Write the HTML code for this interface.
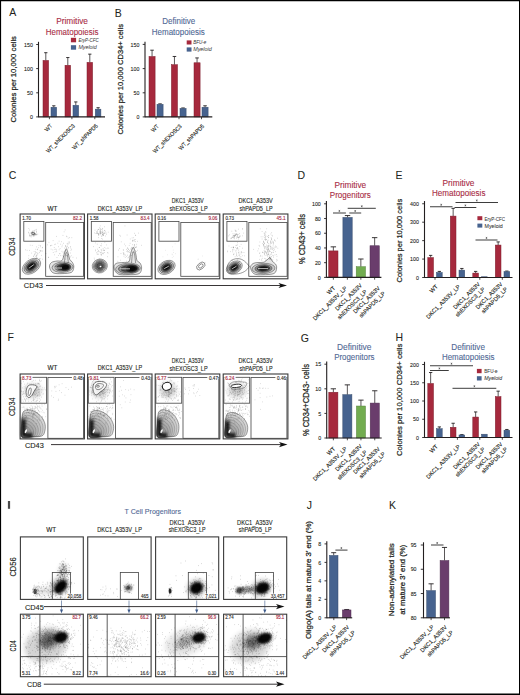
<!DOCTYPE html>
<html><head><meta charset="utf-8"><style>html,body{margin:0;padding:0;background:#fff;}svg{display:block;font-family:"Liberation Sans",sans-serif;}</style></head>
<body><svg width="520" height="695" viewBox="0 0 520 695" font-family="Liberation Sans, sans-serif"><rect x="0" y="0" width="520" height="695" fill="#fff"/>
<text x="9.2" y="16" font-size="10.5" fill="#231f20" stroke="#231f20" stroke-width="0.05">A</text>
<text x="56.2" y="24" font-size="8.4" fill="#a82c44" stroke="#a82c44" stroke-width="0.1" textLength="31.8" lengthAdjust="spacingAndGlyphs">Primitive</text>
<text x="45.8" y="34.6" font-size="8.4" fill="#a82c44" stroke="#a82c44" stroke-width="0.1" textLength="52.7" lengthAdjust="spacingAndGlyphs">Hematopoiesis</text>
<line x1="38.5" y1="41.8" x2="38.5" y2="117.30000000000001" stroke="#231f20" stroke-width="1.1"/>
<line x1="36.2" y1="44.5" x2="38.5" y2="44.5" stroke="#231f20" stroke-width="0.9"/>
<text x="32.9" y="46.65" font-size="6.0" fill="#231f20" stroke="#231f20" stroke-width="0.1" text-anchor="end" textLength="8.81" lengthAdjust="spacingAndGlyphs">150</text>
<line x1="36.2" y1="68.6" x2="38.5" y2="68.6" stroke="#231f20" stroke-width="0.9"/>
<text x="32.9" y="70.75" font-size="6.0" fill="#231f20" stroke="#231f20" stroke-width="0.1" text-anchor="end" textLength="8.81" lengthAdjust="spacingAndGlyphs">100</text>
<line x1="36.2" y1="92.8" x2="38.5" y2="92.8" stroke="#231f20" stroke-width="0.9"/>
<text x="32.9" y="94.95" font-size="6.0" fill="#231f20" stroke="#231f20" stroke-width="0.1" text-anchor="end" textLength="5.87" lengthAdjust="spacingAndGlyphs">50</text>
<line x1="36.2" y1="116.9" x2="38.5" y2="116.9" stroke="#231f20" stroke-width="0.9"/>
<text x="32.9" y="119.05" font-size="6.0" fill="#231f20" stroke="#231f20" stroke-width="0.1" text-anchor="end" textLength="2.94" lengthAdjust="spacingAndGlyphs">0</text>
<line x1="45.8" y1="60.428" x2="45.8" y2="52.70533333333333" stroke="#231f20" stroke-width="0.75"/>
<line x1="44.175999999999995" y1="52.70533333333333" x2="47.424" y2="52.70533333333333" stroke="#231f20" stroke-width="0.9"/>
<rect x="43.00" y="60.43" width="5.60" height="56.47" fill="#a6293d" stroke="#7c1e2d" stroke-width="0.5"/>
<line x1="53.8" y1="107.24666666666667" x2="53.8" y2="105.79866666666668" stroke="#231f20" stroke-width="0.75"/>
<line x1="52.175999999999995" y1="105.79866666666668" x2="55.424" y2="105.79866666666668" stroke="#231f20" stroke-width="0.9"/>
<rect x="51.00" y="107.25" width="5.60" height="9.65" fill="#47638f" stroke="#354a6b" stroke-width="0.5"/>
<line x1="67.8" y1="65.25466666666668" x2="67.8" y2="57.532000000000004" stroke="#231f20" stroke-width="0.75"/>
<line x1="66.176" y1="57.532000000000004" x2="69.42399999999999" y2="57.532000000000004" stroke="#231f20" stroke-width="0.9"/>
<rect x="65.00" y="65.25" width="5.60" height="51.65" fill="#a6293d" stroke="#7c1e2d" stroke-width="0.5"/>
<line x1="75.8" y1="105.316" x2="75.8" y2="101.93733333333334" stroke="#231f20" stroke-width="0.75"/>
<line x1="74.176" y1="101.93733333333334" x2="77.42399999999999" y2="101.93733333333334" stroke="#231f20" stroke-width="0.9"/>
<rect x="73.00" y="105.32" width="5.60" height="11.58" fill="#47638f" stroke="#354a6b" stroke-width="0.5"/>
<line x1="89.8" y1="62.358666666666664" x2="89.8" y2="54.153333333333336" stroke="#231f20" stroke-width="0.75"/>
<line x1="88.176" y1="54.153333333333336" x2="91.42399999999999" y2="54.153333333333336" stroke="#231f20" stroke-width="0.9"/>
<rect x="87.00" y="62.36" width="5.60" height="54.54" fill="#a6293d" stroke="#7c1e2d" stroke-width="0.5"/>
<line x1="98.1" y1="109.17733333333334" x2="98.1" y2="107.72933333333334" stroke="#231f20" stroke-width="0.75"/>
<line x1="96.476" y1="107.72933333333334" x2="99.72399999999999" y2="107.72933333333334" stroke="#231f20" stroke-width="0.9"/>
<rect x="95.30" y="109.18" width="5.60" height="7.72" fill="#47638f" stroke="#354a6b" stroke-width="0.5"/>
<line x1="38.5" y1="116.9" x2="105" y2="116.9" stroke="#231f20" stroke-width="1.1"/>
<line x1="49.4" y1="116.9" x2="49.4" y2="119.2" stroke="#231f20" stroke-width="0.8"/>
<line x1="71.9" y1="116.9" x2="71.9" y2="119.2" stroke="#231f20" stroke-width="0.8"/>
<line x1="94.8" y1="116.9" x2="94.8" y2="119.2" stroke="#231f20" stroke-width="0.8"/>
<rect x="70.90" y="37.80" width="5.20" height="4.50" fill="#a6293d"/>
<rect x="70.90" y="45.20" width="5.20" height="4.50" fill="#47638f"/>
<text x="78.4" y="41.8" font-size="5.4" fill="#333" textLength="20.4" lengthAdjust="spacingAndGlyphs" font-style="italic">EryP-CFC</text>
<text x="78.4" y="48.9" font-size="5.4" fill="#333" textLength="18.3" lengthAdjust="spacingAndGlyphs" font-style="italic">Myeloid</text>
<text x="16.5" y="79.3" font-size="7.8" fill="#231f20" stroke="#231f20" stroke-width="0.24" text-anchor="middle" textLength="86.5" lengthAdjust="spacingAndGlyphs" transform="rotate(-90 16.5 79.3)">Colonies per 10,000 cells</text>
<text x="52.9" y="126.3" font-size="5.8" fill="#231f20" stroke="#231f20" stroke-width="0.12" text-anchor="end" textLength="8.21" lengthAdjust="spacingAndGlyphs" transform="rotate(-45 52.9 126.3)">WT</text>
<text x="75.4" y="126.3" font-size="5.8" fill="#231f20" stroke="#231f20" stroke-width="0.12" text-anchor="end" textLength="38.13" lengthAdjust="spacingAndGlyphs" transform="rotate(-45 75.4 126.3)">WT_shEXOSC3</text>
<text x="98.3" y="126.3" font-size="5.8" fill="#231f20" stroke="#231f20" stroke-width="0.12" text-anchor="end" textLength="33.63" lengthAdjust="spacingAndGlyphs" transform="rotate(-45 98.3 126.3)">WT_shPAPD5</text>
<text x="114.8" y="16.7" font-size="10.5" fill="#231f20" stroke="#231f20" stroke-width="0.05">B</text>
<text x="178.7" y="24.2" font-size="8.4" fill="#4f6894" stroke="#4f6894" stroke-width="0.1" text-anchor="middle" textLength="33" lengthAdjust="spacingAndGlyphs">Definitive</text>
<text x="151.7" y="34.5" font-size="8.4" fill="#4f6894" stroke="#4f6894" stroke-width="0.1" textLength="53.1" lengthAdjust="spacingAndGlyphs">Hematopoiesis</text>
<line x1="145" y1="41.699999999999996" x2="145" y2="117.30000000000001" stroke="#231f20" stroke-width="1.1"/>
<line x1="142.7" y1="44.4" x2="145" y2="44.4" stroke="#231f20" stroke-width="0.9"/>
<text x="139.4" y="46.55" font-size="6.0" fill="#231f20" stroke="#231f20" stroke-width="0.1" text-anchor="end" textLength="8.81" lengthAdjust="spacingAndGlyphs">150</text>
<line x1="142.7" y1="68.6" x2="145" y2="68.6" stroke="#231f20" stroke-width="0.9"/>
<text x="139.4" y="70.75" font-size="6.0" fill="#231f20" stroke="#231f20" stroke-width="0.1" text-anchor="end" textLength="8.81" lengthAdjust="spacingAndGlyphs">100</text>
<line x1="142.7" y1="92.8" x2="145" y2="92.8" stroke="#231f20" stroke-width="0.9"/>
<text x="139.4" y="94.95" font-size="6.0" fill="#231f20" stroke="#231f20" stroke-width="0.1" text-anchor="end" textLength="5.87" lengthAdjust="spacingAndGlyphs">50</text>
<line x1="142.7" y1="116.9" x2="145" y2="116.9" stroke="#231f20" stroke-width="0.9"/>
<text x="139.4" y="119.05" font-size="6.0" fill="#231f20" stroke="#231f20" stroke-width="0.1" text-anchor="end" textLength="2.94" lengthAdjust="spacingAndGlyphs">0</text>
<line x1="152.05" y1="56.48333333333334" x2="152.05" y2="50.2" stroke="#231f20" stroke-width="0.75"/>
<line x1="150.281" y1="50.2" x2="153.81900000000002" y2="50.2" stroke="#231f20" stroke-width="0.9"/>
<rect x="149.00" y="56.48" width="6.10" height="60.42" fill="#a6293d" stroke="#7c1e2d" stroke-width="0.5"/>
<line x1="160.05" y1="104.33333333333334" x2="160.05" y2="103.85000000000001" stroke="#231f20" stroke-width="0.75"/>
<line x1="158.281" y1="103.85000000000001" x2="161.81900000000002" y2="103.85000000000001" stroke="#231f20" stroke-width="0.9"/>
<rect x="157.00" y="104.33" width="6.10" height="12.57" fill="#47638f" stroke="#354a6b" stroke-width="0.5"/>
<line x1="174.45" y1="64.7" x2="174.45" y2="56.48333333333334" stroke="#231f20" stroke-width="0.75"/>
<line x1="172.68099999999998" y1="56.48333333333334" x2="176.219" y2="56.48333333333334" stroke="#231f20" stroke-width="0.9"/>
<rect x="171.40" y="64.70" width="6.10" height="52.20" fill="#a6293d" stroke="#7c1e2d" stroke-width="0.5"/>
<line x1="183.05" y1="108.44166666666668" x2="183.05" y2="107.95833333333334" stroke="#231f20" stroke-width="0.75"/>
<line x1="181.281" y1="107.95833333333334" x2="184.81900000000002" y2="107.95833333333334" stroke="#231f20" stroke-width="0.9"/>
<rect x="180.00" y="108.44" width="6.10" height="8.46" fill="#47638f" stroke="#354a6b" stroke-width="0.5"/>
<line x1="197.05" y1="62.76666666666667" x2="197.05" y2="57.93333333333334" stroke="#231f20" stroke-width="0.75"/>
<line x1="195.281" y1="57.93333333333334" x2="198.81900000000002" y2="57.93333333333334" stroke="#231f20" stroke-width="0.9"/>
<rect x="194.00" y="62.77" width="6.10" height="54.13" fill="#a6293d" stroke="#7c1e2d" stroke-width="0.5"/>
<line x1="205.05" y1="107.23333333333333" x2="205.05" y2="105.78333333333333" stroke="#231f20" stroke-width="0.75"/>
<line x1="203.281" y1="105.78333333333333" x2="206.81900000000002" y2="105.78333333333333" stroke="#231f20" stroke-width="0.9"/>
<rect x="202.00" y="107.23" width="6.10" height="9.67" fill="#47638f" stroke="#354a6b" stroke-width="0.5"/>
<line x1="145" y1="116.9" x2="212.3" y2="116.9" stroke="#231f20" stroke-width="1.1"/>
<line x1="156" y1="116.9" x2="156" y2="119.2" stroke="#231f20" stroke-width="0.8"/>
<line x1="179" y1="116.9" x2="179" y2="119.2" stroke="#231f20" stroke-width="0.8"/>
<line x1="201.5" y1="116.9" x2="201.5" y2="119.2" stroke="#231f20" stroke-width="0.8"/>
<rect x="186.70" y="40.40" width="4.80" height="4.10" fill="#a6293d"/>
<rect x="186.70" y="47.40" width="4.80" height="4.20" fill="#47638f"/>
<text x="193.2" y="44.3" font-size="5.4" fill="#333" textLength="13" lengthAdjust="spacingAndGlyphs" font-style="italic">BFU-e</text>
<text x="193.2" y="51.4" font-size="5.4" fill="#333" textLength="18.5" lengthAdjust="spacingAndGlyphs" font-style="italic">Myeloid</text>
<text x="123.5" y="79.3" font-size="7.8" fill="#231f20" stroke="#231f20" stroke-width="0.24" text-anchor="middle" textLength="110.6" lengthAdjust="spacingAndGlyphs" transform="rotate(-90 123.5 79.3)">Colonies per 10,000 CD34+ cells</text>
<text x="159.2" y="126.6" font-size="5.8" fill="#231f20" stroke="#231f20" stroke-width="0.12" text-anchor="end" textLength="8.21" lengthAdjust="spacingAndGlyphs" transform="rotate(-45 159.2 126.6)">WT</text>
<text x="182.2" y="126.6" font-size="5.8" fill="#231f20" stroke="#231f20" stroke-width="0.12" text-anchor="end" textLength="38.13" lengthAdjust="spacingAndGlyphs" transform="rotate(-45 182.2 126.6)">WT_shEXOSC3</text>
<text x="204.7" y="126.6" font-size="5.8" fill="#231f20" stroke="#231f20" stroke-width="0.12" text-anchor="end" textLength="33.63" lengthAdjust="spacingAndGlyphs" transform="rotate(-45 204.7 126.6)">WT_shPAPD5</text>
<text x="297.4" y="178.6" font-size="10.5" fill="#231f20" stroke="#231f20" stroke-width="0.05">D</text>
<text x="350.3" y="188" font-size="8.4" fill="#a82c44" stroke="#a82c44" stroke-width="0.1" text-anchor="middle" textLength="31.8" lengthAdjust="spacingAndGlyphs">Primitive</text>
<text x="350.3" y="198" font-size="8.4" fill="#a82c44" stroke="#a82c44" stroke-width="0.1" text-anchor="middle" textLength="41" lengthAdjust="spacingAndGlyphs">Progenitors</text>
<line x1="326.4" y1="201.10000000000002" x2="326.4" y2="277.79999999999995" stroke="#231f20" stroke-width="1.1"/>
<line x1="324.09999999999997" y1="203.8" x2="326.4" y2="203.8" stroke="#231f20" stroke-width="0.9"/>
<text x="320.8" y="205.95" font-size="6.0" fill="#231f20" stroke="#231f20" stroke-width="0.1" text-anchor="end" textLength="8.81" lengthAdjust="spacingAndGlyphs">100</text>
<line x1="324.09999999999997" y1="218.52" x2="326.4" y2="218.52" stroke="#231f20" stroke-width="0.9"/>
<text x="320.8" y="220.67" font-size="6.0" fill="#231f20" stroke="#231f20" stroke-width="0.1" text-anchor="end" textLength="5.87" lengthAdjust="spacingAndGlyphs">80</text>
<line x1="324.09999999999997" y1="233.24" x2="326.4" y2="233.24" stroke="#231f20" stroke-width="0.9"/>
<text x="320.8" y="235.39" font-size="6.0" fill="#231f20" stroke="#231f20" stroke-width="0.1" text-anchor="end" textLength="5.87" lengthAdjust="spacingAndGlyphs">60</text>
<line x1="324.09999999999997" y1="247.95999999999998" x2="326.4" y2="247.95999999999998" stroke="#231f20" stroke-width="0.9"/>
<text x="320.8" y="250.11" font-size="6.0" fill="#231f20" stroke="#231f20" stroke-width="0.1" text-anchor="end" textLength="5.87" lengthAdjust="spacingAndGlyphs">40</text>
<line x1="324.09999999999997" y1="262.68" x2="326.4" y2="262.68" stroke="#231f20" stroke-width="0.9"/>
<text x="320.8" y="264.83" font-size="6.0" fill="#231f20" stroke="#231f20" stroke-width="0.1" text-anchor="end" textLength="5.87" lengthAdjust="spacingAndGlyphs">20</text>
<line x1="324.09999999999997" y1="277.4" x2="326.4" y2="277.4" stroke="#231f20" stroke-width="0.9"/>
<text x="320.8" y="279.55" font-size="6.0" fill="#231f20" stroke="#231f20" stroke-width="0.1" text-anchor="end" textLength="2.94" lengthAdjust="spacingAndGlyphs">0</text>
<line x1="333.35" y1="250.904" x2="333.35" y2="246.856" stroke="#231f20" stroke-width="0.75"/>
<line x1="330.653" y1="246.856" x2="336.047" y2="246.856" stroke="#231f20" stroke-width="0.9"/>
<rect x="328.70" y="250.90" width="9.30" height="26.50" fill="#a6293d" stroke="#7c1e2d" stroke-width="0.5"/>
<line x1="347.54999999999995" y1="217.416" x2="347.54999999999995" y2="215.57600000000002" stroke="#231f20" stroke-width="0.75"/>
<line x1="344.85299999999995" y1="215.57600000000002" x2="350.24699999999996" y2="215.57600000000002" stroke="#231f20" stroke-width="0.9"/>
<rect x="342.90" y="217.42" width="9.30" height="59.98" fill="#47638f" stroke="#354a6b" stroke-width="0.5"/>
<line x1="360.85" y1="266.728" x2="360.85" y2="259.0" stroke="#231f20" stroke-width="0.75"/>
<line x1="358.153" y1="259.0" x2="363.547" y2="259.0" stroke="#231f20" stroke-width="0.9"/>
<rect x="356.20" y="266.73" width="9.30" height="10.67" fill="#72ac50" stroke="#55813c" stroke-width="0.5"/>
<line x1="374.65" y1="245.752" x2="374.65" y2="237.656" stroke="#231f20" stroke-width="0.75"/>
<line x1="371.953" y1="237.656" x2="377.347" y2="237.656" stroke="#231f20" stroke-width="0.9"/>
<rect x="370.00" y="245.75" width="9.30" height="31.65" fill="#6a3d6c" stroke="#4f2d51" stroke-width="0.5"/>
<line x1="326.4" y1="277.4" x2="381.4" y2="277.4" stroke="#231f20" stroke-width="1.1"/>
<line x1="333.35" y1="277.4" x2="333.35" y2="279.7" stroke="#231f20" stroke-width="0.8"/>
<line x1="347.35" y1="277.4" x2="347.35" y2="279.7" stroke="#231f20" stroke-width="0.8"/>
<line x1="360.85" y1="277.4" x2="360.85" y2="279.7" stroke="#231f20" stroke-width="0.8"/>
<line x1="374.65" y1="277.4" x2="374.65" y2="279.7" stroke="#231f20" stroke-width="0.8"/>
<text x="305.2" y="239" font-size="8.8" fill="#231f20" stroke="#231f20" stroke-width="0.24" text-anchor="middle" textLength="50.2" lengthAdjust="spacingAndGlyphs" transform="rotate(-90 305.2 239)">% CD43+ cells</text>
<text x="335.6" y="288.6" font-size="5.8" fill="#231f20" stroke="#231f20" stroke-width="0.12" text-anchor="end" textLength="8.84" lengthAdjust="spacingAndGlyphs" transform="rotate(-45 335.6 288.6)">WT</text>
<text x="347.4" y="288.5" font-size="5.8" fill="#231f20" stroke="#231f20" stroke-width="0.12" text-anchor="end" textLength="45.5" lengthAdjust="spacingAndGlyphs" transform="rotate(-45 347.4 288.5)">DKC1_A353V_LP</text>
<text x="362.43" y="285.9" font-size="5.8" fill="#231f20" stroke="#231f20" stroke-width="0.12" text-anchor="end" textLength="35.39" lengthAdjust="spacingAndGlyphs" transform="rotate(-45 362.43 285.9)">DKC1_A353V</text>
<text x="367.47" y="291.97" font-size="5.8" fill="#231f20" stroke="#231f20" stroke-width="0.12" text-anchor="end" textLength="39.18" lengthAdjust="spacingAndGlyphs" transform="rotate(-45 367.47 291.97)">shEXOSC3_LP</text>
<text x="380.43" y="288.6" font-size="5.8" fill="#231f20" stroke="#231f20" stroke-width="0.12" text-anchor="end" textLength="35.39" lengthAdjust="spacingAndGlyphs" transform="rotate(-45 380.43 288.6)">DKC1_A353V</text>
<text x="385.67" y="293.77" font-size="5.8" fill="#231f20" stroke="#231f20" stroke-width="0.12" text-anchor="end" textLength="34.33" lengthAdjust="spacingAndGlyphs" transform="rotate(-45 385.67 293.77)">shPAPD5_LP</text>
<text x="395.5" y="178.75" font-size="10.5" fill="#231f20" stroke="#231f20" stroke-width="0.05">E</text>
<text x="458.5" y="186.3" font-size="8.4" fill="#a82c44" stroke="#a82c44" stroke-width="0.1" text-anchor="middle" textLength="32" lengthAdjust="spacingAndGlyphs">Primitive</text>
<text x="458.7" y="196.2" font-size="8.4" fill="#a82c44" stroke="#a82c44" stroke-width="0.1" text-anchor="middle" textLength="53.5" lengthAdjust="spacingAndGlyphs">Hematopoiesis</text>
<line x1="424.5" y1="201.05" x2="424.5" y2="277.9" stroke="#231f20" stroke-width="1.1"/>
<line x1="422.2" y1="203.75" x2="424.5" y2="203.75" stroke="#231f20" stroke-width="0.9"/>
<text x="418.9" y="205.9" font-size="6.0" fill="#231f20" stroke="#231f20" stroke-width="0.1" text-anchor="end" textLength="8.81" lengthAdjust="spacingAndGlyphs">400</text>
<line x1="422.2" y1="222.1875" x2="424.5" y2="222.1875" stroke="#231f20" stroke-width="0.9"/>
<text x="418.9" y="224.34" font-size="6.0" fill="#231f20" stroke="#231f20" stroke-width="0.1" text-anchor="end" textLength="8.81" lengthAdjust="spacingAndGlyphs">300</text>
<line x1="422.2" y1="240.625" x2="424.5" y2="240.625" stroke="#231f20" stroke-width="0.9"/>
<text x="418.9" y="242.78" font-size="6.0" fill="#231f20" stroke="#231f20" stroke-width="0.1" text-anchor="end" textLength="8.81" lengthAdjust="spacingAndGlyphs">200</text>
<line x1="422.2" y1="259.0625" x2="424.5" y2="259.0625" stroke="#231f20" stroke-width="0.9"/>
<text x="418.9" y="261.21" font-size="6.0" fill="#231f20" stroke="#231f20" stroke-width="0.1" text-anchor="end" textLength="8.81" lengthAdjust="spacingAndGlyphs">100</text>
<line x1="422.2" y1="277.5" x2="424.5" y2="277.5" stroke="#231f20" stroke-width="0.9"/>
<text x="418.9" y="279.65" font-size="6.0" fill="#231f20" stroke="#231f20" stroke-width="0.1" text-anchor="end" textLength="2.94" lengthAdjust="spacingAndGlyphs">0</text>
<line x1="430.65" y1="257.5875" x2="430.65" y2="255.375" stroke="#231f20" stroke-width="0.75"/>
<line x1="428.99699999999996" y1="255.375" x2="432.303" y2="255.375" stroke="#231f20" stroke-width="0.9"/>
<rect x="427.80" y="257.59" width="5.70" height="19.91" fill="#a6293d" stroke="#7c1e2d" stroke-width="0.5"/>
<line x1="439.35" y1="272.521875" x2="439.35" y2="271.415625" stroke="#231f20" stroke-width="0.75"/>
<line x1="437.697" y1="271.415625" x2="441.00300000000004" y2="271.415625" stroke="#231f20" stroke-width="0.9"/>
<rect x="436.50" y="272.52" width="5.70" height="4.98" fill="#47638f" stroke="#354a6b" stroke-width="0.5"/>
<line x1="453.15" y1="216.103125" x2="453.15" y2="208.359375" stroke="#231f20" stroke-width="0.75"/>
<line x1="451.49699999999996" y1="208.359375" x2="454.803" y2="208.359375" stroke="#231f20" stroke-width="0.9"/>
<rect x="450.30" y="216.10" width="5.70" height="61.40" fill="#a6293d" stroke="#7c1e2d" stroke-width="0.5"/>
<line x1="461.85" y1="270.125" x2="461.85" y2="268.465625" stroke="#231f20" stroke-width="0.75"/>
<line x1="460.197" y1="268.465625" x2="463.50300000000004" y2="268.465625" stroke="#231f20" stroke-width="0.9"/>
<rect x="459.00" y="270.12" width="5.70" height="7.38" fill="#47638f" stroke="#354a6b" stroke-width="0.5"/>
<line x1="475.65" y1="273.075" x2="475.65" y2="271.415625" stroke="#231f20" stroke-width="0.75"/>
<line x1="473.99699999999996" y1="271.415625" x2="477.303" y2="271.415625" stroke="#231f20" stroke-width="0.9"/>
<rect x="472.80" y="273.07" width="5.70" height="4.43" fill="#a6293d" stroke="#7c1e2d" stroke-width="0.5"/>
<rect x="481.50" y="276.76" width="5.70" height="0.74" fill="#47638f" stroke="#354a6b" stroke-width="0.5"/>
<line x1="498.15" y1="245.05" x2="498.15" y2="241.915625" stroke="#231f20" stroke-width="0.75"/>
<line x1="496.49699999999996" y1="241.915625" x2="499.803" y2="241.915625" stroke="#231f20" stroke-width="0.9"/>
<rect x="495.30" y="245.05" width="5.70" height="32.45" fill="#a6293d" stroke="#7c1e2d" stroke-width="0.5"/>
<line x1="506.85" y1="271.6" x2="506.85" y2="271.046875" stroke="#231f20" stroke-width="0.75"/>
<line x1="505.197" y1="271.046875" x2="508.50300000000004" y2="271.046875" stroke="#231f20" stroke-width="0.9"/>
<rect x="504.00" y="271.60" width="5.70" height="5.90" fill="#47638f" stroke="#354a6b" stroke-width="0.5"/>
<line x1="424.5" y1="277.5" x2="512.5" y2="277.5" stroke="#231f20" stroke-width="1.1"/>
<line x1="435" y1="277.5" x2="435" y2="279.8" stroke="#231f20" stroke-width="0.8"/>
<line x1="457.4" y1="277.5" x2="457.4" y2="279.8" stroke="#231f20" stroke-width="0.8"/>
<line x1="479.8" y1="277.5" x2="479.8" y2="279.8" stroke="#231f20" stroke-width="0.8"/>
<line x1="502.3" y1="277.5" x2="502.3" y2="279.8" stroke="#231f20" stroke-width="0.8"/>
<rect x="477.40" y="216.20" width="4.90" height="4.00" fill="#a6293d"/>
<rect x="477.40" y="223.60" width="4.90" height="4.00" fill="#47638f"/>
<text x="484.5" y="220.6" font-size="5.2" fill="#333" stroke="#333" stroke-width="0.05" textLength="20.6" lengthAdjust="spacingAndGlyphs">EryP-CFC</text>
<text x="484.5" y="227.6" font-size="5.2" fill="#333" stroke="#333" stroke-width="0.05" textLength="18.3" lengthAdjust="spacingAndGlyphs">Myeloid</text>
<text x="402.5" y="240.6" font-size="7.8" fill="#231f20" stroke="#231f20" stroke-width="0.24" text-anchor="middle" textLength="83.7" lengthAdjust="spacingAndGlyphs" transform="rotate(-90 402.5 240.6)">Colonies per 10,000 cells</text>
<text x="438.2" y="287.0" font-size="5.8" fill="#231f20" stroke="#231f20" stroke-width="0.12" text-anchor="end" textLength="8.84" lengthAdjust="spacingAndGlyphs" transform="rotate(-45 438.2 287.0)">WT</text>
<text x="460.6" y="287.0" font-size="5.8" fill="#231f20" stroke="#231f20" stroke-width="0.12" text-anchor="end" textLength="45.5" lengthAdjust="spacingAndGlyphs" transform="rotate(-45 460.6 287.0)">DKC1_A353V_LP</text>
<text x="480.53" y="284.53" font-size="5.8" fill="#231f20" stroke="#231f20" stroke-width="0.12" text-anchor="end" textLength="35.39" lengthAdjust="spacingAndGlyphs" transform="rotate(-45 480.53 284.53)">DKC1_A353V</text>
<text x="485.47" y="289.47" font-size="5.8" fill="#231f20" stroke="#231f20" stroke-width="0.12" text-anchor="end" textLength="39.18" lengthAdjust="spacingAndGlyphs" transform="rotate(-45 485.47 289.47)">shEXOSC3_LP</text>
<text x="503.03" y="284.53" font-size="5.8" fill="#231f20" stroke="#231f20" stroke-width="0.12" text-anchor="end" textLength="35.39" lengthAdjust="spacingAndGlyphs" transform="rotate(-45 503.03 284.53)">DKC1_A353V</text>
<text x="507.97" y="289.47" font-size="5.8" fill="#231f20" stroke="#231f20" stroke-width="0.12" text-anchor="end" textLength="34.33" lengthAdjust="spacingAndGlyphs" transform="rotate(-45 507.97 289.47)">shPAPD5_LP</text>
<text x="300.8" y="341.6" font-size="10.5" fill="#231f20" stroke="#231f20" stroke-width="0.05">G</text>
<text x="354.2" y="349.8" font-size="8.4" fill="#4f6894" stroke="#4f6894" stroke-width="0.1" text-anchor="middle" textLength="34.5" lengthAdjust="spacingAndGlyphs">Definitive</text>
<text x="354.3" y="360" font-size="8.4" fill="#4f6894" stroke="#4f6894" stroke-width="0.1" text-anchor="middle" textLength="40.3" lengthAdjust="spacingAndGlyphs">Progenitors</text>
<line x1="326.7" y1="361.5" x2="326.7" y2="438.4" stroke="#231f20" stroke-width="1.1"/>
<line x1="324.4" y1="364.2" x2="326.7" y2="364.2" stroke="#231f20" stroke-width="0.9"/>
<text x="321.1" y="366.35" font-size="6.0" fill="#231f20" stroke="#231f20" stroke-width="0.1" text-anchor="end" textLength="5.87" lengthAdjust="spacingAndGlyphs">15</text>
<line x1="324.4" y1="388.8" x2="326.7" y2="388.8" stroke="#231f20" stroke-width="0.9"/>
<text x="321.1" y="390.95" font-size="6.0" fill="#231f20" stroke="#231f20" stroke-width="0.1" text-anchor="end" textLength="5.87" lengthAdjust="spacingAndGlyphs">10</text>
<line x1="324.4" y1="413.4" x2="326.7" y2="413.4" stroke="#231f20" stroke-width="0.9"/>
<text x="321.1" y="415.55" font-size="6.0" fill="#231f20" stroke="#231f20" stroke-width="0.1" text-anchor="end" textLength="2.94" lengthAdjust="spacingAndGlyphs">5</text>
<line x1="324.4" y1="438.0" x2="326.7" y2="438.0" stroke="#231f20" stroke-width="0.9"/>
<text x="321.1" y="440.15" font-size="6.0" fill="#231f20" stroke="#231f20" stroke-width="0.1" text-anchor="end" textLength="2.94" lengthAdjust="spacingAndGlyphs">0</text>
<line x1="333.35" y1="392.24399999999997" x2="333.35" y2="388.8" stroke="#231f20" stroke-width="0.75"/>
<line x1="330.711" y1="388.8" x2="335.98900000000003" y2="388.8" stroke="#231f20" stroke-width="0.9"/>
<rect x="328.80" y="392.24" width="9.10" height="45.76" fill="#a6293d" stroke="#7c1e2d" stroke-width="0.5"/>
<line x1="347.35" y1="394.704" x2="347.35" y2="384.864" stroke="#231f20" stroke-width="0.75"/>
<line x1="344.711" y1="384.864" x2="349.98900000000003" y2="384.864" stroke="#231f20" stroke-width="0.9"/>
<rect x="342.80" y="394.70" width="9.10" height="43.30" fill="#47638f" stroke="#354a6b" stroke-width="0.5"/>
<line x1="360.95" y1="406.02" x2="360.95" y2="400.116" stroke="#231f20" stroke-width="0.75"/>
<line x1="358.311" y1="400.116" x2="363.589" y2="400.116" stroke="#231f20" stroke-width="0.9"/>
<rect x="356.40" y="406.02" width="9.10" height="31.98" fill="#72ac50" stroke="#55813c" stroke-width="0.5"/>
<line x1="374.75" y1="403.068" x2="374.75" y2="390.768" stroke="#231f20" stroke-width="0.75"/>
<line x1="372.111" y1="390.768" x2="377.389" y2="390.768" stroke="#231f20" stroke-width="0.9"/>
<rect x="370.20" y="403.07" width="9.10" height="34.93" fill="#6a3d6c" stroke="#4f2d51" stroke-width="0.5"/>
<line x1="326.7" y1="438" x2="381.7" y2="438" stroke="#231f20" stroke-width="1.1"/>
<line x1="333.35" y1="438" x2="333.35" y2="440.3" stroke="#231f20" stroke-width="0.8"/>
<line x1="347.35" y1="438" x2="347.35" y2="440.3" stroke="#231f20" stroke-width="0.8"/>
<line x1="360.95" y1="438" x2="360.95" y2="440.3" stroke="#231f20" stroke-width="0.8"/>
<line x1="374.75" y1="438" x2="374.75" y2="440.3" stroke="#231f20" stroke-width="0.8"/>
<text x="308.5" y="400" font-size="8.8" fill="#231f20" stroke="#231f20" stroke-width="0.24" text-anchor="middle" textLength="72" lengthAdjust="spacingAndGlyphs" transform="rotate(-90 308.5 400)">% CD34+CD43- cells</text>
<text x="335.6" y="449.2" font-size="5.8" fill="#231f20" stroke="#231f20" stroke-width="0.12" text-anchor="end" textLength="8.84" lengthAdjust="spacingAndGlyphs" transform="rotate(-45 335.6 449.2)">WT</text>
<text x="347.4" y="449.1" font-size="5.8" fill="#231f20" stroke="#231f20" stroke-width="0.12" text-anchor="end" textLength="45.5" lengthAdjust="spacingAndGlyphs" transform="rotate(-45 347.4 449.1)">DKC1_A353V_LP</text>
<text x="362.53" y="446.5" font-size="5.8" fill="#231f20" stroke="#231f20" stroke-width="0.12" text-anchor="end" textLength="35.39" lengthAdjust="spacingAndGlyphs" transform="rotate(-45 362.53 446.5)">DKC1_A353V</text>
<text x="367.57" y="452.57" font-size="5.8" fill="#231f20" stroke="#231f20" stroke-width="0.12" text-anchor="end" textLength="39.18" lengthAdjust="spacingAndGlyphs" transform="rotate(-45 367.57 452.57)">shEXOSC3_LP</text>
<text x="380.53" y="449.2" font-size="5.8" fill="#231f20" stroke="#231f20" stroke-width="0.12" text-anchor="end" textLength="35.39" lengthAdjust="spacingAndGlyphs" transform="rotate(-45 380.53 449.2)">DKC1_A353V</text>
<text x="385.77" y="454.37" font-size="5.8" fill="#231f20" stroke="#231f20" stroke-width="0.12" text-anchor="end" textLength="34.33" lengthAdjust="spacingAndGlyphs" transform="rotate(-45 385.77 454.37)">shPAPD5_LP</text>
<text x="395.5" y="341.25" font-size="10.5" fill="#231f20" stroke="#231f20" stroke-width="0.05">H</text>
<text x="468.1" y="350" font-size="8.4" fill="#4f6894" stroke="#4f6894" stroke-width="0.1" text-anchor="middle" textLength="33.7" lengthAdjust="spacingAndGlyphs">Definitive</text>
<text x="468.2" y="360" font-size="8.4" fill="#4f6894" stroke="#4f6894" stroke-width="0.1" text-anchor="middle" textLength="52.5" lengthAdjust="spacingAndGlyphs">Hematopoiesis</text>
<line x1="424.5" y1="361.8" x2="424.5" y2="437.9" stroke="#231f20" stroke-width="1.1"/>
<line x1="422.2" y1="364.5" x2="424.5" y2="364.5" stroke="#231f20" stroke-width="0.9"/>
<text x="418.9" y="366.65" font-size="6.0" fill="#231f20" stroke="#231f20" stroke-width="0.1" text-anchor="end" textLength="8.81" lengthAdjust="spacingAndGlyphs">200</text>
<line x1="422.2" y1="382.75" x2="424.5" y2="382.75" stroke="#231f20" stroke-width="0.9"/>
<text x="418.9" y="384.9" font-size="6.0" fill="#231f20" stroke="#231f20" stroke-width="0.1" text-anchor="end" textLength="8.81" lengthAdjust="spacingAndGlyphs">150</text>
<line x1="422.2" y1="401.0" x2="424.5" y2="401.0" stroke="#231f20" stroke-width="0.9"/>
<text x="418.9" y="403.15" font-size="6.0" fill="#231f20" stroke="#231f20" stroke-width="0.1" text-anchor="end" textLength="8.81" lengthAdjust="spacingAndGlyphs">100</text>
<line x1="422.2" y1="419.25" x2="424.5" y2="419.25" stroke="#231f20" stroke-width="0.9"/>
<text x="418.9" y="421.4" font-size="6.0" fill="#231f20" stroke="#231f20" stroke-width="0.1" text-anchor="end" textLength="5.87" lengthAdjust="spacingAndGlyphs">50</text>
<line x1="422.2" y1="437.5" x2="424.5" y2="437.5" stroke="#231f20" stroke-width="0.9"/>
<text x="418.9" y="439.65" font-size="6.0" fill="#231f20" stroke="#231f20" stroke-width="0.1" text-anchor="end" textLength="2.94" lengthAdjust="spacingAndGlyphs">0</text>
<line x1="430.65" y1="383.48" x2="430.65" y2="372.53" stroke="#231f20" stroke-width="0.75"/>
<line x1="428.99699999999996" y1="372.53" x2="432.303" y2="372.53" stroke="#231f20" stroke-width="0.9"/>
<rect x="427.80" y="383.48" width="5.70" height="54.02" fill="#a6293d" stroke="#7c1e2d" stroke-width="0.5"/>
<line x1="439.35" y1="428.74" x2="439.35" y2="426.915" stroke="#231f20" stroke-width="0.75"/>
<line x1="437.697" y1="426.915" x2="441.00300000000004" y2="426.915" stroke="#231f20" stroke-width="0.9"/>
<rect x="436.50" y="428.74" width="5.70" height="8.76" fill="#47638f" stroke="#354a6b" stroke-width="0.5"/>
<line x1="453.15" y1="427.28" x2="453.15" y2="423.265" stroke="#231f20" stroke-width="0.75"/>
<line x1="451.49699999999996" y1="423.265" x2="454.803" y2="423.265" stroke="#231f20" stroke-width="0.9"/>
<rect x="450.30" y="427.28" width="5.70" height="10.22" fill="#a6293d" stroke="#7c1e2d" stroke-width="0.5"/>
<line x1="461.85" y1="434.945" x2="461.85" y2="434.58" stroke="#231f20" stroke-width="0.75"/>
<line x1="460.197" y1="434.58" x2="463.50300000000004" y2="434.58" stroke="#231f20" stroke-width="0.9"/>
<rect x="459.00" y="434.94" width="5.70" height="2.56" fill="#47638f" stroke="#354a6b" stroke-width="0.5"/>
<line x1="475.65" y1="417.06" x2="475.65" y2="411.95" stroke="#231f20" stroke-width="0.75"/>
<line x1="473.99699999999996" y1="411.95" x2="477.303" y2="411.95" stroke="#231f20" stroke-width="0.9"/>
<rect x="472.80" y="417.06" width="5.70" height="20.44" fill="#a6293d" stroke="#7c1e2d" stroke-width="0.5"/>
<rect x="481.50" y="434.21" width="5.70" height="3.29" fill="#47638f" stroke="#354a6b" stroke-width="0.5"/>
<line x1="498.15" y1="396.62" x2="498.15" y2="391.145" stroke="#231f20" stroke-width="0.75"/>
<line x1="496.49699999999996" y1="391.145" x2="499.803" y2="391.145" stroke="#231f20" stroke-width="0.9"/>
<rect x="495.30" y="396.62" width="5.70" height="40.88" fill="#a6293d" stroke="#7c1e2d" stroke-width="0.5"/>
<line x1="506.85" y1="430.2" x2="506.85" y2="429.47" stroke="#231f20" stroke-width="0.75"/>
<line x1="505.197" y1="429.47" x2="508.50300000000004" y2="429.47" stroke="#231f20" stroke-width="0.9"/>
<rect x="504.00" y="430.20" width="5.70" height="7.30" fill="#47638f" stroke="#354a6b" stroke-width="0.5"/>
<line x1="424.5" y1="437.5" x2="512.5" y2="437.5" stroke="#231f20" stroke-width="1.1"/>
<line x1="435" y1="437.5" x2="435" y2="439.8" stroke="#231f20" stroke-width="0.8"/>
<line x1="457.4" y1="437.5" x2="457.4" y2="439.8" stroke="#231f20" stroke-width="0.8"/>
<line x1="479.8" y1="437.5" x2="479.8" y2="439.8" stroke="#231f20" stroke-width="0.8"/>
<line x1="502.3" y1="437.5" x2="502.3" y2="439.8" stroke="#231f20" stroke-width="0.8"/>
<rect x="476.90" y="368.90" width="4.70" height="4.30" fill="#a6293d"/>
<rect x="476.90" y="376.20" width="4.70" height="4.30" fill="#47638f"/>
<text x="484.3" y="372.9" font-size="5.2" fill="#333" stroke="#333" stroke-width="0.05" textLength="13.3" lengthAdjust="spacingAndGlyphs">BFU-e</text>
<text x="484.3" y="380.2" font-size="5.2" fill="#333" stroke="#333" stroke-width="0.05" textLength="17.8" lengthAdjust="spacingAndGlyphs" font-style="italic">Myeloid</text>
<text x="402.5" y="399.9" font-size="7.8" fill="#231f20" stroke="#231f20" stroke-width="0.24" text-anchor="middle" textLength="112.3" lengthAdjust="spacingAndGlyphs" transform="rotate(-90 402.5 399.9)">Colonies per 10,000 CD34+ cells</text>
<text x="438.2" y="447.0" font-size="5.8" fill="#231f20" stroke="#231f20" stroke-width="0.12" text-anchor="end" textLength="8.84" lengthAdjust="spacingAndGlyphs" transform="rotate(-45 438.2 447.0)">WT</text>
<text x="460.6" y="447.0" font-size="5.8" fill="#231f20" stroke="#231f20" stroke-width="0.12" text-anchor="end" textLength="45.5" lengthAdjust="spacingAndGlyphs" transform="rotate(-45 460.6 447.0)">DKC1_A353V_LP</text>
<text x="480.53" y="444.53" font-size="5.8" fill="#231f20" stroke="#231f20" stroke-width="0.12" text-anchor="end" textLength="35.39" lengthAdjust="spacingAndGlyphs" transform="rotate(-45 480.53 444.53)">DKC1_A353V</text>
<text x="485.47" y="449.47" font-size="5.8" fill="#231f20" stroke="#231f20" stroke-width="0.12" text-anchor="end" textLength="39.18" lengthAdjust="spacingAndGlyphs" transform="rotate(-45 485.47 449.47)">shEXOSC3_LP</text>
<text x="503.03" y="444.53" font-size="5.8" fill="#231f20" stroke="#231f20" stroke-width="0.12" text-anchor="end" textLength="35.39" lengthAdjust="spacingAndGlyphs" transform="rotate(-45 503.03 444.53)">DKC1_A353V</text>
<text x="507.97" y="449.47" font-size="5.8" fill="#231f20" stroke="#231f20" stroke-width="0.12" text-anchor="end" textLength="34.33" lengthAdjust="spacingAndGlyphs" transform="rotate(-45 507.97 449.47)">shPAPD5_LP</text>
<text x="306.8" y="509.4" font-size="10.5" fill="#231f20" stroke="#231f20" stroke-width="0.05">J</text>
<line x1="326.8" y1="541.1999999999999" x2="326.8" y2="618.1999999999999" stroke="#231f20" stroke-width="1.1"/>
<line x1="324.5" y1="543.9" x2="326.8" y2="543.9" stroke="#231f20" stroke-width="0.9"/>
<text x="321.2" y="546.05" font-size="6.0" fill="#231f20" stroke="#231f20" stroke-width="0.1" text-anchor="end" textLength="2.94" lengthAdjust="spacingAndGlyphs">8</text>
<line x1="324.5" y1="562.375" x2="326.8" y2="562.375" stroke="#231f20" stroke-width="0.9"/>
<text x="321.2" y="564.52" font-size="6.0" fill="#231f20" stroke="#231f20" stroke-width="0.1" text-anchor="end" textLength="2.94" lengthAdjust="spacingAndGlyphs">6</text>
<line x1="324.5" y1="580.8499999999999" x2="326.8" y2="580.8499999999999" stroke="#231f20" stroke-width="0.9"/>
<text x="321.2" y="583.0" font-size="6.0" fill="#231f20" stroke="#231f20" stroke-width="0.1" text-anchor="end" textLength="2.94" lengthAdjust="spacingAndGlyphs">4</text>
<line x1="324.5" y1="599.3249999999999" x2="326.8" y2="599.3249999999999" stroke="#231f20" stroke-width="0.9"/>
<text x="321.2" y="601.47" font-size="6.0" fill="#231f20" stroke="#231f20" stroke-width="0.1" text-anchor="end" textLength="2.94" lengthAdjust="spacingAndGlyphs">2</text>
<line x1="324.5" y1="617.8" x2="326.8" y2="617.8" stroke="#231f20" stroke-width="0.9"/>
<text x="321.2" y="619.95" font-size="6.0" fill="#231f20" stroke="#231f20" stroke-width="0.1" text-anchor="end" textLength="2.94" lengthAdjust="spacingAndGlyphs">0</text>
<line x1="333.7" y1="555.446875" x2="333.7" y2="552.675625" stroke="#231f20" stroke-width="0.75"/>
<line x1="331.20599999999996" y1="552.675625" x2="336.194" y2="552.675625" stroke="#231f20" stroke-width="0.9"/>
<rect x="329.40" y="555.45" width="8.60" height="62.35" fill="#47638f" stroke="#354a6b" stroke-width="0.5"/>
<line x1="346.7" y1="609.948125" x2="346.7" y2="609.4862499999999" stroke="#231f20" stroke-width="0.75"/>
<line x1="344.20599999999996" y1="609.4862499999999" x2="349.194" y2="609.4862499999999" stroke="#231f20" stroke-width="0.9"/>
<rect x="342.40" y="609.95" width="8.60" height="7.85" fill="#6a3d6c" stroke="#4f2d51" stroke-width="0.5"/>
<line x1="326.8" y1="617.8" x2="352.2" y2="617.8" stroke="#231f20" stroke-width="1.1"/>
<line x1="333.8" y1="617.8" x2="333.8" y2="620.0999999999999" stroke="#231f20" stroke-width="0.8"/>
<line x1="346.6" y1="617.8" x2="346.6" y2="620.0999999999999" stroke="#231f20" stroke-width="0.8"/>
<text x="311.2" y="580" font-size="7.2" fill="#231f20" stroke="#231f20" stroke-width="0.24" text-anchor="middle" textLength="118" lengthAdjust="spacingAndGlyphs" transform="rotate(-90 311.2 580)">Oligo(A) tails at mature 3’ end (%)</text>
<text x="337.15" y="627.35" font-size="5.8" fill="#231f20" stroke="#231f20" stroke-width="0.12" text-anchor="end" textLength="45.5" lengthAdjust="spacingAndGlyphs" transform="rotate(-45 337.15 627.35)">DKC1_A353V_LP</text>
<text x="349.63" y="627.68" font-size="5.8" fill="#231f20" stroke="#231f20" stroke-width="0.12" text-anchor="end" textLength="35.39" lengthAdjust="spacingAndGlyphs" transform="rotate(-45 349.63 627.68)">DKC1_A353V</text>
<text x="355.82" y="632.77" font-size="5.8" fill="#231f20" stroke="#231f20" stroke-width="0.12" text-anchor="end" textLength="34.33" lengthAdjust="spacingAndGlyphs" transform="rotate(-45 355.82 632.77)">shPAPD5_LP</text>
<text x="389" y="509.4" font-size="10.5" fill="#231f20" stroke="#231f20" stroke-width="0.05">K</text>
<line x1="423.5" y1="542.3" x2="423.5" y2="618.1999999999999" stroke="#231f20" stroke-width="1.1"/>
<line x1="420.8" y1="545.0" x2="423.5" y2="545.0" stroke="#231f20" stroke-width="0.9"/>
<text x="416.5" y="547.15" font-size="6.0" fill="#231f20" stroke="#231f20" stroke-width="0.1" text-anchor="end" textLength="5.87" lengthAdjust="spacingAndGlyphs">95</text>
<line x1="420.8" y1="569.2666666666667" x2="423.5" y2="569.2666666666667" stroke="#231f20" stroke-width="0.9"/>
<text x="416.5" y="571.42" font-size="6.0" fill="#231f20" stroke="#231f20" stroke-width="0.1" text-anchor="end" textLength="5.87" lengthAdjust="spacingAndGlyphs">90</text>
<line x1="420.8" y1="593.5333333333333" x2="423.5" y2="593.5333333333333" stroke="#231f20" stroke-width="0.9"/>
<text x="416.5" y="595.68" font-size="6.0" fill="#231f20" stroke="#231f20" stroke-width="0.1" text-anchor="end" textLength="5.87" lengthAdjust="spacingAndGlyphs">85</text>
<line x1="420.8" y1="617.8" x2="423.5" y2="617.8" stroke="#231f20" stroke-width="0.9"/>
<text x="416.5" y="619.95" font-size="6.0" fill="#231f20" stroke="#231f20" stroke-width="0.1" text-anchor="end" textLength="5.87" lengthAdjust="spacingAndGlyphs">80</text>
<line x1="431.1" y1="590.6213333333334" x2="431.1" y2="583.8266666666666" stroke="#231f20" stroke-width="0.75"/>
<line x1="428.548" y1="583.8266666666666" x2="433.65200000000004" y2="583.8266666666666" stroke="#231f20" stroke-width="0.9"/>
<rect x="426.70" y="590.62" width="8.80" height="27.18" fill="#47638f" stroke="#354a6b" stroke-width="0.5"/>
<line x1="444.5" y1="560.5306666666667" x2="444.5" y2="547.4266666666666" stroke="#231f20" stroke-width="0.75"/>
<line x1="441.948" y1="547.4266666666666" x2="447.052" y2="547.4266666666666" stroke="#231f20" stroke-width="0.9"/>
<rect x="440.10" y="560.53" width="8.80" height="57.27" fill="#6a3d6c" stroke="#4f2d51" stroke-width="0.5"/>
<line x1="423.5" y1="617.8" x2="450" y2="617.8" stroke="#231f20" stroke-width="1.1"/>
<line x1="431.1" y1="617.8" x2="431.1" y2="620.0999999999999" stroke="#231f20" stroke-width="0.8"/>
<line x1="444.5" y1="617.8" x2="444.5" y2="620.0999999999999" stroke="#231f20" stroke-width="0.8"/>
<text x="394.2" y="579.7" font-size="7.4" fill="#231f20" stroke="#231f20" stroke-width="0.24" text-anchor="middle" textLength="73" lengthAdjust="spacingAndGlyphs" transform="rotate(-90 394.2 579.7)">Non-adenylated tails</text>
<text x="405.2" y="579.7" font-size="7.4" fill="#231f20" stroke="#231f20" stroke-width="0.24" text-anchor="middle" textLength="70" lengthAdjust="spacingAndGlyphs" transform="rotate(-90 405.2 579.7)">at mature 3’ end (%)</text>
<text x="434.45" y="627.35" font-size="5.8" fill="#231f20" stroke="#231f20" stroke-width="0.12" text-anchor="end" textLength="45.5" lengthAdjust="spacingAndGlyphs" transform="rotate(-45 434.45 627.35)">DKC1_A353V_LP</text>
<text x="447.53" y="627.68" font-size="5.8" fill="#231f20" stroke="#231f20" stroke-width="0.12" text-anchor="end" textLength="35.39" lengthAdjust="spacingAndGlyphs" transform="rotate(-45 447.53 627.68)">DKC1_A353V</text>
<text x="453.72" y="632.77" font-size="5.8" fill="#231f20" stroke="#231f20" stroke-width="0.12" text-anchor="end" textLength="34.33" lengthAdjust="spacingAndGlyphs" transform="rotate(-45 453.72 632.77)">shPAPD5_LP</text>
<line x1="333" y1="213" x2="345.9" y2="213" stroke="#333" stroke-width="0.95"/>
<path d="M339.4 210.0v1.9M338.6 210.4l1.6 1.1M340.2 210.4l-1.6 1.1" stroke="#333" stroke-width="0.45" fill="none"/>
<line x1="349.3" y1="213" x2="361.2" y2="213" stroke="#333" stroke-width="0.95"/>
<path d="M355.2 210.0v1.9M354.4 210.4l1.6 1.1M356.1 210.4l-1.6 1.1" stroke="#333" stroke-width="0.45" fill="none"/>
<line x1="347.7" y1="208.3" x2="375.8" y2="208.3" stroke="#333" stroke-width="0.95"/>
<path d="M361.8 205.3v1.9M360.9 205.7l1.6 1.1M362.6 205.7l-1.6 1.1" stroke="#333" stroke-width="0.45" fill="none"/>
<line x1="430" y1="206.75" x2="452.5" y2="206.75" stroke="#333" stroke-width="0.95"/>
<path d="M441.2 203.8v1.9M440.4 204.2l1.6 1.1M442.1 204.2l-1.6 1.1" stroke="#333" stroke-width="0.45" fill="none"/>
<line x1="454.5" y1="207.5" x2="476.3" y2="207.5" stroke="#333" stroke-width="0.95"/>
<path d="M465.4 204.5v1.9M464.6 204.9l1.6 1.1M466.2 204.9l-1.6 1.1" stroke="#333" stroke-width="0.45" fill="none"/>
<line x1="455.5" y1="202.5" x2="498" y2="202.5" stroke="#333" stroke-width="0.95"/>
<path d="M476.8 199.5v1.9M475.9 199.9l1.6 1.1M477.6 199.9l-1.6 1.1" stroke="#333" stroke-width="0.45" fill="none"/>
<line x1="475.5" y1="240" x2="497.5" y2="240" stroke="#333" stroke-width="0.95"/>
<path d="M486.5 237.0v1.9M485.7 237.4l1.6 1.1M487.3 237.4l-1.6 1.1" stroke="#333" stroke-width="0.45" fill="none"/>
<line x1="430" y1="365.75" x2="473" y2="365.75" stroke="#333" stroke-width="0.95"/>
<path d="M451.5 362.8v1.9M450.7 363.1l1.6 1.1M452.3 363.1l-1.6 1.1" stroke="#333" stroke-width="0.45" fill="none"/>
<line x1="430" y1="370.5" x2="448.75" y2="370.5" stroke="#333" stroke-width="0.95"/>
<path d="M439.4 367.5v1.9M438.6 367.9l1.6 1.1M440.2 367.9l-1.6 1.1" stroke="#333" stroke-width="0.45" fill="none"/>
<line x1="452.5" y1="388.3" x2="496.3" y2="388.3" stroke="#333" stroke-width="0.95"/>
<path d="M474.4 385.3v1.9M473.6 385.7l1.6 1.1M475.2 385.7l-1.6 1.1" stroke="#333" stroke-width="0.45" fill="none"/>
<line x1="335.4" y1="550.1" x2="347.5" y2="550.1" stroke="#333" stroke-width="0.95"/>
<path d="M341.4 547.1v1.9M340.6 547.5l1.6 1.1M342.2 547.5l-1.6 1.1" stroke="#333" stroke-width="0.45" fill="none"/>
<line x1="431" y1="545" x2="443.5" y2="545" stroke="#333" stroke-width="0.95"/>
<path d="M437.2 542.0v1.9M436.4 542.4l1.6 1.1M438.1 542.4l-1.6 1.1" stroke="#333" stroke-width="0.45" fill="none"/>
<defs><filter id="bl1" x="-50%" y="-50%" width="200%" height="200%"><feGaussianBlur stdDeviation="0.9"/></filter><filter id="bl2" x="-50%" y="-50%" width="200%" height="200%"><feGaussianBlur stdDeviation="1.6"/></filter><filter id="bl05" x="-50%" y="-50%" width="200%" height="200%"><feGaussianBlur stdDeviation="0.5"/></filter></defs>
<rect x="20.10" y="214.00" width="64.30" height="64.80" fill="none" stroke="#3b3b3b" stroke-width="1.1"/>
<rect x="23.80" y="221.40" width="20.10" height="19.80" fill="none" stroke="#444" stroke-width="0.8"/>
<rect x="45.70" y="222.40" width="37.90" height="53.90" fill="none" stroke="#444" stroke-width="0.8"/>
<text x="22.3" y="219.8" font-size="4.6" fill="#2a2a2a" stroke="#2a2a2a" stroke-width="0.12" textLength="8.6" lengthAdjust="spacingAndGlyphs">1.70</text>
<text x="82.0" y="219.8" font-size="4.6" fill="#a82c44" stroke="#a82c44" stroke-width="0.12" text-anchor="end" textLength="9" lengthAdjust="spacingAndGlyphs">82.2</text>
<rect x="87.60" y="214.00" width="64.40" height="64.80" fill="none" stroke="#3b3b3b" stroke-width="1.1"/>
<rect x="91.30" y="221.40" width="20.10" height="19.80" fill="none" stroke="#444" stroke-width="0.8"/>
<rect x="113.20" y="222.40" width="38.00" height="53.90" fill="none" stroke="#444" stroke-width="0.8"/>
<text x="89.8" y="219.8" font-size="4.6" fill="#2a2a2a" stroke="#2a2a2a" stroke-width="0.12" textLength="8.6" lengthAdjust="spacingAndGlyphs">1.58</text>
<text x="149.6" y="219.8" font-size="4.6" fill="#a82c44" stroke="#a82c44" stroke-width="0.12" text-anchor="end" textLength="9" lengthAdjust="spacingAndGlyphs">83.4</text>
<rect x="155.20" y="214.00" width="64.60" height="64.80" fill="none" stroke="#3b3b3b" stroke-width="1.1"/>
<rect x="158.90" y="221.40" width="20.10" height="19.80" fill="none" stroke="#444" stroke-width="0.8"/>
<rect x="180.80" y="222.40" width="38.20" height="53.90" fill="none" stroke="#444" stroke-width="0.8"/>
<text x="157.39999999999998" y="219.8" font-size="4.6" fill="#2a2a2a" stroke="#2a2a2a" stroke-width="0.12" textLength="8.6" lengthAdjust="spacingAndGlyphs">0.16</text>
<text x="217.4" y="219.8" font-size="4.6" fill="#a82c44" stroke="#a82c44" stroke-width="0.12" text-anchor="end" textLength="9" lengthAdjust="spacingAndGlyphs">9.06</text>
<rect x="223.20" y="214.00" width="64.70" height="64.80" fill="none" stroke="#3b3b3b" stroke-width="1.1"/>
<rect x="226.90" y="221.40" width="20.10" height="19.80" fill="none" stroke="#444" stroke-width="0.8"/>
<rect x="248.80" y="222.40" width="38.30" height="53.90" fill="none" stroke="#444" stroke-width="0.8"/>
<text x="225.39999999999998" y="219.8" font-size="4.6" fill="#2a2a2a" stroke="#2a2a2a" stroke-width="0.12" textLength="8.6" lengthAdjust="spacingAndGlyphs">0.73</text>
<text x="285.5" y="219.8" font-size="4.6" fill="#a82c44" stroke="#a82c44" stroke-width="0.12" text-anchor="end" textLength="9" lengthAdjust="spacingAndGlyphs">45.1</text>
<path d="M32.4 234.5h0.55M32.5 232.9h0.55M30.9 233.1h0.55M35.6 234.3h0.55M35.4 234.0h0.55M33.9 233.9h0.55M29.2 235.2h0.55M34.2 234.5h0.55M29.1 230.0h0.55M31.0 232.6h0.55M33.7 233.4h0.55M34.2 232.2h0.55M33.7 234.3h0.55M31.5 236.9h0.55M34.3 235.9h0.55M31.6 232.0h0.55M32.2 233.3h0.55M34.5 234.0h0.55M32.0 231.6h0.55M31.8 235.9h0.55M31.1 234.0h0.55M34.0 230.5h0.55M33.1 236.1h0.55M28.4 232.9h0.55M32.8 231.9h0.55M34.1 233.4h0.55M29.6 235.2h0.55M34.5 235.4h0.55M36.3 234.2h0.55M33.3 230.9h0.55M34.4 232.3h0.55M32.0 231.0h0.55M30.8 232.4h0.55M36.0 229.4h0.55M29.6 234.0h0.55M36.3 234.7h0.55M28.6 228.5h0.55M33.8 232.0h0.55M30.4 235.5h0.55M35.5 233.8h0.55M33.6 234.4h0.55M36.7 234.7h0.55M34.2 234.6h0.55M29.4 236.1h0.55M35.2 234.6h0.55M28.5 232.2h0.55M34.9 229.9h0.55M32.6 235.5h0.55M30.0 236.7h0.55M34.3 233.2h0.55M33.7 234.8h0.55M33.3 235.8h0.55M31.5 232.7h0.55M35.4 233.6h0.55M31.0 235.4h0.55M36.4 232.6h0.55M29.8 233.2h0.55M32.7 232.9h0.55M36.2 231.4h0.55M35.9 231.0h0.55M31.2 234.8h0.55M35.6 235.2h0.55M33.8 233.8h0.55M33.4 234.7h0.55M32.6 234.1h0.55M34.3 233.5h0.55M34.8 234.6h0.55M37.6 234.1h0.55M32.0 232.8h0.55M33.0 235.3h0.55M34.7 253.7h0.55M31.5 253.1h0.55M37.6 253.1h0.55M34.3 254.9h0.55M37.1 249.7h0.55M45.7 253.6h0.55M33.8 251.6h0.55M35.1 251.7h0.55M25.1 249.8h0.55M40.0 246.7h0.55M35.7 256.3h0.55M39.4 258.7h0.55M29.2 250.4h0.55M34.6 254.8h0.55M40.4 245.5h0.55M38.7 245.3h0.55M36.7 257.4h0.55M35.4 252.9h0.55M39.2 252.6h0.55M35.6 258.9h0.55M40.2 250.7h0.55M39.7 250.8h0.55M36.5 255.2h0.55M36.9 254.9h0.55M29.9 245.2h0.55M38.5 247.7h0.55M31.9 245.4h0.55M41.1 255.4h0.55M41.9 247.8h0.55M36.0 246.9h0.55M39.1 259.2h0.55M32.4 259.0h0.55M40.0 251.2h0.55M28.1 258.3h0.55M35.6 249.3h0.55M37.6 253.8h0.55M42.0 247.4h0.55M40.5 258.7h0.55M41.8 251.2h0.55M33.0 256.6h0.55M36.5 252.6h0.55M41.7 250.8h0.55M26.8 250.3h0.55M28.6 255.7h0.55M37.3 249.2h0.55M36.0 255.7h0.55M36.3 258.0h0.55M35.8 256.7h0.55M42.0 259.2h0.55M33.3 256.0h0.55M48.7 242.4h0.55M48.2 257.5h0.55M52.6 249.9h0.55M58.8 249.8h0.55M56.5 251.6h0.55M70.7 250.3h0.55M63.2 257.0h0.55M58.8 241.2h0.55M56.7 257.5h0.55M50.1 245.8h0.55M66.0 255.5h0.55M60.0 255.6h0.55M61.0 241.7h0.55M50.6 245.5h0.55M65.5 246.0h0.55M54.6 244.6h0.55M50.8 249.2h0.55M52.9 252.5h0.55M56.2 236.4h0.55M64.3 248.1h0.55M61.7 246.8h0.55M64.7 255.2h0.55M64.0 252.3h0.55M68.0 254.6h0.55M62.7 235.4h0.55M65.4 259.2h0.55M58.2 246.7h0.55M71.6 237.7h0.55M54.4 254.8h0.55M71.3 249.2h0.55M63.4 256.3h0.55M54.6 249.4h0.55M61.8 255.8h0.55M59.8 248.6h0.55M53.9 247.5h0.55M65.4 250.7h0.55M54.9 244.1h0.55M76.0 258.0h0.55M63.8 231.8h0.55M63.7 253.4h0.55M70.1 253.0h0.55M59.6 253.7h0.55M48.3 257.2h0.55M61.9 245.1h0.55M51.6 245.3h0.55M61.7 251.3h0.55M57.6 243.2h0.55M72.7 257.3h0.55M52.8 240.6h0.55M70.2 256.9h0.55M70.9 255.7h0.55M54.8 251.8h0.55M47.0 244.8h0.55M59.6 253.7h0.55M55.6 249.1h0.55M62.8 252.6h0.55M63.8 251.5h0.55M58.1 255.5h0.55M60.3 244.2h0.55M56.2 250.0h0.55M66.8 243.8h0.55M67.0 243.9h0.55M66.7 236.7h0.55M67.8 248.3h0.55M67.9 242.1h0.55M67.9 238.2h0.55M63.2 243.3h0.55M65.1 246.7h0.55M64.8 229.9h0.55M64.9 250.9h0.55M66.2 236.2h0.55M65.5 245.6h0.55M68.0 243.9h0.55M70.0 246.5h0.55M67.0 246.0h0.55M70.3 247.9h0.55M69.0 237.6h0.55M66.7 246.6h0.55M66.4 248.3h0.55M68.2 247.5h0.55M66.6 255.7h0.55M69.5 241.9h0.55M67.2 256.0h0.55M66.3 247.4h0.55M69.0 243.0h0.55" stroke="#000" stroke-width="0.55" stroke-opacity="0.45" fill="none"/>
<ellipse cx="33.00" cy="233.50" rx="1.30" ry="1.10" transform="rotate(0 33.00 233.50)" fill="none" stroke="#333" stroke-width="0.5"/>
<ellipse cx="31.50" cy="266.30" rx="10.20" ry="6.60" transform="rotate(-35 31.50 266.30)" fill="rgba(0,0,0,0.1)" stroke="#222" stroke-width="0.4"/>
<ellipse cx="31.50" cy="266.30" rx="8.36" ry="5.41" transform="rotate(-35 31.50 266.30)" fill="rgba(0,0,0,0.2)" stroke="#222" stroke-width="0.4"/>
<ellipse cx="31.50" cy="266.30" rx="6.53" ry="4.22" transform="rotate(-35 31.50 266.30)" fill="rgba(0,0,0,0.35)" stroke="#222" stroke-width="0.4"/>
<ellipse cx="31.50" cy="266.30" rx="4.69" ry="3.04" transform="rotate(-35 31.50 266.30)" fill="rgba(0,0,0,0.6)" stroke="#222" stroke-width="0.4"/>
<ellipse cx="31.50" cy="266.30" rx="3.06" ry="1.98" transform="rotate(-35 31.50 266.30)" fill="rgba(0,0,0,0.85)" stroke="#222" stroke-width="0.4"/>
<line x1="29.160501761510638" y1="267.9381343022186" x2="33.83949823848936" y2="264.6618656977814" stroke="#e8e8e8" stroke-width="0.8"/>
<path d="M49.5 267.0C49.2 265.3,50.2 263.5,51.5 262.5C52.8 261.5,55.2 261.3,57.0 261.0C58.8 260.7,60.8 261.7,62.0 260.5C63.2 259.3,63.5 255.9,64.2 254.0C64.9 252.1,65.6 248.8,66.3 248.8C67.0 248.8,67.8 252.2,68.4 254.0C69.0 255.8,69.1 258.1,69.8 259.5C70.5 260.9,71.8 261.2,72.5 262.5C73.2 263.8,74.0 265.4,73.8 267.0C73.6 268.6,73.5 271.2,71.5 272.3C69.5 273.4,65.1 273.5,62.0 273.6C58.9 273.7,55.1 273.9,53.0 272.8C50.9 271.7,49.8 268.7,49.5 267.0Z" fill="rgba(0,0,0,0.1)" stroke="#222" stroke-width="0.45"/>
<path d="M64.3 263 C64.8 258,65.6 252.5,66.4 252.3 C67.3 252.5,67.8 258,68.4 263" fill="none" stroke="#222" stroke-width="0.4"/>
<ellipse cx="62.50" cy="267.20" rx="10.50" ry="5.20" transform="rotate(-3 62.50 267.20)" fill="rgba(0,0,0,0.12)" stroke="#222" stroke-width="0.4"/>
<ellipse cx="62.50" cy="267.20" rx="7.88" ry="3.90" transform="rotate(-3 62.50 267.20)" fill="rgba(0,0,0,0.3)" stroke="#222" stroke-width="0.4"/>
<ellipse cx="62.50" cy="267.20" rx="5.78" ry="2.86" transform="rotate(-3 62.50 267.20)" fill="rgba(0,0,0,0.55)" stroke="#222" stroke-width="0.4"/>
<ellipse cx="65.50" cy="267.20" rx="5.50" ry="3.60" transform="rotate(-3 65.50 267.20)" fill="rgba(0,0,0,0.4)" stroke="#222" stroke-width="0.4"/>
<ellipse cx="65.50" cy="267.20" rx="3.85" ry="2.52" transform="rotate(-3 65.50 267.20)" fill="rgba(0,0,0,0.75)" stroke="#222" stroke-width="0.4"/>
<line x1="53" y1="268" x2="62" y2="268" stroke="#e6e6e6" stroke-width="0.8"/>
<path d="M96.8 233.5h0.55M101.7 235.9h0.55M103.0 233.1h0.55M103.2 234.4h0.55M101.2 233.1h0.55M99.7 234.8h0.55M97.1 231.4h0.55M100.5 229.2h0.55M99.1 227.8h0.55M98.3 234.5h0.55M102.3 232.9h0.55M99.8 229.3h0.55M106.3 234.3h0.55M104.0 230.7h0.55M99.9 228.3h0.55M103.0 235.4h0.55M94.4 232.9h0.55M102.5 228.4h0.55M94.7 230.2h0.55M98.5 229.4h0.55M100.6 233.6h0.55M102.5 234.8h0.55M105.3 236.0h0.55M96.3 231.7h0.55M97.1 230.2h0.55M100.2 233.0h0.55M102.1 228.9h0.55M96.5 232.9h0.55M99.9 232.2h0.55M100.3 231.0h0.55M102.7 233.9h0.55M100.2 231.3h0.55M99.9 225.9h0.55M97.4 233.1h0.55M95.7 233.5h0.55M101.0 229.4h0.55M99.7 232.2h0.55M102.0 234.6h0.55M100.4 230.8h0.55M100.0 232.8h0.55M102.9 233.8h0.55M98.2 229.5h0.55M99.3 231.1h0.55M96.9 232.7h0.55M98.9 233.3h0.55M102.2 231.9h0.55M107.9 232.2h0.55M104.0 233.3h0.55M104.1 226.8h0.55M98.1 233.6h0.55M102.4 239.1h0.55M101.5 236.3h0.55M103.0 235.5h0.55M102.1 232.6h0.55M102.1 230.2h0.55M104.3 230.4h0.55M101.3 238.5h0.55M99.8 233.1h0.55M104.2 233.1h0.55M97.9 233.7h0.55M102.4 234.8h0.55M98.0 237.6h0.55M105.8 233.0h0.55M101.4 231.9h0.55M105.0 231.2h0.55M102.7 231.8h0.55M98.3 234.9h0.55M104.8 233.0h0.55M98.3 235.1h0.55M100.3 233.8h0.55M107.1 256.7h0.55M101.0 254.9h0.55M98.4 250.8h0.55M94.0 259.9h0.55M106.5 244.9h0.55M95.0 242.9h0.55M105.7 248.7h0.55M100.8 249.4h0.55M100.5 245.6h0.55M101.1 243.8h0.55M100.7 252.5h0.55M102.9 249.8h0.55M97.4 251.8h0.55M99.1 258.8h0.55M104.1 250.4h0.55M99.1 247.5h0.55M97.3 249.2h0.55M102.2 253.6h0.55M103.3 261.5h0.55M98.2 251.1h0.55M98.9 251.8h0.55M101.6 253.0h0.55M100.0 252.8h0.55M101.2 254.9h0.55M93.4 246.6h0.55M101.0 245.8h0.55M96.8 254.1h0.55M98.4 254.2h0.55M104.0 252.5h0.55M103.0 250.5h0.55M95.4 250.8h0.55M102.8 248.4h0.55M100.6 254.7h0.55M97.5 254.2h0.55M108.5 248.2h0.55M101.6 250.2h0.55M107.2 252.6h0.55M104.6 247.5h0.55M100.9 251.0h0.55M93.9 258.2h0.55M104.6 242.3h0.55M104.0 250.3h0.55M102.8 252.8h0.55M95.0 249.9h0.55M107.0 248.1h0.55M96.9 244.2h0.55M96.1 252.7h0.55M107.8 253.1h0.55M98.9 247.6h0.55M103.1 253.7h0.55M120.9 241.8h0.55M128.7 251.7h0.55M119.2 248.6h0.55M123.7 253.2h0.55M126.3 249.4h0.55M124.9 257.4h0.55M135.3 247.4h0.55M132.1 244.7h0.55M127.4 255.2h0.55M136.1 247.3h0.55M126.6 251.4h0.55M118.0 250.1h0.55M122.9 252.6h0.55M120.2 236.2h0.55M127.2 251.8h0.55M123.7 256.2h0.55M125.4 245.8h0.55M129.9 239.0h0.55M122.9 249.9h0.55M132.1 248.9h0.55M128.9 245.4h0.55M128.8 261.6h0.55M123.1 250.1h0.55M128.0 257.2h0.55M119.6 235.3h0.55M130.6 255.6h0.55M128.2 251.8h0.55M132.6 252.6h0.55M137.0 241.3h0.55M124.7 225.9h0.55M131.9 247.4h0.55M127.0 248.2h0.55M124.0 244.1h0.55M123.2 254.5h0.55M127.2 250.5h0.55M126.0 256.4h0.55M130.0 249.0h0.55M131.0 248.9h0.55M120.1 260.2h0.55M129.8 243.3h0.55M133.5 252.4h0.55M117.6 261.3h0.55M129.0 256.2h0.55M128.2 249.0h0.55M117.7 256.8h0.55M127.2 248.0h0.55M129.1 250.5h0.55M131.1 247.4h0.55M126.8 235.0h0.55M124.5 254.7h0.55M135.0 247.5h0.55M126.3 261.1h0.55M125.0 255.1h0.55M137.1 250.3h0.55M134.4 245.0h0.55M128.2 249.5h0.55M127.7 257.9h0.55M141.3 245.3h0.55M123.5 253.5h0.55M120.7 253.5h0.55M135.1 241.6h0.55M135.1 235.3h0.55M135.5 235.3h0.55M132.6 240.2h0.55M133.2 247.3h0.55M134.2 241.0h0.55M135.1 250.9h0.55M134.0 244.8h0.55M136.5 244.3h0.55M131.4 255.5h0.55M138.4 233.1h0.55M133.9 245.1h0.55M135.9 246.3h0.55M133.5 237.7h0.55M134.2 248.2h0.55M131.8 237.9h0.55M134.0 233.3h0.55M133.5 240.8h0.55M134.9 239.5h0.55M132.2 241.0h0.55M133.9 239.7h0.55M134.0 246.8h0.55M136.4 251.5h0.55M132.4 240.9h0.55M129.0 252.5h0.55" stroke="#000" stroke-width="0.55" stroke-opacity="0.45" fill="none"/>
<ellipse cx="99.80" cy="266.00" rx="7.60" ry="6.90" transform="rotate(-15 99.80 266.00)" fill="rgba(0,0,0,0.08)" stroke="#222" stroke-width="0.4"/>
<ellipse cx="99.80" cy="266.00" rx="6.46" ry="5.87" transform="rotate(-15 99.80 266.00)" fill="rgba(0,0,0,0.14)" stroke="#222" stroke-width="0.4"/>
<ellipse cx="99.80" cy="266.00" rx="5.32" ry="4.83" transform="rotate(-15 99.80 266.00)" fill="rgba(0,0,0,0.2)" stroke="#222" stroke-width="0.4"/>
<ellipse cx="99.80" cy="266.00" rx="4.18" ry="3.80" transform="rotate(-15 99.80 266.00)" fill="rgba(0,0,0,0.25)" stroke="#222" stroke-width="0.4"/>
<ellipse cx="99.80" cy="266.00" rx="3.04" ry="2.76" transform="rotate(-15 99.80 266.00)" fill="rgba(0,0,0,0.3)" stroke="#222" stroke-width="0.4"/>
<ellipse cx="100.50" cy="266.50" rx="0.90" ry="0.70" transform="rotate(0 100.50 266.50)" fill="#fff"/>
<path d="M114.0 268.0C113.7 266.2,114.5 264.4,116.0 263.5C117.5 262.6,120.8 262.8,123.0 262.5C125.2 262.2,127.8 262.9,129.0 261.5C130.2 260.1,129.8 256.3,130.5 254.0C131.2 251.7,132.3 247.5,133.2 247.5C134.1 247.5,135.2 251.8,135.8 254.0C136.4 256.2,136.3 259.0,137.0 260.5C137.7 262.0,139.2 261.8,140.0 263.0C140.8 264.2,141.8 266.2,141.6 268.0C141.4 269.8,141.3 272.6,139.0 273.7C136.7 274.8,131.5 274.6,128.0 274.7C124.5 274.8,120.3 275.1,118.0 274.0C115.7 272.9,114.3 269.8,114.0 268.0Z" fill="rgba(0,0,0,0.1)" stroke="#222" stroke-width="0.45"/>
<path d="M131.5 263 C132 257,132.5 252,133.4 251.5 C134.5 252,135 257,135.6 263" fill="none" stroke="#222" stroke-width="0.4"/>
<ellipse cx="128.00" cy="268.60" rx="12.50" ry="5.40" transform="rotate(-3 128.00 268.60)" fill="rgba(0,0,0,0.12)" stroke="#222" stroke-width="0.4"/>
<ellipse cx="128.00" cy="268.60" rx="9.75" ry="4.21" transform="rotate(-3 128.00 268.60)" fill="rgba(0,0,0,0.3)" stroke="#222" stroke-width="0.4"/>
<ellipse cx="128.00" cy="268.60" rx="7.25" ry="3.13" transform="rotate(-3 128.00 268.60)" fill="rgba(0,0,0,0.5)" stroke="#222" stroke-width="0.4"/>
<ellipse cx="132.50" cy="268.60" rx="6.50" ry="3.80" transform="rotate(-3 132.50 268.60)" fill="rgba(0,0,0,0.45)" stroke="#222" stroke-width="0.4"/>
<ellipse cx="132.50" cy="268.60" rx="4.55" ry="2.66" transform="rotate(-3 132.50 268.60)" fill="rgba(0,0,0,0.78)" stroke="#222" stroke-width="0.4"/>
<line x1="120" y1="268.8" x2="130" y2="268.8" stroke="#e6e6e6" stroke-width="0.8"/>
<path d="M167.1 254.8h0.5M172.1 246.8h0.5M171.9 254.8h0.5M162.7 256.8h0.5M174.8 243.8h0.5M173.2 256.3h0.5M171.9 257.6h0.5M175.2 253.7h0.5M173.5 252.5h0.5M172.9 250.1h0.5M171.8 254.1h0.5M165.4 250.3h0.5M201.2 266.7h0.5M202.6 264.6h0.5M199.7 268.8h0.5M197.7 259.3h0.5M205.3 262.3h0.5M198.3 259.1h0.5M198.5 265.1h0.5M202.1 256.0h0.5" stroke="#000" stroke-width="0.5" stroke-opacity="0.3" fill="none"/>
<ellipse cx="166.50" cy="267.40" rx="9.20" ry="6.40" transform="rotate(-28 166.50 267.40)" fill="rgba(0,0,0,0.1)" stroke="#222" stroke-width="0.4"/>
<ellipse cx="166.50" cy="267.40" rx="7.54" ry="5.25" transform="rotate(-28 166.50 267.40)" fill="rgba(0,0,0,0.2)" stroke="#222" stroke-width="0.4"/>
<ellipse cx="166.50" cy="267.40" rx="5.89" ry="4.10" transform="rotate(-28 166.50 267.40)" fill="rgba(0,0,0,0.35)" stroke="#222" stroke-width="0.4"/>
<ellipse cx="166.50" cy="267.40" rx="4.23" ry="2.94" transform="rotate(-28 166.50 267.40)" fill="rgba(0,0,0,0.6)" stroke="#222" stroke-width="0.4"/>
<ellipse cx="166.50" cy="267.40" rx="2.76" ry="1.92" transform="rotate(-28 166.50 267.40)" fill="rgba(0,0,0,0.85)" stroke="#222" stroke-width="0.4"/>
<line x1="164.2255270007954" y1="268.6093587457364" x2="168.7744729992046" y2="266.19064125426354" stroke="#e8e8e8" stroke-width="0.8"/>
<ellipse cx="200.80" cy="266.00" rx="4.80" ry="3.00" transform="rotate(-40 200.80 266.00)" fill="none" stroke="#333" stroke-width="0.5"/>
<ellipse cx="200.80" cy="266.00" rx="2.60" ry="1.60" transform="rotate(-40 200.80 266.00)" fill="none" stroke="#333" stroke-width="0.5"/>
<path d="M237.1 236.1h0.55M232.8 237.6h0.55M235.0 234.7h0.55M238.2 239.0h0.55M233.7 236.7h0.55M234.3 238.7h0.55M233.9 237.7h0.55M242.5 229.0h0.55M234.5 236.9h0.55M235.5 233.9h0.55M242.3 235.8h0.55M230.9 237.8h0.55M230.6 238.6h0.55M234.1 236.0h0.55M239.6 235.9h0.55M231.6 231.2h0.55M239.3 237.5h0.55M233.4 237.8h0.55M237.3 237.3h0.55M229.0 234.8h0.55M238.5 237.5h0.55M238.4 229.2h0.55M236.3 236.9h0.55M243.5 233.1h0.55M234.8 235.7h0.55M238.5 234.4h0.55M239.2 233.6h0.55M236.6 234.2h0.55M236.3 233.8h0.55M231.0 238.4h0.55M236.7 234.1h0.55M236.4 238.2h0.55M232.9 235.3h0.55M237.4 237.0h0.55M234.8 230.1h0.55M239.5 236.5h0.55M235.8 234.9h0.55M236.6 234.5h0.55M232.7 233.7h0.55M234.0 234.0h0.55M232.3 237.3h0.55M231.9 237.3h0.55M232.8 236.5h0.55M239.9 236.1h0.55M233.6 235.7h0.55M236.2 231.1h0.55M234.0 236.0h0.55M234.4 235.8h0.55M238.0 237.6h0.55M238.5 237.1h0.55M234.9 235.6h0.55M235.0 234.8h0.55M235.3 231.1h0.55M234.8 235.5h0.55M232.9 235.5h0.55M237.3 235.2h0.55M242.0 228.8h0.55M235.2 230.9h0.55M228.3 235.9h0.55M237.4 234.8h0.55M239.4 254.2h0.55M236.1 248.5h0.55M238.6 249.1h0.55M236.9 248.9h0.55M227.0 251.8h0.55M236.8 256.5h0.55M232.5 251.8h0.55M238.5 252.9h0.55M239.4 261.2h0.55M239.7 256.9h0.55M233.5 247.7h0.55M239.6 246.5h0.55M228.7 246.0h0.55M233.3 247.6h0.55M236.9 247.5h0.55M241.2 251.5h0.55M231.7 259.9h0.55M233.7 253.3h0.55M235.9 250.1h0.55M237.3 247.8h0.55M230.9 247.4h0.55M235.9 252.3h0.55M238.2 252.7h0.55M232.8 247.7h0.55M227.5 251.0h0.55M237.9 255.2h0.55M235.5 251.0h0.55M239.7 252.1h0.55M239.0 255.5h0.55M236.9 259.8h0.55M233.7 249.8h0.55M232.8 247.2h0.55M236.1 255.4h0.55M240.7 256.8h0.55M240.8 244.4h0.55M233.4 254.7h0.55M241.7 252.6h0.55M232.6 249.9h0.55M233.4 246.9h0.55M242.0 248.2h0.55M240.7 254.0h0.55M233.6 254.5h0.55M242.5 255.7h0.55M241.0 252.6h0.55M238.1 250.8h0.55M237.7 259.8h0.55M230.3 251.6h0.55M237.0 248.6h0.55M234.8 256.7h0.55M244.0 255.8h0.55M237.3 242.7h0.55M243.7 252.5h0.55M235.9 245.3h0.55M235.8 245.4h0.55M236.3 254.8h0.55M236.1 253.7h0.55M232.6 260.6h0.55M235.2 247.4h0.55M232.0 249.9h0.55M237.2 244.9h0.55M266.3 259.4h0.55M270.4 246.8h0.55M267.6 247.0h0.55M266.8 253.9h0.55M266.5 228.8h0.55M266.9 240.9h0.55M270.3 243.1h0.55M261.8 239.0h0.55M259.9 228.8h0.55M257.6 250.9h0.55M263.8 233.1h0.55M259.6 252.9h0.55M263.1 245.1h0.55M268.7 258.9h0.55M276.7 256.3h0.55M267.7 249.5h0.55M276.0 259.4h0.55M265.4 251.7h0.55M268.4 248.4h0.55M264.5 237.4h0.55M264.3 235.6h0.55M273.1 252.3h0.55M261.0 259.2h0.55M271.5 232.7h0.55M276.2 254.5h0.55M277.3 238.2h0.55M269.7 251.4h0.55M268.0 249.4h0.55M272.3 236.0h0.55M260.8 236.8h0.55M264.2 243.2h0.55M268.8 250.1h0.55M267.2 242.6h0.55M264.8 255.6h0.55M270.8 248.8h0.55M265.4 260.4h0.55M264.0 253.2h0.55M272.8 245.9h0.55M271.1 239.1h0.55M272.1 249.6h0.55M259.1 253.4h0.55M262.5 258.3h0.55M263.6 246.7h0.55M268.4 245.3h0.55M268.3 243.6h0.55M270.4 248.0h0.55M272.8 248.3h0.55M258.1 248.8h0.55M269.3 256.6h0.55M261.6 260.4h0.55M266.3 253.4h0.55M265.2 239.1h0.55M272.5 255.3h0.55M274.7 254.9h0.55M264.1 234.7h0.55M263.7 242.6h0.55M262.9 252.7h0.55M268.6 245.8h0.55M267.9 246.8h0.55M268.1 254.0h0.55M271.8 242.5h0.55M259.5 259.4h0.55M267.6 256.8h0.55M258.8 245.4h0.55M267.1 236.5h0.55M264.4 253.8h0.55M272.4 260.8h0.55M262.7 236.8h0.55M269.6 255.5h0.55M268.0 237.6h0.55M270.9 254.3h0.55M269.8 244.1h0.55M268.5 254.3h0.55M264.2 233.3h0.55M268.6 251.8h0.55M267.1 255.1h0.55M264.1 247.3h0.55M265.5 252.6h0.55M275.0 246.0h0.55M277.3 260.2h0.55M271.0 252.7h0.55M275.9 246.6h0.55M266.4 239.5h0.55M269.4 258.8h0.55M269.7 251.4h0.55M266.0 249.4h0.55M259.9 256.4h0.55M265.0 239.2h0.55M263.2 241.4h0.55M271.3 256.5h0.55M260.2 255.4h0.55M271.4 243.4h0.55M259.6 242.0h0.55M263.8 250.7h0.55M265.2 231.8h0.55M268.2 235.7h0.55M271.5 238.3h0.55M263.5 241.2h0.55M264.3 258.4h0.55M271.3 252.8h0.55M268.6 235.6h0.55M264.4 243.6h0.55M262.1 252.1h0.55M263.3 242.3h0.55M261.8 231.5h0.55M270.0 258.6h0.55M267.9 240.2h0.55M253.5 249.4h0.55M273.1 250.4h0.55M271.6 259.8h0.55M272.9 243.9h0.55M272.7 252.4h0.55M263.6 244.2h0.55M264.0 246.2h0.55M271.0 239.5h0.55M261.8 256.1h0.55M270.3 257.3h0.55M264.4 254.4h0.55M276.3 261.0h0.55M268.3 248.9h0.55M268.5 254.0h0.55M272.6 247.6h0.55M264.2 252.2h0.55M267.4 251.4h0.55M269.9 258.4h0.55M273.0 243.8h0.55M270.2 259.3h0.55M267.1 250.0h0.55M273.2 255.8h0.55M270.8 237.8h0.55M264.6 248.7h0.55M266.0 255.0h0.55M271.7 235.3h0.55M266.1 248.2h0.55M267.3 245.9h0.55M270.6 241.3h0.55M270.6 242.5h0.55M267.1 250.8h0.55M267.0 249.0h0.55M274.6 247.2h0.55M268.5 252.1h0.55M267.7 254.6h0.55M264.5 251.3h0.55M267.2 241.4h0.55M275.2 241.0h0.55M275.1 251.6h0.55M274.1 240.2h0.55M273.2 257.2h0.55M268.6 246.1h0.55M277.6 248.2h0.55M267.5 242.6h0.55M270.6 249.3h0.55M269.6 259.1h0.55M267.9 250.3h0.55M274.1 240.0h0.55M272.6 259.8h0.55M264.3 239.3h0.55M265.4 234.1h0.55M270.6 234.0h0.55M270.7 257.2h0.55M263.3 244.8h0.55M262.3 252.5h0.55M266.4 245.1h0.55M269.2 250.8h0.55M267.8 247.1h0.55M267.1 247.8h0.55M264.9 247.4h0.55M262.2 243.6h0.55M275.7 247.6h0.55M264.6 248.8h0.55M265.6 235.4h0.55M266.4 252.2h0.55M270.3 246.3h0.55M265.8 239.4h0.55M273.7 248.7h0.55M265.7 232.2h0.55M265.0 246.5h0.55M269.7 245.9h0.55M268.0 237.4h0.55M265.3 258.8h0.55M266.4 252.9h0.55M263.1 245.1h0.55M269.9 254.3h0.55M265.1 251.2h0.55M270.4 241.8h0.55M270.7 240.7h0.55M266.2 246.9h0.55M259.5 246.2h0.55M265.5 236.8h0.55M267.5 252.3h0.55M267.6 255.9h0.55M264.9 237.8h0.55M274.4 249.8h0.55M272.3 241.2h0.55M271.8 248.8h0.55M271.3 247.2h0.55M273.2 242.5h0.55M265.6 236.7h0.55M273.1 241.8h0.55M265.3 240.4h0.55" stroke="#000" stroke-width="0.55" stroke-opacity="0.45" fill="none"/>
<path d="M227.5 271 C225.5 264,231 258.5,238 258.6 C243 258.8,246.5 262.5,249.3 266.5 C247 270.5,243 273.5,236 274 C231 274.2,228.5 273.5,227.5 271 Z" fill="none" stroke="#222" stroke-width="0.45"/>
<ellipse cx="234.30" cy="267.50" rx="8.60" ry="5.80" transform="rotate(-30 234.30 267.50)" fill="rgba(0,0,0,0.1)" stroke="#222" stroke-width="0.4"/>
<ellipse cx="234.30" cy="267.50" rx="7.05" ry="4.76" transform="rotate(-30 234.30 267.50)" fill="rgba(0,0,0,0.2)" stroke="#222" stroke-width="0.4"/>
<ellipse cx="234.30" cy="267.50" rx="5.50" ry="3.71" transform="rotate(-30 234.30 267.50)" fill="rgba(0,0,0,0.35)" stroke="#222" stroke-width="0.4"/>
<ellipse cx="234.30" cy="267.50" rx="3.96" ry="2.67" transform="rotate(-30 234.30 267.50)" fill="rgba(0,0,0,0.6)" stroke="#222" stroke-width="0.4"/>
<ellipse cx="234.30" cy="267.50" rx="2.58" ry="1.74" transform="rotate(-30 234.30 267.50)" fill="rgba(0,0,0,0.85)" stroke="#222" stroke-width="0.4"/>
<line x1="232.2146108276871" y1="268.704" x2="236.38538917231293" y2="266.296" stroke="#e8e8e8" stroke-width="0.8"/>
<path d="M250.5 267.5C250.3 265.8,251.8 264.3,253.0 263.5C254.2 262.7,256.2 262.7,258.0 262.5C259.8 262.3,262.3 262.8,264.0 262.2C265.7 261.6,267.0 259.8,268.0 259.0C269.0 258.2,269.2 257.2,270.0 257.6C270.8 258.0,271.6 260.4,272.5 261.5C273.4 262.6,274.8 262.9,275.5 264.0C276.2 265.1,276.9 266.4,276.6 268.0C276.4 269.6,276.3 272.4,274.0 273.5C271.7 274.6,266.3 274.6,263.0 274.7C259.7 274.8,256.1 275.0,254.0 273.8C251.9 272.6,250.7 269.2,250.5 267.5Z" fill="rgba(0,0,0,0.1)" stroke="#222" stroke-width="0.45"/>
<ellipse cx="263.50" cy="268.50" rx="11.50" ry="5.20" transform="rotate(-3 263.50 268.50)" fill="rgba(0,0,0,0.12)" stroke="#222" stroke-width="0.4"/>
<ellipse cx="263.50" cy="268.50" rx="8.62" ry="3.90" transform="rotate(-3 263.50 268.50)" fill="rgba(0,0,0,0.3)" stroke="#222" stroke-width="0.4"/>
<ellipse cx="263.50" cy="268.50" rx="6.33" ry="2.86" transform="rotate(-3 263.50 268.50)" fill="rgba(0,0,0,0.5)" stroke="#222" stroke-width="0.4"/>
<ellipse cx="263.50" cy="268.50" rx="4.37" ry="1.98" transform="rotate(-3 263.50 268.50)" fill="rgba(0,0,0,0.75)" stroke="#222" stroke-width="0.4"/>
<line x1="258" y1="268.6" x2="268" y2="268.6" stroke="#e6e6e6" stroke-width="0.8"/>
<text x="15.0" y="246.6" font-size="8.2" fill="#231f20" stroke="#231f20" stroke-width="0.12" text-anchor="middle" textLength="18.5" lengthAdjust="spacingAndGlyphs" transform="rotate(-90 15.0 246.6)">CD34</text>
<text x="23.8" y="288.0" font-size="7.9" fill="#231f20" stroke="#231f20" stroke-width="0.12" textLength="19.2" lengthAdjust="spacingAndGlyphs">CD43</text>
<line x1="46" y1="285.5" x2="281" y2="285.5" stroke="#231f20" stroke-width="0.9"/>
<path d="M287 285.5 L278.5 282.9 L280.5 285.5 L278.5 288.1 Z" fill="#111"/>
<text x="52.5" y="210.5" font-size="6.4" fill="#231f20" stroke="#231f20" stroke-width="0.12" text-anchor="middle">WT</text>
<text x="120" y="210.6" font-size="6.4" fill="#231f20" stroke="#231f20" stroke-width="0.12" text-anchor="middle" textLength="44.5" lengthAdjust="spacingAndGlyphs">DKC1_A353V_LP</text>
<text x="187.8" y="203" font-size="6.4" fill="#231f20" stroke="#231f20" stroke-width="0.12" text-anchor="middle" textLength="32" lengthAdjust="spacingAndGlyphs">DKC1_A353V</text>
<text x="188.6" y="211" font-size="6.4" fill="#231f20" stroke="#231f20" stroke-width="0.12" text-anchor="middle" textLength="38" lengthAdjust="spacingAndGlyphs">shEXOSC3_LP</text>
<text x="255.6" y="203" font-size="6.4" fill="#231f20" stroke="#231f20" stroke-width="0.12" text-anchor="middle" textLength="34.2" lengthAdjust="spacingAndGlyphs">DKC1_A353V</text>
<text x="256.1" y="211" font-size="6.4" fill="#231f20" stroke="#231f20" stroke-width="0.12" text-anchor="middle" textLength="33" lengthAdjust="spacingAndGlyphs">shPAPD5_LP</text>
<rect x="20.10" y="374.00" width="64.30" height="64.90" fill="none" stroke="#3b3b3b" stroke-width="1.1"/>
<rect x="20.80" y="377.30" width="25.80" height="25.90" fill="none" stroke="#444" stroke-width="0.8"/>
<rect x="47.90" y="377.50" width="35.50" height="60.80" fill="none" stroke="#444" stroke-width="0.8"/>
<path d="M38.5 392.7h0.55M38.1 383.9h0.55M37.8 389.5h0.55M40.0 381.3h0.55M26.4 379.9h0.55M40.3 400.0h0.55M37.5 387.5h0.55M41.4 397.1h0.55M35.3 384.9h0.55M29.2 388.7h0.55M29.6 388.9h0.55M37.2 400.5h0.55M23.4 392.1h0.55M23.0 381.7h0.55M41.1 392.2h0.55M43.7 389.3h0.55M22.4 387.9h0.55M36.0 400.6h0.55M45.1 389.9h0.55M31.8 381.3h0.55M37.2 383.9h0.55M25.7 379.4h0.55M22.2 394.7h0.55M25.0 401.2h0.55M24.2 399.0h0.55M25.1 379.4h0.55M39.0 384.6h0.55M39.3 383.3h0.55M23.3 396.8h0.55M38.9 398.7h0.55M39.2 380.9h0.55M36.9 395.3h0.55M32.9 400.4h0.55M28.1 401.2h0.55M39.0 379.3h0.55M22.4 394.0h0.55M41.3 380.8h0.55M29.4 395.8h0.55M26.0 398.8h0.55M33.5 380.4h0.55M26.1 416.8h0.55M22.0 414.8h0.55M41.9 419.1h0.55M25.6 417.4h0.55M27.4 408.2h0.55M22.5 417.8h0.55M46.3 409.0h0.55M27.0 410.3h0.55M27.7 417.9h0.55M27.6 409.5h0.55M24.4 417.3h0.55M35.4 408.2h0.55M39.4 412.0h0.55M23.7 415.1h0.55M27.3 410.3h0.55M41.7 404.7h0.55M31.2 413.7h0.55M37.2 419.9h0.55M38.4 410.5h0.55M23.7 407.3h0.55M27.8 412.7h0.55M32.7 420.3h0.55M35.4 406.6h0.55M45.5 416.7h0.55M33.9 408.4h0.55M40.4 408.0h0.55M22.5 413.0h0.55M35.1 415.0h0.55M38.3 419.0h0.55M26.4 416.9h0.55M25.2 415.5h0.55M34.5 413.2h0.55M40.8 411.9h0.55M42.0 416.4h0.55M34.2 409.2h0.55M27.1 409.4h0.55M31.5 411.9h0.55M39.3 407.7h0.55M27.4 410.4h0.55M34.6 406.8h0.55M46.0 409.2h0.55M33.0 413.4h0.55M34.6 415.0h0.55M35.3 412.8h0.55M35.6 411.0h0.55M26.5 409.1h0.55M32.6 418.4h0.55M29.2 407.6h0.55M28.6 412.9h0.55M33.5 413.4h0.55M32.8 416.7h0.55M34.4 410.7h0.55M36.0 404.3h0.55M37.3 413.0h0.55M30.1 408.2h0.55M21.8 407.4h0.55M38.7 414.7h0.55M32.9 414.6h0.55M28.3 412.4h0.55M33.4 414.8h0.55M32.5 411.3h0.55M32.0 408.8h0.55M36.5 423.5h0.55M44.3 404.2h0.55M38.7 416.2h0.55M39.3 406.1h0.55M26.1 413.3h0.55M37.1 406.9h0.55M30.0 410.0h0.55M33.6 413.7h0.55M30.8 405.8h0.55M43.0 420.0h0.55M32.3 417.1h0.55M36.7 415.3h0.55M37.0 408.2h0.55M37.7 417.1h0.55M25.9 421.8h0.55M30.4 409.0h0.55M26.6 412.6h0.55M32.8 415.4h0.55M38.5 414.4h0.55M35.3 411.0h0.55M32.1 407.9h0.55M34.5 411.9h0.55M35.7 407.7h0.55M33.4 412.2h0.55M37.9 406.7h0.55M36.5 416.9h0.55M37.9 410.2h0.55M29.2 410.8h0.55M38.9 419.8h0.55M31.8 408.8h0.55M36.1 413.0h0.55M25.8 408.3h0.55M32.3 415.4h0.55M23.6 406.9h0.55M37.1 405.9h0.55M34.0 413.8h0.55M32.2 406.9h0.55M32.6 410.3h0.55M35.8 407.8h0.55M31.7 412.0h0.55M40.8 409.0h0.55M37.5 409.2h0.55M39.0 420.7h0.55M29.9 414.2h0.55M25.7 416.9h0.55M42.8 412.2h0.55M24.0 414.0h0.55M42.3 417.4h0.55M27.7 419.1h0.55M23.3 417.7h0.55M42.1 410.3h0.55M23.3 411.5h0.55M31.5 411.8h0.55M38.7 411.3h0.55M34.6 414.1h0.55M33.1 421.2h0.55M36.6 412.4h0.55M31.4 408.9h0.55M43.9 412.8h0.55M24.5 409.2h0.55M32.0 409.8h0.55M41.8 406.2h0.55M37.0 412.7h0.55M23.7 412.2h0.55M32.3 414.5h0.55M29.5 413.5h0.55M39.4 417.2h0.55M33.0 409.0h0.55M53.1 397.4h0.55M61.8 383.7h0.55M58.8 384.8h0.55M58.2 399.2h0.55M64.7 395.2h0.55M71.4 387.1h0.55M57.9 400.4h0.55M54.1 386.4h0.55M55.7 391.4h0.55M51.4 395.9h0.55M61.2 392.6h0.55M68.1 389.4h0.55M65.7 387.6h0.55M59.1 390.6h0.55M54.9 387.1h0.55M55.8 386.2h0.55M54.6 387.8h0.55M51.6 390.9h0.55" stroke="#000" stroke-width="0.55" stroke-opacity="0.42" fill="none"/>
<path d="M21.8 436.8C19.9 434.3,21.6 426.0,21.8 421.9C22.0 417.9,22.0 414.5,23.0 412.5C23.9 410.5,25.7 410.0,27.6 409.8C29.6 409.6,32.3 410.2,34.6 411.4C36.9 412.6,39.6 414.7,41.4 416.8C43.1 419.0,44.6 421.9,45.1 424.4C45.6 426.9,45.2 430.0,44.6 431.9C44.1 433.9,43.7 435.2,41.8 436.0C40.0 436.8,36.8 436.7,33.5 436.8C30.1 436.9,23.7 439.3,21.8 436.8Z" fill="#000" fill-opacity="0.16" stroke="#333" stroke-width="0.45"/>
<path d="M21.8 436.8C20.1 434.6,21.6 427.1,21.8 423.4C22.0 419.8,22.0 416.8,22.8 414.9C23.7 413.1,25.3 412.7,27.0 412.5C28.8 412.3,31.3 412.9,33.3 414.0C35.4 415.0,37.8 416.9,39.4 418.8C41.0 420.8,42.3 423.4,42.8 425.6C43.3 427.9,42.8 430.7,42.4 432.4C41.9 434.2,41.5 435.3,39.8 436.1C38.2 436.8,35.3 436.7,32.3 436.8C29.3 436.9,23.5 439.0,21.8 436.8Z" fill="#000" fill-opacity="0.05" stroke="#555" stroke-width="0.3"/>
<path d="M21.8 436.8C20.2 434.8,21.6 428.2,21.8 424.9C22.0 421.7,22.0 419.0,22.7 417.4C23.5 415.7,24.9 415.3,26.5 415.2C28.0 415.1,30.2 415.6,32.1 416.5C33.9 417.4,36.1 419.1,37.5 420.8C38.9 422.5,40.0 424.8,40.4 426.9C40.9 428.9,40.5 431.4,40.1 432.9C39.6 434.5,39.3 435.5,37.8 436.2C36.3 436.8,33.8 436.7,31.1 436.8C28.4 436.9,23.4 438.8,21.8 436.8Z" fill="#000" fill-opacity="0.05" stroke="#555" stroke-width="0.3"/>
<path d="M21.8 436.8C20.4 435.1,21.7 429.2,21.8 426.4C21.9 423.6,21.9 421.2,22.6 419.8C23.3 418.4,24.5 418.0,25.9 417.9C27.2 417.8,29.2 418.2,30.8 419.0C32.4 419.9,34.3 421.3,35.5 422.8C36.7 424.3,37.7 426.3,38.1 428.1C38.5 429.9,38.2 432.0,37.8 433.4C37.4 434.8,37.1 435.7,35.8 436.2C34.5 436.8,32.3 436.7,30.0 436.8C27.6 436.9,23.2 438.5,21.8 436.8Z" fill="#000" fill-opacity="0.05" stroke="#555" stroke-width="0.3"/>
<path d="M21.8 436.8C20.6 435.3,21.7 430.3,21.8 427.9C21.9 425.5,21.9 423.4,22.5 422.2C23.1 421.0,24.1 420.7,25.3 420.6C26.5 420.5,28.1 420.9,29.5 421.6C30.9 422.3,32.5 423.5,33.5 424.8C34.6 426.1,35.5 427.8,35.8 429.3C36.1 430.9,35.8 432.7,35.5 433.9C35.2 435.0,34.9 435.8,33.8 436.3C32.7 436.8,30.8 436.7,28.8 436.8C26.8 436.9,23.0 438.3,21.8 436.8Z" fill="#000" fill-opacity="0.05" stroke="#555" stroke-width="0.3"/>
<path d="M21.8 436.8C20.8 435.6,21.7 431.4,21.8 429.4C21.9 427.4,21.9 425.7,22.4 424.7C22.9 423.6,23.7 423.4,24.7 423.3C25.7 423.2,27.1 423.5,28.2 424.1C29.4 424.7,30.7 425.7,31.6 426.8C32.5 427.9,33.2 429.3,33.5 430.6C33.7 431.9,33.5 433.4,33.2 434.4C32.9 435.3,32.8 436.0,31.8 436.4C30.9 436.8,29.3 436.7,27.6 436.8C26.0 436.9,22.8 438.0,21.8 436.8Z" fill="#000" fill-opacity="0.05" stroke="#555" stroke-width="0.3"/>
<path d="M21.8 436.8C21.0 435.8,21.7 432.5,21.8 430.9C21.9 429.2,21.9 427.9,22.3 427.1C22.7 426.3,23.4 426.1,24.1 426.0C24.9 425.9,26.0 426.2,26.9 426.6C27.8 427.1,28.9 427.9,29.6 428.8C30.3 429.7,30.9 430.8,31.1 431.8C31.3 432.8,31.2 434.1,30.9 434.9C30.7 435.6,30.6 436.2,29.8 436.5C29.1 436.8,27.8 436.7,26.5 436.8C25.1 436.9,22.6 437.8,21.8 436.8Z" fill="#000" fill-opacity="0.05" stroke="#555" stroke-width="0.3"/>
<path d="M23.6 417.4 L23.5 434.8 L33.0 435.4" fill="none" stroke="#000" stroke-width="6" stroke-linejoin="round" opacity="0.3" filter="url(#bl15)"/>
<path d="M23.7 420.1 L23.6 434.8 L31.8 435.3" fill="none" stroke="#000" stroke-width="2.8" stroke-linejoin="round" opacity="0.9" filter="url(#bl1)"/>
<ellipse cx="25.9" cy="431.2" rx="0.9" ry="2.1" transform="rotate(25 25.9 431.2)" fill="#fff" opacity="0.95"/>
<rect x="21.30" y="375.30" width="11.20" height="3.80" fill="#fff"/>
<rect x="71.90" y="375.30" width="11.00" height="3.80" fill="#fff"/>
<text x="22.1" y="379.5" font-size="4.6" fill="#a82c44" stroke="#a82c44" stroke-width="0.12" textLength="9.2" lengthAdjust="spacingAndGlyphs">8.73</text>
<text x="82.60000000000001" y="379.5" font-size="4.6" fill="#2a2a2a" stroke="#2a2a2a" stroke-width="0.12" text-anchor="end" textLength="9" lengthAdjust="spacingAndGlyphs">0.48</text>
<rect x="87.60" y="374.00" width="64.40" height="64.90" fill="none" stroke="#3b3b3b" stroke-width="1.1"/>
<rect x="88.30" y="377.30" width="25.80" height="25.90" fill="none" stroke="#444" stroke-width="0.8"/>
<rect x="115.40" y="377.50" width="35.60" height="60.80" fill="none" stroke="#444" stroke-width="0.8"/>
<path d="M111.9 385.6h0.55M96.8 393.9h0.55M92.4 392.7h0.55M112.1 390.8h0.55M95.9 389.7h0.55M102.1 382.4h0.55M92.5 382.0h0.55M96.5 388.4h0.55M96.4 384.6h0.55M91.7 391.6h0.55M109.3 393.0h0.55M103.0 394.0h0.55M94.3 395.3h0.55M100.4 391.6h0.55M104.0 389.8h0.55M96.9 384.6h0.55M94.8 390.8h0.55M98.6 392.5h0.55M89.9 387.1h0.55M109.9 384.5h0.55M102.7 390.3h0.55M96.3 401.7h0.55M96.5 396.8h0.55M93.3 380.5h0.55M110.1 389.1h0.55M91.1 387.9h0.55M99.9 395.9h0.55M92.2 384.2h0.55M112.1 396.0h0.55M93.2 386.8h0.55M97.9 394.5h0.55M104.1 398.5h0.55M108.9 390.9h0.55M107.0 396.1h0.55M107.5 389.9h0.55M108.0 395.3h0.55M111.1 381.9h0.55M110.1 379.1h0.55M107.6 392.5h0.55M101.3 401.1h0.55M93.1 409.7h0.55M94.5 408.9h0.55M92.1 413.6h0.55M99.5 407.9h0.55M92.7 416.0h0.55M95.3 414.9h0.55M91.9 412.0h0.55M103.3 415.9h0.55M107.0 417.2h0.55M97.6 410.9h0.55M106.8 409.9h0.55M109.1 404.1h0.55M105.8 411.1h0.55M103.1 412.1h0.55M92.0 409.7h0.55M112.7 407.9h0.55M91.0 411.3h0.55M97.5 407.4h0.55M93.9 417.2h0.55M89.1 421.8h0.55M96.2 406.5h0.55M106.9 414.8h0.55M92.3 415.7h0.55M109.6 410.7h0.55M90.2 414.6h0.55M107.9 411.9h0.55M103.9 415.8h0.55M96.7 411.8h0.55M110.2 407.3h0.55M107.0 408.6h0.55M104.3 415.4h0.55M91.1 411.6h0.55M102.5 414.9h0.55M93.2 407.0h0.55M99.1 410.9h0.55M88.6 416.6h0.55M96.3 419.2h0.55M107.4 412.1h0.55M106.4 406.4h0.55M98.0 409.1h0.55M90.4 412.1h0.55M99.4 419.2h0.55M93.3 409.7h0.55M104.0 414.0h0.55M100.8 409.6h0.55M104.6 413.8h0.55M89.6 406.1h0.55M101.8 412.3h0.55M101.5 407.6h0.55M99.0 407.4h0.55M103.7 415.4h0.55M94.2 409.7h0.55M93.1 413.5h0.55M90.3 414.6h0.55M100.6 413.5h0.55M93.8 421.8h0.55M103.3 408.1h0.55M101.0 417.0h0.55M99.5 408.5h0.55M94.7 421.5h0.55M100.8 415.1h0.55M97.4 414.5h0.55M107.1 411.3h0.55M96.9 411.1h0.55M92.9 411.0h0.55M98.2 413.1h0.55M111.3 418.5h0.55M97.0 415.0h0.55M103.0 415.8h0.55M100.8 413.3h0.55M96.8 408.1h0.55M107.6 418.5h0.55M105.9 414.2h0.55M102.7 409.7h0.55M102.2 409.2h0.55M92.9 418.4h0.55M105.7 423.9h0.55M94.9 411.9h0.55M96.5 412.8h0.55M98.9 408.3h0.55M109.2 408.1h0.55M96.5 414.8h0.55M96.3 409.8h0.55M103.4 410.2h0.55M90.6 411.5h0.55M98.8 420.5h0.55M91.8 416.8h0.55M94.3 410.2h0.55M98.0 413.4h0.55M107.5 420.7h0.55M95.5 418.6h0.55M108.6 416.1h0.55M94.5 416.5h0.55M99.7 413.8h0.55M98.4 415.3h0.55M109.5 417.7h0.55M99.0 417.0h0.55M112.2 407.3h0.55M112.4 405.3h0.55M104.9 415.0h0.55M112.5 413.4h0.55M96.8 408.0h0.55M90.6 415.8h0.55M98.7 408.4h0.55M104.9 408.2h0.55M97.1 409.7h0.55M113.8 419.3h0.55M99.3 404.1h0.55M102.8 412.4h0.55M103.4 414.8h0.55M98.0 416.6h0.55M107.3 413.1h0.55M97.3 409.6h0.55M106.1 406.5h0.55M99.3 408.3h0.55M89.5 415.0h0.55M100.4 412.2h0.55M107.6 404.5h0.55M100.1 413.4h0.55M107.3 406.6h0.55M106.3 413.1h0.55M111.4 417.7h0.55M105.0 422.7h0.55M100.6 409.9h0.55M97.9 407.3h0.55M99.9 414.1h0.55M108.5 410.3h0.55M111.7 408.7h0.55M94.5 408.0h0.55M112.3 414.6h0.55M118.9 396.2h0.55M128.2 390.2h0.55M125.5 389.6h0.55M124.9 402.0h0.55M133.8 389.8h0.55M121.0 390.3h0.55M130.7 394.7h0.55M122.0 394.8h0.55M124.2 396.0h0.55M123.0 380.5h0.55M125.7 397.9h0.55M118.9 391.2h0.55M130.5 389.1h0.55M121.6 407.8h0.55M130.3 400.0h0.55M119.9 404.7h0.55M129.7 402.4h0.55M120.0 386.8h0.55" stroke="#000" stroke-width="0.55" stroke-opacity="0.42" fill="none"/>
<path d="M89.7 436.8C87.7 434.4,89.5 426.3,89.7 422.3C89.9 418.4,89.9 415.1,90.9 413.1C91.9 411.2,93.6 410.7,95.6 410.5C97.6 410.3,100.4 410.9,102.7 412.1C105.1 413.2,107.8 415.2,109.6 417.3C111.4 419.4,112.8 422.2,113.4 424.7C114.0 427.2,113.5 430.2,112.9 432.1C112.4 434.0,112.0 435.2,110.1 436.0C108.2 436.8,104.9 436.7,101.5 436.8C98.2 436.9,91.7 439.2,89.7 436.8Z" fill="#000" fill-opacity="0.16" stroke="#333" stroke-width="0.45"/>
<path d="M89.7 436.8C87.9 434.6,89.5 427.3,89.7 423.8C89.9 420.2,89.9 417.3,90.8 415.5C91.7 413.7,93.3 413.3,95.0 413.1C96.8 413.0,99.3 413.5,101.4 414.6C103.5 415.6,106.0 417.4,107.6 419.3C109.2 421.2,110.5 423.7,111.0 425.9C111.5 428.1,111.1 430.8,110.6 432.5C110.1 434.2,109.8 435.4,108.0 436.1C106.3 436.8,103.4 436.7,100.4 436.8C97.3 436.9,91.5 439.0,89.7 436.8Z" fill="#000" fill-opacity="0.05" stroke="#555" stroke-width="0.3"/>
<path d="M89.7 436.8C88.1 434.9,89.5 428.4,89.7 425.2C89.9 422.1,89.9 419.4,90.6 417.9C91.4 416.3,92.9 415.9,94.4 415.8C96.0 415.6,98.3 416.1,100.1 417.0C102.0 417.9,104.2 419.5,105.6 421.2C107.0 422.9,108.2 425.2,108.7 427.1C109.1 429.1,108.7 431.5,108.3 433.0C107.8 434.5,107.5 435.5,106.0 436.2C104.5 436.8,101.9 436.7,99.2 436.8C96.5 436.9,91.3 438.7,89.7 436.8Z" fill="#000" fill-opacity="0.05" stroke="#555" stroke-width="0.3"/>
<path d="M89.7 436.8C88.3 435.1,89.6 429.4,89.7 426.7C89.8 423.9,89.8 421.6,90.5 420.2C91.2 418.9,92.5 418.5,93.8 418.4C95.2 418.3,97.2 418.7,98.8 419.5C100.5 420.3,102.4 421.7,103.6 423.2C104.9 424.6,105.9 426.6,106.3 428.3C106.7 430.0,106.3 432.2,106.0 433.5C105.6 434.8,105.3 435.7,104.0 436.2C102.6 436.8,100.4 436.7,98.0 436.8C95.6 436.9,91.1 438.5,89.7 436.8Z" fill="#000" fill-opacity="0.05" stroke="#555" stroke-width="0.3"/>
<path d="M89.7 436.8C88.5 435.4,89.6 430.5,89.7 428.1C89.8 425.8,89.8 423.8,90.4 422.6C91.0 421.4,92.1 421.1,93.3 421.0C94.4 420.9,96.1 421.3,97.5 422.0C98.9 422.7,100.6 423.9,101.6 425.1C102.7 426.4,103.6 428.1,103.9 429.5C104.3 431.0,104.0 432.8,103.6 434.0C103.3 435.1,103.1 435.9,101.9 436.3C100.8 436.8,98.8 436.7,96.8 436.8C94.8 436.9,90.9 438.2,89.7 436.8Z" fill="#000" fill-opacity="0.05" stroke="#555" stroke-width="0.3"/>
<path d="M89.7 436.8C88.7 435.6,89.6 431.5,89.7 429.6C89.8 427.6,89.8 426.0,90.3 425.0C90.8 424.0,91.7 423.7,92.7 423.6C93.6 423.6,95.1 423.9,96.2 424.4C97.4 425.0,98.8 426.0,99.7 427.1C100.5 428.1,101.3 429.5,101.5 430.8C101.8 432.0,101.6 433.5,101.3 434.4C101.0 435.4,100.8 436.0,99.9 436.4C98.9 436.8,97.3 436.7,95.6 436.8C93.9 436.9,90.7 438.0,89.7 436.8Z" fill="#000" fill-opacity="0.05" stroke="#555" stroke-width="0.3"/>
<path d="M89.7 436.8C88.9 435.8,89.6 432.6,89.7 431.0C89.8 429.4,89.8 428.1,90.2 427.3C90.6 426.5,91.3 426.4,92.1 426.3C92.9 426.2,94.0 426.5,94.9 426.9C95.8 427.4,97.0 428.2,97.7 429.0C98.4 429.9,99.0 431.0,99.2 432.0C99.4 432.9,99.2 434.2,99.0 434.9C98.8 435.7,98.6 436.2,97.9 436.5C97.1 436.8,95.8 436.7,94.4 436.8C93.1 436.9,90.5 437.8,89.7 436.8Z" fill="#000" fill-opacity="0.05" stroke="#555" stroke-width="0.3"/>
<path d="M91.5 417.9 L91.4 434.8 L101.0 435.4" fill="none" stroke="#000" stroke-width="6" stroke-linejoin="round" opacity="0.3" filter="url(#bl15)"/>
<path d="M91.6 420.5 L91.5 434.8 L99.9 435.3" fill="none" stroke="#000" stroke-width="2.8" stroke-linejoin="round" opacity="0.9" filter="url(#bl1)"/>
<ellipse cx="93.8" cy="431.2" rx="0.9" ry="2.1" transform="rotate(25 93.8 431.2)" fill="#fff" opacity="0.95"/>
<rect x="88.80" y="375.30" width="11.20" height="3.80" fill="#fff"/>
<rect x="139.50" y="375.30" width="11.00" height="3.80" fill="#fff"/>
<text x="89.6" y="379.5" font-size="4.6" fill="#a82c44" stroke="#a82c44" stroke-width="0.12" textLength="9.2" lengthAdjust="spacingAndGlyphs">9.81</text>
<text x="150.2" y="379.5" font-size="4.6" fill="#2a2a2a" stroke="#2a2a2a" stroke-width="0.12" text-anchor="end" textLength="9" lengthAdjust="spacingAndGlyphs">0.43</text>
<rect x="155.20" y="374.00" width="64.60" height="64.90" fill="none" stroke="#3b3b3b" stroke-width="1.1"/>
<rect x="155.90" y="377.30" width="25.80" height="25.90" fill="none" stroke="#444" stroke-width="0.8"/>
<rect x="183.00" y="377.50" width="35.80" height="60.80" fill="none" stroke="#444" stroke-width="0.8"/>
<path d="M175.2 398.1h0.55M159.9 385.7h0.55M165.7 383.7h0.55M158.6 385.5h0.55M161.8 395.1h0.55M167.7 381.6h0.55M164.8 389.8h0.55M165.7 382.9h0.55M158.9 379.2h0.55M180.5 396.3h0.55M159.2 395.5h0.55M180.2 392.0h0.55M159.8 390.2h0.55M167.4 383.4h0.55M170.0 379.2h0.55M178.8 393.8h0.55M172.0 400.5h0.55M172.5 384.8h0.55M163.0 382.2h0.55M157.9 396.8h0.55M176.9 385.8h0.55M161.6 393.7h0.55M177.1 400.3h0.55M161.2 397.0h0.55M176.7 396.1h0.55M164.9 383.2h0.55M176.6 386.4h0.55M165.9 391.7h0.55M165.9 398.1h0.55M162.8 379.9h0.55M170.5 393.4h0.55M176.5 395.2h0.55M178.5 400.7h0.55M168.8 390.5h0.55M160.9 385.9h0.55M170.9 380.8h0.55M173.4 382.8h0.55M167.6 401.3h0.55M159.3 379.9h0.55M167.5 383.4h0.55M168.1 411.6h0.55M170.1 406.9h0.55M165.8 419.2h0.55M159.9 411.5h0.55M163.7 416.6h0.55M172.1 410.3h0.55M165.7 417.2h0.55M161.4 410.2h0.55M169.3 414.0h0.55M164.2 417.0h0.55M179.0 410.3h0.55M169.3 410.4h0.55M163.3 405.9h0.55M165.2 418.2h0.55M177.0 410.3h0.55M164.1 408.6h0.55M159.0 420.7h0.55M173.3 412.6h0.55M164.4 407.1h0.55M178.3 415.7h0.55M160.9 416.7h0.55M159.7 415.1h0.55M160.8 410.0h0.55M172.0 414.1h0.55M176.0 408.0h0.55M180.3 418.5h0.55M168.1 414.2h0.55M162.2 411.3h0.55M158.1 412.4h0.55M169.7 418.4h0.55M175.5 415.9h0.55M165.4 410.9h0.55M165.6 413.1h0.55M168.4 409.5h0.55M181.0 411.5h0.55M180.3 417.6h0.55M164.4 413.9h0.55M178.2 410.4h0.55M168.9 409.3h0.55M168.7 410.3h0.55M168.8 416.8h0.55M178.9 412.6h0.55M169.8 416.1h0.55M166.0 406.9h0.55M176.7 407.5h0.55M175.3 407.4h0.55M174.7 419.2h0.55M160.8 419.1h0.55M173.7 415.4h0.55M167.8 410.5h0.55M165.3 410.6h0.55M165.4 408.6h0.55M171.2 417.1h0.55M173.8 406.4h0.55M169.4 412.7h0.55M179.2 417.7h0.55M172.2 417.8h0.55M165.2 419.4h0.55M164.9 413.9h0.55M175.3 407.6h0.55M169.5 411.7h0.55M165.7 414.4h0.55M168.9 410.7h0.55M174.3 420.4h0.55M164.8 407.5h0.55M163.6 412.4h0.55M172.7 407.9h0.55M175.9 407.1h0.55M174.6 414.1h0.55M171.8 422.4h0.55M166.2 411.2h0.55M171.9 416.1h0.55M157.9 413.3h0.55M162.5 415.0h0.55M178.7 412.2h0.55M167.4 412.9h0.55M172.5 412.8h0.55M165.2 408.5h0.55M166.8 417.8h0.55M167.4 418.5h0.55M170.3 411.9h0.55M177.8 405.8h0.55M160.6 406.7h0.55M164.0 415.1h0.55M179.4 409.2h0.55M163.7 420.0h0.55M167.6 406.0h0.55M163.3 408.5h0.55M160.4 410.4h0.55M174.9 413.7h0.55M157.6 425.4h0.55M160.6 412.6h0.55M168.4 415.7h0.55M165.7 414.2h0.55M159.9 413.6h0.55M162.0 410.2h0.55M169.6 413.6h0.55M166.0 416.1h0.55M166.7 405.7h0.55M174.9 410.3h0.55M177.5 408.9h0.55M172.6 413.5h0.55M159.6 418.8h0.55M176.6 414.4h0.55M173.4 409.6h0.55M168.1 413.1h0.55M171.4 415.4h0.55M166.6 408.6h0.55M163.9 414.0h0.55M165.0 409.3h0.55M165.6 410.8h0.55M165.8 414.3h0.55M172.0 417.7h0.55M176.3 407.0h0.55M173.1 410.4h0.55M162.0 419.4h0.55M163.4 407.9h0.55M165.1 407.9h0.55M175.9 413.8h0.55M179.0 414.0h0.55M163.5 417.0h0.55M163.2 409.8h0.55M166.9 412.2h0.55M177.4 409.1h0.55M170.9 411.9h0.55M158.5 406.7h0.55M166.5 413.9h0.55M170.7 414.3h0.55M168.6 409.8h0.55M171.5 407.2h0.55M185.2 389.4h0.55M184.7 388.0h0.55M188.7 387.7h0.55M192.7 385.8h0.55M193.8 385.2h0.55M188.4 393.9h0.55M193.5 392.8h0.55M184.3 393.8h0.55M193.9 384.5h0.55M197.3 391.6h0.55M193.1 388.5h0.55M196.2 392.8h0.55M199.6 395.5h0.55M189.4 390.3h0.55M198.3 389.2h0.55M195.2 396.0h0.55M193.8 393.7h0.55M193.8 386.1h0.55" stroke="#000" stroke-width="0.55" stroke-opacity="0.42" fill="none"/>
<path d="M157.5 436.8C155.7 434.3,157.3 426.0,157.5 421.9C157.7 417.8,157.7 414.4,158.6 412.4C159.4 410.4,161.0 409.9,162.8 409.7C164.6 409.5,167.1 410.2,169.2 411.3C171.2 412.5,173.7 414.6,175.3 416.7C176.9 418.9,178.2 421.8,178.7 424.3C179.2 426.9,178.8 430.0,178.3 431.9C177.8 433.9,177.4 435.2,175.7 436.0C174.0 436.8,171.1 436.7,168.1 436.8C165.1 436.9,159.3 439.3,157.5 436.8Z" fill="#000" fill-opacity="0.16" stroke="#333" stroke-width="0.45"/>
<path d="M157.5 436.8C155.9 434.6,157.3 427.0,157.5 423.4C157.7 419.7,157.7 416.7,158.5 414.8C159.2 413.0,160.7 412.6,162.3 412.4C163.9 412.2,166.1 412.8,168.0 413.9C169.9 414.9,172.1 416.8,173.5 418.8C175.0 420.7,176.1 423.3,176.6 425.6C177.0 427.9,176.6 430.7,176.2 432.4C175.8 434.2,175.4 435.3,173.9 436.1C172.4 436.8,169.8 436.7,167.0 436.8C164.3 436.9,159.1 439.0,157.5 436.8Z" fill="#000" fill-opacity="0.05" stroke="#555" stroke-width="0.3"/>
<path d="M157.5 436.8C156.1 434.8,157.4 428.1,157.5 424.9C157.6 421.6,157.6 418.9,158.3 417.3C159.1 415.7,160.3 415.3,161.7 415.1C163.2 415.0,165.2 415.5,166.8 416.4C168.5 417.4,170.5 419.0,171.7 420.8C173.0 422.5,174.1 424.8,174.5 426.8C174.9 428.9,174.5 431.3,174.1 432.9C173.7 434.5,173.4 435.5,172.1 436.1C170.7 436.8,168.4 436.7,166.0 436.8C163.5 436.9,158.9 438.8,157.5 436.8Z" fill="#000" fill-opacity="0.05" stroke="#555" stroke-width="0.3"/>
<path d="M157.5 436.8C156.3 435.1,157.4 429.2,157.5 426.4C157.6 423.5,157.6 421.1,158.2 419.7C158.9 418.3,160.0 418.0,161.2 417.8C162.4 417.7,164.2 418.1,165.7 419.0C167.1 419.8,168.9 421.2,170.0 422.8C171.1 424.3,172.0 426.3,172.3 428.1C172.7 429.8,172.4 432.0,172.0 433.4C171.7 434.7,171.4 435.7,170.3 436.2C169.1 436.8,167.0 436.7,164.9 436.8C162.8 436.9,158.7 438.5,157.5 436.8Z" fill="#000" fill-opacity="0.05" stroke="#555" stroke-width="0.3"/>
<path d="M157.5 436.8C156.4 435.3,157.4 430.3,157.5 427.9C157.6 425.4,157.6 423.4,158.1 422.2C158.7 420.9,159.6 420.6,160.7 420.5C161.7 420.4,163.2 420.8,164.5 421.5C165.7 422.2,167.2 423.5,168.2 424.8C169.1 426.1,169.9 427.8,170.2 429.3C170.5 430.8,170.3 432.7,170.0 433.9C169.7 435.0,169.5 435.8,168.4 436.3C167.4 436.8,165.7 436.7,163.9 436.8C162.0 436.9,158.6 438.3,157.5 436.8Z" fill="#000" fill-opacity="0.05" stroke="#555" stroke-width="0.3"/>
<path d="M157.5 436.8C156.6 435.6,157.4 431.4,157.5 429.3C157.6 427.3,157.6 425.6,158.0 424.6C158.5 423.6,159.3 423.3,160.2 423.2C161.0 423.2,162.3 423.5,163.3 424.1C164.4 424.7,165.6 425.7,166.4 426.8C167.2 427.9,167.9 429.3,168.1 430.6C168.3 431.8,168.1 433.4,167.9 434.4C167.6 435.3,167.5 436.0,166.6 436.4C165.8 436.8,164.3 436.7,162.8 436.8C161.3 436.9,158.4 438.0,157.5 436.8Z" fill="#000" fill-opacity="0.05" stroke="#555" stroke-width="0.3"/>
<path d="M157.5 436.8C156.8 435.8,157.4 432.5,157.5 430.8C157.6 429.2,157.6 427.9,157.9 427.0C158.3 426.2,158.9 426.0,159.6 426.0C160.3 425.9,161.3 426.1,162.2 426.6C163.0 427.1,164.0 427.9,164.6 428.8C165.3 429.6,165.8 430.8,166.0 431.8C166.2 432.8,166.0 434.1,165.8 434.8C165.6 435.6,165.5 436.1,164.8 436.5C164.1 436.8,163.0 436.7,161.7 436.8C160.5 436.9,158.2 437.8,157.5 436.8Z" fill="#000" fill-opacity="0.05" stroke="#555" stroke-width="0.3"/>
<path d="M159.3 417.3 L159.2 434.8 L167.6 435.4" fill="none" stroke="#000" stroke-width="6" stroke-linejoin="round" opacity="0.3" filter="url(#bl15)"/>
<path d="M159.4 420.0 L159.3 434.8 L166.5 435.3" fill="none" stroke="#000" stroke-width="2.8" stroke-linejoin="round" opacity="0.9" filter="url(#bl1)"/>
<ellipse cx="161.6" cy="431.2" rx="0.9" ry="2.1" transform="rotate(25 161.6 431.2)" fill="#fff" opacity="0.95"/>
<rect x="156.40" y="375.30" width="11.20" height="3.80" fill="#fff"/>
<rect x="207.30" y="375.30" width="11.00" height="3.80" fill="#fff"/>
<text x="157.2" y="379.5" font-size="4.6" fill="#a82c44" stroke="#a82c44" stroke-width="0.12" textLength="9.2" lengthAdjust="spacingAndGlyphs">6.77</text>
<text x="218.0" y="379.5" font-size="4.6" fill="#2a2a2a" stroke="#2a2a2a" stroke-width="0.12" text-anchor="end" textLength="9" lengthAdjust="spacingAndGlyphs">0.47</text>
<rect x="223.20" y="374.00" width="64.70" height="64.90" fill="none" stroke="#3b3b3b" stroke-width="1.1"/>
<rect x="223.90" y="377.30" width="25.80" height="25.90" fill="none" stroke="#444" stroke-width="0.8"/>
<rect x="251.00" y="377.50" width="35.90" height="60.80" fill="none" stroke="#444" stroke-width="0.8"/>
<path d="M248.3 390.5h0.55M240.1 386.9h0.55M244.0 389.6h0.55M232.8 399.8h0.55M227.7 395.9h0.55M226.7 393.8h0.55M234.6 398.9h0.55M226.6 392.0h0.55M234.8 400.1h0.55M247.4 393.4h0.55M230.5 384.8h0.55M231.4 389.0h0.55M230.6 383.7h0.55M243.0 393.8h0.55M232.2 401.9h0.55M230.3 392.1h0.55M228.9 398.9h0.55M245.6 385.1h0.55M242.9 397.9h0.55M231.8 386.6h0.55M236.6 399.5h0.55M229.0 394.7h0.55M239.2 389.4h0.55M238.8 399.3h0.55M230.1 399.3h0.55M233.7 396.9h0.55M245.5 383.2h0.55M245.5 401.9h0.55M232.2 379.6h0.55M227.8 401.4h0.55M225.4 400.0h0.55M228.7 395.9h0.55M227.5 382.9h0.55M241.2 381.1h0.55M233.2 400.1h0.55M242.0 399.3h0.55M248.2 379.8h0.55M230.7 397.2h0.55M241.4 379.9h0.55M237.1 384.3h0.55M232.8 413.0h0.55M229.5 421.4h0.55M242.9 416.0h0.55M241.8 416.0h0.55M241.5 418.9h0.55M244.0 418.6h0.55M232.3 412.0h0.55M230.5 416.7h0.55M242.7 409.7h0.55M240.8 424.8h0.55M245.8 406.6h0.55M235.5 415.1h0.55M235.9 413.9h0.55M245.4 413.6h0.55M227.7 415.5h0.55M235.4 412.6h0.55M231.8 405.3h0.55M226.5 410.3h0.55M245.1 406.3h0.55M230.6 414.6h0.55M230.2 415.2h0.55M232.4 413.5h0.55M237.0 412.0h0.55M235.9 418.9h0.55M231.9 414.6h0.55M237.5 414.4h0.55M243.9 404.7h0.55M238.3 411.1h0.55M233.8 407.8h0.55M230.1 407.0h0.55M227.6 424.2h0.55M249.4 412.0h0.55M242.0 407.2h0.55M237.3 419.0h0.55M235.9 407.1h0.55M234.3 407.1h0.55M225.3 410.9h0.55M233.1 408.0h0.55M229.3 407.5h0.55M238.0 418.8h0.55M234.6 422.9h0.55M227.2 411.2h0.55M237.0 414.7h0.55M245.0 409.3h0.55M226.5 411.1h0.55M238.5 408.6h0.55M243.2 420.2h0.55M225.1 413.8h0.55M237.8 410.9h0.55M225.1 418.4h0.55M237.9 409.7h0.55M239.7 415.1h0.55M242.2 414.8h0.55M239.4 406.3h0.55M232.9 412.6h0.55M233.2 406.9h0.55M236.5 409.2h0.55M233.0 407.7h0.55M230.4 411.5h0.55M231.2 415.3h0.55M235.1 412.6h0.55M239.4 418.2h0.55M240.9 413.1h0.55M234.9 408.1h0.55M233.5 415.3h0.55M238.0 410.1h0.55M225.8 404.5h0.55M238.7 417.0h0.55M239.1 405.3h0.55M234.5 413.1h0.55M229.0 413.7h0.55M234.6 407.9h0.55M226.5 416.0h0.55M239.0 407.7h0.55M228.3 416.3h0.55M240.8 410.5h0.55M248.6 410.6h0.55M228.0 417.3h0.55M234.7 413.7h0.55M236.5 407.1h0.55M226.9 411.1h0.55M247.2 407.1h0.55M246.8 413.1h0.55M227.5 413.3h0.55M240.6 407.6h0.55M227.6 414.1h0.55M229.9 404.8h0.55M234.3 412.8h0.55M231.9 406.3h0.55M240.4 414.4h0.55M249.3 416.3h0.55M239.0 413.3h0.55M236.4 405.6h0.55M247.6 414.6h0.55M234.0 406.4h0.55M247.7 414.6h0.55M227.0 415.3h0.55M239.3 410.0h0.55M231.3 417.2h0.55M235.2 415.9h0.55M233.8 415.5h0.55M242.6 407.1h0.55M227.9 411.6h0.55M242.7 413.3h0.55M245.8 405.3h0.55M240.0 409.0h0.55M237.0 413.6h0.55M228.7 410.9h0.55M227.2 413.3h0.55M229.6 409.6h0.55M237.9 408.8h0.55M245.1 408.9h0.55M242.8 413.4h0.55M228.2 410.9h0.55M229.7 410.2h0.55M234.1 420.8h0.55M232.9 419.6h0.55M239.7 405.7h0.55M244.2 413.9h0.55M234.6 410.8h0.55M238.2 410.5h0.55M232.1 410.2h0.55M245.3 409.0h0.55M239.1 406.4h0.55M230.7 405.3h0.55M234.7 415.3h0.55M238.6 409.6h0.55M240.9 410.3h0.55M239.1 413.3h0.55M226.1 415.7h0.55M260.4 409.4h0.55M259.6 387.7h0.55M269.7 396.3h0.55M272.0 395.9h0.55M259.8 397.6h0.55M256.4 388.5h0.55M257.8 390.3h0.55M265.5 388.3h0.55M262.9 388.1h0.55M259.8 393.3h0.55M254.7 399.8h0.55M262.3 401.9h0.55M266.6 397.0h0.55M260.1 383.6h0.55M259.7 388.4h0.55M262.4 388.4h0.55M278.7 379.6h0.55M267.8 388.4h0.55" stroke="#000" stroke-width="0.55" stroke-opacity="0.42" fill="none"/>
<path d="M225.5 436.8C223.7 434.6,225.3 427.1,225.5 423.4C225.7 419.8,225.7 416.8,226.6 414.9C227.5 413.1,229.2 412.7,231.0 412.5C232.8 412.3,235.4 412.9,237.6 414.0C239.8 415.0,242.3 416.9,244.0 418.8C245.6 420.8,247.0 423.4,247.5 425.6C248.0 427.9,247.6 430.7,247.1 432.4C246.5 434.2,246.2 435.3,244.4 436.1C242.7 436.8,239.7 436.7,236.5 436.8C233.3 436.9,227.3 439.0,225.5 436.8Z" fill="#000" fill-opacity="0.16" stroke="#333" stroke-width="0.45"/>
<path d="M225.5 436.8C223.8 434.8,225.3 428.1,225.5 424.8C225.7 421.5,225.7 418.8,226.5 417.1C227.3 415.5,228.8 415.1,230.4 414.9C232.1 414.8,234.4 415.3,236.4 416.2C238.3 417.2,240.6 418.9,242.1 420.6C243.6 422.4,244.8 424.7,245.3 426.7C245.8 428.8,245.4 431.3,244.9 432.9C244.4 434.4,244.1 435.5,242.5 436.1C240.9 436.8,238.2 436.7,235.4 436.8C232.6 436.9,227.2 438.8,225.5 436.8Z" fill="#000" fill-opacity="0.05" stroke="#555" stroke-width="0.3"/>
<path d="M225.5 436.8C224.0 435.0,225.4 429.0,225.5 426.1C225.6 423.2,225.6 420.8,226.4 419.3C227.1 417.8,228.4 417.5,229.9 417.4C231.4 417.2,233.4 417.7,235.2 418.5C236.9 419.4,239.0 420.9,240.3 422.4C241.6 424.0,242.7 426.0,243.1 427.9C243.5 429.7,243.2 431.9,242.7 433.3C242.3 434.7,242.0 435.6,240.6 436.2C239.2 436.8,236.8 436.7,234.3 436.8C231.8 436.9,227.0 438.6,225.5 436.8Z" fill="#000" fill-opacity="0.05" stroke="#555" stroke-width="0.3"/>
<path d="M225.5 436.8C224.2 435.2,225.4 430.0,225.5 427.4C225.6 424.9,225.6 422.8,226.3 421.5C226.9 420.2,228.1 419.9,229.3 419.8C230.6 419.7,232.5 420.1,234.0 420.8C235.5 421.5,237.3 422.9,238.4 424.2C239.6 425.6,240.5 427.4,240.9 429.0C241.3 430.6,241.0 432.5,240.6 433.7C240.2 435.0,240.0 435.8,238.7 436.3C237.5 436.8,235.4 436.7,233.2 436.8C231.0 436.9,226.8 438.4,225.5 436.8Z" fill="#000" fill-opacity="0.05" stroke="#555" stroke-width="0.3"/>
<path d="M225.5 436.8C224.4 435.5,225.4 431.0,225.5 428.8C225.6 426.6,225.6 424.8,226.2 423.7C226.7 422.6,227.7 422.3,228.8 422.2C229.9 422.1,231.5 422.5,232.8 423.1C234.1 423.7,235.6 424.8,236.6 426.0C237.6 427.2,238.4 428.7,238.7 430.1C239.0 431.5,238.7 433.1,238.4 434.2C238.1 435.2,237.9 435.9,236.9 436.4C235.8 436.8,234.0 436.7,232.1 436.8C230.2 436.9,226.6 438.1,225.5 436.8Z" fill="#000" fill-opacity="0.05" stroke="#555" stroke-width="0.3"/>
<path d="M225.5 436.8C224.6 435.7,225.4 431.9,225.5 430.1C225.6 428.3,225.6 426.8,226.1 425.9C226.5 425.0,227.3 424.7,228.2 424.6C229.2 424.6,230.5 424.9,231.6 425.4C232.6 425.9,233.9 426.8,234.7 427.8C235.6 428.8,236.2 430.1,236.5 431.2C236.8 432.3,236.5 433.7,236.3 434.6C236.0 435.5,235.8 436.1,235.0 436.4C234.1 436.8,232.6 436.7,231.0 436.8C229.4 436.9,226.4 437.9,225.5 436.8Z" fill="#000" fill-opacity="0.05" stroke="#555" stroke-width="0.3"/>
<path d="M225.5 436.8C224.8 435.9,225.4 432.9,225.5 431.5C225.6 430.0,225.6 428.8,225.9 428.1C226.3 427.3,227.0 427.1,227.7 427.1C228.4 427.0,229.5 427.2,230.3 427.7C231.2 428.1,232.2 428.8,232.9 429.6C233.6 430.4,234.1 431.4,234.3 432.3C234.5 433.2,234.3 434.4,234.1 435.1C233.9 435.7,233.8 436.2,233.1 436.5C232.4 436.8,231.2 436.8,229.9 436.8C228.6 436.8,226.2 437.7,225.5 436.8Z" fill="#000" fill-opacity="0.05" stroke="#555" stroke-width="0.3"/>
<path d="M227.3 419.3 L227.2 434.8 L236.0 435.4" fill="none" stroke="#000" stroke-width="6" stroke-linejoin="round" opacity="0.3" filter="url(#bl15)"/>
<path d="M227.4 421.7 L227.3 434.8 L234.9 435.3" fill="none" stroke="#000" stroke-width="2.8" stroke-linejoin="round" opacity="0.9" filter="url(#bl1)"/>
<ellipse cx="229.6" cy="431.2" rx="0.9" ry="2.1" transform="rotate(25 229.6 431.2)" fill="#fff" opacity="0.95"/>
<rect x="224.40" y="375.30" width="11.20" height="3.80" fill="#fff"/>
<rect x="275.40" y="375.30" width="11.00" height="3.80" fill="#fff"/>
<text x="225.2" y="379.5" font-size="4.6" fill="#a82c44" stroke="#a82c44" stroke-width="0.12" textLength="9.2" lengthAdjust="spacingAndGlyphs">6.24</text>
<text x="286.09999999999997" y="379.5" font-size="4.6" fill="#2a2a2a" stroke="#2a2a2a" stroke-width="0.12" text-anchor="end" textLength="9" lengthAdjust="spacingAndGlyphs">0.46</text>
<ellipse cx="33.00" cy="391.00" rx="8.00" ry="7.00" transform="rotate(0 33.00 391.00)" fill="#000" opacity="0.2" filter="url(#bl3)"/>
<ellipse cx="99.50" cy="390.00" rx="8.00" ry="7.50" transform="rotate(0 99.50 390.00)" fill="#000" opacity="0.22" filter="url(#bl3)"/>
<ellipse cx="168.00" cy="390.00" rx="8.00" ry="7.50" transform="rotate(0 168.00 390.00)" fill="#000" opacity="0.2" filter="url(#bl3)"/>
<ellipse cx="237.00" cy="390.00" rx="8.50" ry="7.00" transform="rotate(0 237.00 390.00)" fill="#000" opacity="0.2" filter="url(#bl3)"/>
<path d="M31.7 395.5h0.5M33.0 385.1h0.5M35.2 390.1h0.5M22.1 392.0h0.5M27.4 387.4h0.5M35.6 392.4h0.5M31.5 401.5h0.5M35.2 388.0h0.5M34.3 390.4h0.5M21.3 383.4h0.5M25.6 401.0h0.5M32.0 389.7h0.5M30.0 395.7h0.5M33.1 399.2h0.5M37.2 398.9h0.5M32.4 392.8h0.5M30.7 390.2h0.5M23.8 388.2h0.5M28.0 387.9h0.5M39.5 392.3h0.5M39.5 395.1h0.5M37.9 395.8h0.5M29.8 394.9h0.5M31.3 388.4h0.5M39.3 401.4h0.5M27.8 399.4h0.5M37.4 386.9h0.5M34.4 392.8h0.5M35.0 389.3h0.5M26.2 391.2h0.5M37.6 394.8h0.5M36.5 396.3h0.5M27.7 390.8h0.5M34.8 395.8h0.5M33.8 393.5h0.5M33.7 401.1h0.5M21.4 390.9h0.5M23.3 391.6h0.5M25.4 387.7h0.5M34.2 399.3h0.5M35.5 394.2h0.5M38.4 392.0h0.5M28.5 390.5h0.5M34.8 389.7h0.5M29.5 389.3h0.5M25.0 386.1h0.5M32.5 389.3h0.5M33.2 397.8h0.5M34.6 390.8h0.5M26.8 385.8h0.5M35.0 386.8h0.5M35.3 385.8h0.5M33.7 390.6h0.5M38.3 389.1h0.5M31.0 392.2h0.5M33.3 399.1h0.5M31.6 388.4h0.5M31.3 393.3h0.5M34.2 394.3h0.5M42.7 390.8h0.5M26.6 391.7h0.5M35.2 380.3h0.5M33.1 383.9h0.5M35.4 397.6h0.5M38.5 383.8h0.5M40.3 395.4h0.5M31.1 393.4h0.5M41.0 389.4h0.5M32.9 388.3h0.5M39.1 380.6h0.5M40.5 386.3h0.5M37.9 383.2h0.5M28.0 388.1h0.5M37.4 383.2h0.5M36.2 387.9h0.5M39.6 389.5h0.5M35.6 390.2h0.5M42.5 389.3h0.5M32.9 400.5h0.5M33.4 394.3h0.5M29.1 392.0h0.5M21.0 391.5h0.5M29.6 383.8h0.5M25.5 396.5h0.5M35.3 383.7h0.5M42.6 387.7h0.5M31.0 392.2h0.5M27.0 383.2h0.5M29.1 396.7h0.5M38.0 383.4h0.5M39.4 391.2h0.5M35.6 391.2h0.5M35.2 386.2h0.5M28.2 387.6h0.5M31.1 394.0h0.5M26.6 398.7h0.5M29.7 388.2h0.5M36.7 393.1h0.5M31.2 385.9h0.5M27.7 383.3h0.5M39.1 396.2h0.5M42.9 393.4h0.5M34.8 394.6h0.5M38.0 389.8h0.5M34.9 401.4h0.5M24.0 384.2h0.5M27.9 394.6h0.5M39.3 389.4h0.5M36.6 390.8h0.5M34.6 388.4h0.5M32.9 391.0h0.5M39.0 401.7h0.5M23.4 393.6h0.5M33.0 395.7h0.5M38.6 394.8h0.5M37.3 386.4h0.5M24.0 399.0h0.5M39.4 386.4h0.5M39.8 394.2h0.5M27.8 396.6h0.5M29.4 387.4h0.5M24.8 390.0h0.5M38.4 387.8h0.5M23.1 401.3h0.5M42.8 394.3h0.5M30.2 385.2h0.5M24.3 393.7h0.5M39.9 385.9h0.5M33.0 389.7h0.5M31.6 393.4h0.5M44.1 387.9h0.5M37.5 396.2h0.5M31.5 390.3h0.5M25.9 396.2h0.5M30.2 387.8h0.5M33.4 386.9h0.5M27.5 389.6h0.5M40.9 390.0h0.5M35.8 383.9h0.5M22.7 399.8h0.5M30.9 383.6h0.5M32.4 393.9h0.5M23.8 386.7h0.5M34.4 386.6h0.5M37.2 395.6h0.5M35.3 388.9h0.5M32.8 387.9h0.5M32.3 392.5h0.5M31.4 395.7h0.5M34.8 395.0h0.5M36.4 389.9h0.5M30.5 395.8h0.5M36.3 393.4h0.5M28.7 394.0h0.5M37.2 390.1h0.5M36.4 401.5h0.5M23.0 393.9h0.5M26.8 384.4h0.5M31.7 393.6h0.5M33.3 385.4h0.5M25.4 388.3h0.5M33.1 387.0h0.5M25.0 399.5h0.5M28.5 390.2h0.5M30.1 388.2h0.5M33.2 389.6h0.5M36.3 385.3h0.5M25.1 400.4h0.5M32.6 394.7h0.5M39.3 393.7h0.5" stroke="#000" stroke-width="0.5" stroke-opacity="0.4" fill="none"/>
<path d="M99.7 383.0h0.5M91.0 395.2h0.5M103.1 393.3h0.5M90.7 380.2h0.5M93.9 384.8h0.5M100.3 385.6h0.5M107.9 387.5h0.5M96.5 394.7h0.5M101.3 386.1h0.5M103.9 399.8h0.5M93.0 389.3h0.5M93.8 381.1h0.5M102.8 393.9h0.5M104.7 392.6h0.5M88.8 390.4h0.5M95.9 384.8h0.5M93.6 394.2h0.5M97.9 400.0h0.5M102.0 381.2h0.5M104.3 396.6h0.5M99.7 384.6h0.5M109.0 384.1h0.5M99.1 381.2h0.5M92.8 382.2h0.5M105.3 396.2h0.5M97.3 383.9h0.5M99.2 392.3h0.5M91.3 384.9h0.5M99.0 393.9h0.5M99.9 392.7h0.5M101.2 386.0h0.5M98.8 388.7h0.5M102.1 386.7h0.5M107.2 390.7h0.5M102.3 393.6h0.5M105.1 392.5h0.5M90.1 387.4h0.5M109.5 392.8h0.5M102.5 392.8h0.5M96.1 387.2h0.5M96.0 396.2h0.5M101.5 399.2h0.5M102.2 399.7h0.5M102.0 384.7h0.5M108.9 392.2h0.5M105.9 391.6h0.5M97.7 391.3h0.5M93.5 384.6h0.5M94.7 387.9h0.5M92.2 390.0h0.5M101.1 400.4h0.5M109.4 390.3h0.5M104.3 389.4h0.5M101.6 390.3h0.5M96.6 390.9h0.5M91.5 392.7h0.5M97.9 385.2h0.5M97.6 393.2h0.5M95.8 392.8h0.5M102.6 398.2h0.5M93.6 390.0h0.5M102.3 397.9h0.5M100.9 394.2h0.5M91.6 387.6h0.5M108.5 389.1h0.5M111.2 386.9h0.5M98.0 382.6h0.5M102.9 391.8h0.5M110.4 391.3h0.5M98.1 383.6h0.5M99.1 395.2h0.5M103.5 396.6h0.5M104.2 390.3h0.5M102.8 391.4h0.5M92.3 398.9h0.5M101.5 385.3h0.5M101.6 391.9h0.5M104.9 397.6h0.5M107.8 385.8h0.5M89.4 391.9h0.5M101.3 392.2h0.5M93.5 388.2h0.5M100.6 394.2h0.5M111.4 392.0h0.5M96.2 378.8h0.5M105.3 389.8h0.5M98.9 385.6h0.5M103.5 381.6h0.5M100.1 391.1h0.5M101.1 397.0h0.5M99.0 391.0h0.5M104.2 382.8h0.5M97.9 390.8h0.5M104.7 386.5h0.5M103.9 392.4h0.5M91.4 383.2h0.5M91.7 391.2h0.5M100.6 394.1h0.5M104.0 387.8h0.5M105.3 394.6h0.5M102.1 392.9h0.5M92.5 392.3h0.5M93.9 384.6h0.5M97.6 391.2h0.5M99.2 388.9h0.5M94.0 391.4h0.5M95.4 383.5h0.5M100.0 397.7h0.5M97.3 385.2h0.5M107.1 399.0h0.5M97.9 389.5h0.5M100.2 395.4h0.5M101.9 381.4h0.5M93.5 384.4h0.5M101.9 391.0h0.5M109.3 389.2h0.5M101.2 390.9h0.5M100.3 402.0h0.5M101.1 397.8h0.5M106.6 387.5h0.5M103.3 388.6h0.5M100.1 391.3h0.5M99.6 388.2h0.5M108.0 389.2h0.5M103.4 398.9h0.5M102.9 395.6h0.5M107.1 395.9h0.5M108.9 383.4h0.5M110.2 390.6h0.5M89.9 387.3h0.5M91.9 390.4h0.5M91.3 385.5h0.5M101.1 391.3h0.5M95.1 389.3h0.5M99.0 390.9h0.5M99.5 389.4h0.5M104.3 382.5h0.5M96.8 391.2h0.5M97.3 387.7h0.5M97.1 391.5h0.5M106.3 389.6h0.5M98.0 392.3h0.5M98.2 380.8h0.5M101.0 388.6h0.5M96.4 393.6h0.5M99.7 387.7h0.5M87.5 381.9h0.5M99.6 389.9h0.5M101.9 391.6h0.5M96.9 384.2h0.5M93.5 389.8h0.5M93.2 394.3h0.5M92.2 381.5h0.5M98.4 381.6h0.5M108.4 385.5h0.5M99.2 389.3h0.5M95.0 381.7h0.5M89.3 394.8h0.5M105.1 401.3h0.5M91.5 393.3h0.5M99.4 394.7h0.5M96.7 394.1h0.5M104.4 393.5h0.5M107.5 389.6h0.5M108.0 387.0h0.5M99.6 386.5h0.5M99.5 395.7h0.5M103.4 391.0h0.5M108.9 383.1h0.5M95.0 398.0h0.5" stroke="#000" stroke-width="0.5" stroke-opacity="0.4" fill="none"/>
<path d="M169.8 380.6h0.5M169.9 385.1h0.5M176.1 396.7h0.5M165.0 397.5h0.5M163.4 395.6h0.5M171.2 390.4h0.5M160.2 389.6h0.5M157.8 397.1h0.5M162.7 378.8h0.5M171.2 392.8h0.5M165.2 401.6h0.5M172.3 391.3h0.5M170.6 395.8h0.5M164.7 383.9h0.5M167.8 382.6h0.5M168.0 394.9h0.5M176.3 392.3h0.5M169.1 394.7h0.5M175.7 389.4h0.5M161.2 387.0h0.5M161.1 386.6h0.5M167.3 392.7h0.5M168.9 391.3h0.5M166.0 393.1h0.5M172.9 394.8h0.5M176.2 389.5h0.5M166.6 399.5h0.5M169.1 393.1h0.5M166.2 395.8h0.5M165.8 386.0h0.5M167.7 388.8h0.5M172.6 389.1h0.5M168.7 389.9h0.5M169.9 387.8h0.5M174.1 383.9h0.5M165.9 387.5h0.5M171.6 391.2h0.5M170.7 389.3h0.5M164.1 385.4h0.5M166.2 388.3h0.5M169.5 392.8h0.5M173.4 390.5h0.5M163.9 385.7h0.5M168.3 392.8h0.5M178.7 391.9h0.5M177.7 400.4h0.5M162.2 397.1h0.5M174.3 397.7h0.5M167.9 395.8h0.5M165.4 390.6h0.5M168.1 399.9h0.5M166.8 395.8h0.5M168.4 387.5h0.5M169.3 394.3h0.5M164.1 394.2h0.5M164.1 386.6h0.5M169.2 389.8h0.5M162.6 382.9h0.5M168.1 392.2h0.5M165.5 391.9h0.5M159.6 393.0h0.5M170.3 392.4h0.5M164.6 391.4h0.5M168.7 396.3h0.5M169.5 392.3h0.5M164.0 395.3h0.5M174.4 388.5h0.5M171.5 392.5h0.5M167.7 384.6h0.5M177.7 381.7h0.5M169.7 389.1h0.5M174.3 388.9h0.5M168.2 394.1h0.5M170.5 388.4h0.5M171.7 393.0h0.5M173.4 388.4h0.5M167.7 389.0h0.5M163.4 392.3h0.5M170.2 398.1h0.5M166.2 392.9h0.5M174.3 390.4h0.5M168.3 391.7h0.5M164.2 386.1h0.5M174.1 391.9h0.5M167.6 384.8h0.5M168.6 396.8h0.5M161.7 386.6h0.5M174.1 398.1h0.5M176.5 388.2h0.5M171.3 387.3h0.5M170.9 389.2h0.5M169.1 397.7h0.5M169.9 389.8h0.5M168.3 392.3h0.5M165.2 392.0h0.5M171.3 398.8h0.5M156.7 385.1h0.5M161.2 395.4h0.5M168.7 396.7h0.5M165.2 388.6h0.5M169.9 388.1h0.5M174.1 391.0h0.5M165.5 395.6h0.5M163.5 397.2h0.5M173.3 391.7h0.5M173.4 399.0h0.5M175.5 391.0h0.5M167.7 396.5h0.5M160.0 388.0h0.5M170.6 393.8h0.5M178.2 399.7h0.5M169.8 393.2h0.5M160.8 390.1h0.5M169.4 389.9h0.5M168.3 394.0h0.5M162.8 388.2h0.5M158.3 396.7h0.5M162.3 382.6h0.5M172.2 389.9h0.5M173.3 389.2h0.5M179.6 394.5h0.5M168.8 391.6h0.5M166.9 395.0h0.5M178.9 388.9h0.5M162.1 394.0h0.5M173.8 383.6h0.5M164.2 386.1h0.5M171.1 393.5h0.5M164.0 385.4h0.5M171.7 380.8h0.5M171.5 390.2h0.5M178.4 395.9h0.5M164.9 389.6h0.5M166.5 387.4h0.5M168.4 395.8h0.5M159.8 389.9h0.5M176.1 394.7h0.5M163.6 387.0h0.5M163.4 383.1h0.5M174.2 391.3h0.5M164.2 383.9h0.5M165.9 388.5h0.5M177.3 388.7h0.5M168.6 396.3h0.5M171.6 390.1h0.5M156.2 397.9h0.5M171.2 388.9h0.5M167.5 386.3h0.5M163.1 383.7h0.5M170.7 393.5h0.5M168.9 394.8h0.5M170.9 391.6h0.5M163.2 393.9h0.5M174.4 394.1h0.5M174.7 388.7h0.5M162.7 397.1h0.5M164.8 392.2h0.5M167.0 391.1h0.5M166.5 388.4h0.5M158.4 400.4h0.5M169.1 381.6h0.5M163.1 385.5h0.5M171.1 399.0h0.5M166.7 394.6h0.5M171.2 384.9h0.5M174.6 382.7h0.5M164.9 389.2h0.5M174.8 391.6h0.5M167.3 387.1h0.5M168.5 391.2h0.5" stroke="#000" stroke-width="0.5" stroke-opacity="0.4" fill="none"/>
<path d="M241.4 397.3h0.5M241.5 390.6h0.5M236.7 398.3h0.5M238.6 390.4h0.5M247.2 398.2h0.5M240.6 390.0h0.5M234.1 395.7h0.5M235.1 395.2h0.5M233.3 391.0h0.5M239.7 391.2h0.5M238.8 392.4h0.5M231.5 385.1h0.5M236.7 399.3h0.5M236.8 386.0h0.5M234.0 390.7h0.5M243.9 387.7h0.5M240.5 391.4h0.5M235.6 385.9h0.5M236.7 387.0h0.5M240.4 381.9h0.5M243.6 394.2h0.5M240.6 397.8h0.5M240.7 382.2h0.5M237.8 392.7h0.5M233.8 385.0h0.5M239.8 393.0h0.5M235.2 389.3h0.5M234.8 387.7h0.5M237.2 395.7h0.5M228.9 388.8h0.5M246.2 392.0h0.5M238.3 394.6h0.5M232.1 384.6h0.5M228.6 383.4h0.5M238.8 394.6h0.5M235.3 387.2h0.5M239.7 393.5h0.5M238.9 381.2h0.5M238.8 386.4h0.5M234.0 397.8h0.5M244.6 392.8h0.5M239.0 391.3h0.5M234.4 390.3h0.5M247.7 386.2h0.5M234.0 391.3h0.5M242.3 394.6h0.5M232.3 389.9h0.5M236.1 384.5h0.5M237.9 388.2h0.5M242.4 392.6h0.5M233.3 390.9h0.5M235.6 387.4h0.5M234.9 395.7h0.5M235.3 382.2h0.5M233.4 394.4h0.5M249.0 385.4h0.5M235.6 388.9h0.5M230.0 392.5h0.5M237.2 391.9h0.5M249.5 389.2h0.5M241.7 394.6h0.5M234.1 387.6h0.5M245.8 394.0h0.5M238.3 385.2h0.5M242.2 393.1h0.5M249.3 397.7h0.5M241.8 391.8h0.5M237.8 387.8h0.5M239.2 391.7h0.5M241.0 395.8h0.5M239.2 387.9h0.5M241.8 398.0h0.5M233.0 392.5h0.5M240.4 393.1h0.5M240.2 390.1h0.5M237.0 398.7h0.5M246.8 383.7h0.5M233.9 388.0h0.5M229.0 392.2h0.5M237.2 387.9h0.5M242.3 402.3h0.5M245.4 396.2h0.5M235.3 393.7h0.5M237.3 396.1h0.5M240.6 390.3h0.5M240.5 387.0h0.5M241.7 397.8h0.5M235.6 393.2h0.5M228.6 395.1h0.5M242.2 385.5h0.5M246.8 391.1h0.5M228.3 383.9h0.5M242.2 389.2h0.5M243.4 383.0h0.5M237.0 395.2h0.5M233.9 393.8h0.5M235.6 392.2h0.5M239.2 401.3h0.5M230.9 394.3h0.5M244.5 385.0h0.5M237.9 401.7h0.5M236.2 382.2h0.5M239.1 387.0h0.5M234.5 386.4h0.5M239.1 388.2h0.5M232.7 389.4h0.5M239.7 386.3h0.5M243.4 382.4h0.5M239.7 388.6h0.5M245.9 387.4h0.5M234.0 384.0h0.5M248.1 393.5h0.5M231.7 388.9h0.5M232.4 397.9h0.5M239.7 380.6h0.5M238.6 394.9h0.5M237.5 392.8h0.5M236.9 391.5h0.5M238.6 387.1h0.5M239.4 391.3h0.5M237.3 387.2h0.5M232.1 391.7h0.5M241.9 378.8h0.5M234.6 397.1h0.5M242.4 387.0h0.5M244.7 385.7h0.5M233.3 399.9h0.5M235.2 389.4h0.5M228.7 385.6h0.5M231.2 389.8h0.5M227.7 395.7h0.5M235.6 387.6h0.5M234.1 394.1h0.5M245.7 388.5h0.5M246.1 398.3h0.5M244.7 392.0h0.5M229.5 393.8h0.5M235.3 391.4h0.5M227.4 389.1h0.5M238.7 385.9h0.5M239.1 398.6h0.5M238.7 387.2h0.5M232.6 392.5h0.5M234.3 379.3h0.5M238.9 394.5h0.5M233.2 397.6h0.5M240.2 396.3h0.5M229.3 390.5h0.5M246.1 400.3h0.5M244.6 390.5h0.5M238.5 387.4h0.5M243.4 387.1h0.5M238.2 380.4h0.5M229.4 399.2h0.5M237.8 391.5h0.5M225.7 390.3h0.5M248.6 383.2h0.5M234.7 389.5h0.5M230.8 383.9h0.5M230.9 393.6h0.5M237.2 394.5h0.5M231.7 393.4h0.5M235.1 390.9h0.5M242.5 390.7h0.5M235.6 382.4h0.5M237.8 394.3h0.5M234.1 390.2h0.5M228.0 384.0h0.5M239.7 396.8h0.5M235.8 382.3h0.5" stroke="#000" stroke-width="0.5" stroke-opacity="0.4" fill="none"/>
<path d="M36.8 386.8C36.8 387.7,35.3 389.1,34.5 390.5C33.7 391.9,32.8 394.3,31.8 395.5C30.8 396.7,29.4 397.8,28.5 397.6C27.6 397.4,26.7 395.8,26.3 394.5C25.9 393.2,26.0 391.4,26.3 390.0C26.6 388.6,27.2 386.9,28.0 386.0C28.8 385.1,29.9 384.9,31.0 384.8C32.1 384.7,33.5 384.8,34.5 385.1C35.5 385.4,36.8 385.9,36.8 386.8Z" fill="#fff" fill-opacity="0.85" stroke="#222" stroke-width="0.6"/>
<ellipse cx="29.70" cy="391.80" rx="1.30" ry="4.00" transform="rotate(12 29.70 391.80)" fill="#fff" stroke="#222" stroke-width="0.5"/>
<path d="M93.0 386.0C93.3 384.5,94.0 383.3,95.0 382.5C96.0 381.7,97.5 381.5,99.0 381.4C100.5 381.3,102.7 381.5,104.0 382.0C105.3 382.5,106.5 383.4,106.6 384.5C106.7 385.6,105.7 387.2,104.6 388.5C103.5 389.8,101.4 391.1,100.0 392.2C98.6 393.3,97.1 395.1,96.0 395.0C94.9 394.9,93.9 393.0,93.4 391.5C92.9 390.0,92.7 387.5,93.0 386.0Z" fill="#fff" fill-opacity="0.8" stroke="#222" stroke-width="0.6"/>
<path d="M95.5 386.0C95.8 385.2,96.6 384.2,97.5 383.8C98.4 383.4,100.0 383.5,101.0 383.7C102.0 383.9,103.5 384.2,103.6 385.0C103.7 385.8,102.5 387.5,101.6 388.3C100.7 389.1,99.0 389.7,98.0 389.7C97.0 389.7,96.2 389.1,95.8 388.5C95.4 387.9,95.2 386.8,95.5 386.0Z" fill="none" stroke="#222" stroke-width="0.5"/>
<ellipse cx="98.00" cy="386.20" rx="1.40" ry="1.00" transform="rotate(0 98.00 386.20)" fill="none" stroke="#222" stroke-width="0.5"/>
<ellipse cx="166.90" cy="386.30" rx="4.60" ry="3.90" transform="rotate(-20 166.90 386.30)" fill="#fff" stroke="#111" stroke-width="1.0"/>
<ellipse cx="236.30" cy="385.90" rx="5.20" ry="1.60" transform="rotate(-5 236.30 385.90)" fill="#fff" stroke="#111" stroke-width="0.8"/>
<path d="M229.2 385.0C229.4 383.9,231.5 382.6,233.0 382.0C234.5 381.4,236.3 381.6,238.0 381.6C239.7 381.6,241.5 381.8,243.0 382.0C244.5 382.2,246.6 382.1,246.8 383.0C247.1 383.9,246.0 386.5,244.5 387.5C243.0 388.5,240.1 389.0,238.0 389.2C235.9 389.4,233.5 389.5,232.0 388.8C230.5 388.1,229.0 386.1,229.2 385.0Z" fill="none" stroke="#333" stroke-width="0.4"/>
<text x="15.0" y="406.8" font-size="8.2" fill="#231f20" stroke="#231f20" stroke-width="0.12" text-anchor="middle" textLength="18.5" lengthAdjust="spacingAndGlyphs" transform="rotate(-90 15.0 406.8)">CD34</text>
<text x="25" y="448.2" font-size="7.9" fill="#231f20" stroke="#231f20" stroke-width="0.12" textLength="18.8" lengthAdjust="spacingAndGlyphs">CD43</text>
<line x1="51" y1="444.6" x2="281" y2="444.6" stroke="#231f20" stroke-width="0.9"/>
<path d="M287.5 444.6 L279 442 L281 444.6 L279 447.2 Z" fill="#111"/>
<text x="52.5" y="369.6" font-size="6.4" fill="#231f20" stroke="#231f20" stroke-width="0.12" text-anchor="middle">WT</text>
<text x="120" y="370.2" font-size="6.4" fill="#231f20" stroke="#231f20" stroke-width="0.12" text-anchor="middle" textLength="44.5" lengthAdjust="spacingAndGlyphs">DKC1_A353V_LP</text>
<text x="187.8" y="362.6" font-size="6.4" fill="#231f20" stroke="#231f20" stroke-width="0.12" text-anchor="middle" textLength="32" lengthAdjust="spacingAndGlyphs">DKC1_A353V</text>
<text x="188.6" y="370.6" font-size="6.4" fill="#231f20" stroke="#231f20" stroke-width="0.12" text-anchor="middle" textLength="38" lengthAdjust="spacingAndGlyphs">shEXOSC3_LP</text>
<text x="255.6" y="362.6" font-size="6.4" fill="#231f20" stroke="#231f20" stroke-width="0.12" text-anchor="middle" textLength="34.2" lengthAdjust="spacingAndGlyphs">DKC1_A353V</text>
<text x="256.1" y="370.6" font-size="6.4" fill="#231f20" stroke="#231f20" stroke-width="0.12" text-anchor="middle" textLength="33" lengthAdjust="spacingAndGlyphs">shPAPD5_LP</text>
<rect x="20.40" y="536.90" width="62.90" height="62.50" fill="none" stroke="#3b3b3b" stroke-width="1.1"/>
<rect x="52.30" y="572.40" width="18.20" height="27.00" fill="none" stroke="#444" stroke-width="0.8"/>
<rect x="20.40" y="614.20" width="62.90" height="62.50" fill="none" stroke="#3b3b3b" stroke-width="1.1"/>
<line x1="39.9" y1="614.2" x2="39.9" y2="676.7" stroke="#333" stroke-width="0.8"/>
<line x1="20.4" y1="656.6" x2="83.3" y2="656.6" stroke="#333" stroke-width="0.8"/>
<rect x="87.70" y="536.90" width="63.40" height="62.50" fill="none" stroke="#3b3b3b" stroke-width="1.1"/>
<rect x="120.30" y="572.40" width="18.20" height="27.00" fill="none" stroke="#444" stroke-width="0.8"/>
<rect x="87.70" y="614.20" width="63.40" height="62.50" fill="none" stroke="#3b3b3b" stroke-width="1.1"/>
<line x1="107.2" y1="614.2" x2="107.2" y2="676.7" stroke="#333" stroke-width="0.8"/>
<line x1="87.7" y1="656.6" x2="151.1" y2="656.6" stroke="#333" stroke-width="0.8"/>
<rect x="155.60" y="536.90" width="63.10" height="62.50" fill="none" stroke="#3b3b3b" stroke-width="1.1"/>
<rect x="188.30" y="572.40" width="18.20" height="27.00" fill="none" stroke="#444" stroke-width="0.8"/>
<rect x="155.60" y="614.20" width="63.10" height="62.50" fill="none" stroke="#3b3b3b" stroke-width="1.1"/>
<line x1="175.1" y1="614.2" x2="175.1" y2="676.7" stroke="#333" stroke-width="0.8"/>
<line x1="155.6" y1="656.6" x2="218.7" y2="656.6" stroke="#333" stroke-width="0.8"/>
<rect x="223.60" y="536.90" width="63.10" height="62.50" fill="none" stroke="#3b3b3b" stroke-width="1.1"/>
<rect x="255.30" y="572.40" width="18.20" height="27.00" fill="none" stroke="#444" stroke-width="0.8"/>
<rect x="223.60" y="614.20" width="63.10" height="62.50" fill="none" stroke="#3b3b3b" stroke-width="1.1"/>
<line x1="243.1" y1="614.2" x2="243.1" y2="676.7" stroke="#333" stroke-width="0.8"/>
<line x1="223.6" y1="656.6" x2="286.7" y2="656.6" stroke="#333" stroke-width="0.8"/>
<defs><filter id="bl3" x="-80%" y="-80%" width="260%" height="260%"><feGaussianBlur stdDeviation="2.6"/></filter><filter id="bl15" x="-60%" y="-60%" width="220%" height="220%"><feGaussianBlur stdDeviation="1.3"/></filter></defs>
<ellipse cx="60.00" cy="586.00" rx="9.00" ry="7.50" transform="rotate(-35 60.00 586.00)" fill="#000" opacity="0.35" filter="url(#bl3)"/>
<ellipse cx="63.00" cy="571.00" rx="3.50" ry="7.00" transform="rotate(10 63.00 571.00)" fill="#000" opacity="0.22" filter="url(#bl3)"/>
<ellipse cx="45.00" cy="591.00" rx="9.00" ry="3.50" transform="rotate(0 45.00 591.00)" fill="#000" opacity="0.12" filter="url(#bl3)"/>
<path d="M54.6 584.4h0.55M65.1 593.2h0.55M61.1 585.4h0.55M63.1 581.9h0.55M62.3 586.2h0.55M57.8 581.4h0.55M65.6 586.5h0.55M44.4 589.0h0.55M61.6 594.5h0.55M62.6 588.7h0.55M65.1 587.1h0.55M56.5 588.0h0.55M63.6 587.1h0.55M63.6 585.6h0.55M62.0 591.9h0.55M65.3 587.9h0.55M52.3 597.4h0.55M58.4 590.0h0.55M57.9 588.1h0.55M62.2 587.1h0.55M50.2 583.5h0.55M59.3 591.6h0.55M58.7 591.5h0.55M56.4 586.0h0.55M69.6 586.7h0.55M60.0 587.3h0.55M60.1 579.6h0.55M60.7 593.5h0.55M62.3 582.1h0.55M58.7 591.1h0.55M53.9 591.4h0.55M52.4 581.4h0.55M64.9 586.6h0.55M60.2 578.9h0.55M53.4 590.0h0.55M61.8 597.7h0.55M56.0 590.1h0.55M62.6 587.4h0.55M62.6 578.2h0.55M64.1 583.8h0.55M56.7 592.1h0.55M60.2 597.0h0.55M60.8 592.6h0.55M63.4 580.1h0.55M57.6 591.0h0.55M59.3 593.6h0.55M58.9 584.3h0.55M60.1 591.7h0.55M60.2 597.4h0.55M57.1 589.7h0.55M61.9 595.1h0.55M67.4 587.1h0.55M63.2 584.6h0.55M68.7 581.9h0.55M63.8 586.8h0.55M64.0 584.7h0.55M55.2 583.4h0.55M64.2 575.2h0.55M50.5 593.9h0.55M71.2 582.4h0.55M59.1 590.2h0.55M54.5 581.8h0.55M60.1 589.1h0.55M61.2 579.0h0.55M47.6 592.0h0.55M62.0 585.9h0.55M61.5 586.8h0.55M55.1 584.8h0.55M63.3 586.2h0.55M66.3 588.0h0.55M49.0 585.8h0.55M58.3 591.8h0.55M62.6 589.0h0.55M70.8 572.5h0.55M58.1 586.1h0.55M62.9 587.4h0.55M60.8 594.5h0.55M66.0 583.5h0.55M59.4 586.8h0.55M56.4 595.5h0.55M55.4 589.6h0.55M61.4 580.5h0.55M61.1 591.4h0.55M65.3 577.6h0.55M62.6 580.7h0.55M63.4 586.7h0.55M59.4 594.4h0.55M67.3 579.8h0.55M58.0 582.8h0.55M67.3 579.9h0.55M58.1 594.3h0.55M53.1 591.1h0.55M66.7 576.3h0.55M56.4 588.1h0.55M60.1 590.8h0.55M62.9 578.3h0.55M56.8 580.4h0.55M65.8 580.5h0.55M62.5 594.0h0.55M64.2 591.1h0.55M69.4 587.0h0.55M57.7 590.4h0.55M61.3 585.0h0.55M64.0 578.9h0.55M68.2 586.6h0.55M50.4 592.4h0.55M55.6 589.2h0.55M61.4 584.9h0.55M59.4 585.4h0.55M61.6 588.6h0.55M60.9 581.9h0.55M57.8 585.4h0.55M55.6 583.9h0.55M66.0 584.9h0.55M58.0 585.7h0.55M56.8 587.1h0.55M59.7 597.7h0.55M69.0 570.3h0.55M57.9 593.3h0.55M58.1 580.3h0.55M55.0 596.3h0.55M58.9 589.3h0.55M58.8 585.5h0.55M59.1 586.8h0.55M64.8 581.7h0.55M58.8 585.7h0.55M56.0 587.6h0.55M66.0 591.9h0.55M65.3 583.1h0.55M69.7 582.9h0.55M60.8 585.7h0.55M57.2 592.2h0.55M54.6 584.0h0.55M61.5 597.4h0.55M62.8 587.5h0.55M59.9 584.9h0.55M65.4 588.0h0.55M60.9 589.6h0.55M62.8 581.5h0.55M58.9 584.3h0.55M61.6 583.5h0.55M62.4 580.3h0.55M65.8 579.3h0.55M54.7 588.0h0.55M60.4 582.0h0.55M71.0 583.1h0.55M58.2 581.1h0.55M58.3 585.2h0.55M55.1 595.5h0.55M67.0 576.6h0.55M67.3 587.1h0.55M56.0 590.0h0.55M62.9 587.2h0.55M56.9 592.3h0.55M62.9 590.0h0.55M52.9 592.0h0.55M57.7 588.2h0.55M61.3 582.4h0.55M68.5 573.9h0.55M66.6 586.3h0.55M63.4 582.5h0.55M56.7 589.7h0.55M63.3 584.6h0.55M64.3 586.2h0.55M54.5 588.1h0.55M64.4 579.8h0.55M60.2 598.5h0.55M54.7 587.9h0.55M60.7 580.0h0.55M60.4 593.4h0.55M64.9 597.1h0.55M68.8 593.8h0.55M61.1 586.6h0.55M57.5 589.0h0.55M58.6 589.0h0.55M59.6 580.4h0.55M50.9 585.1h0.55M65.8 580.7h0.55M60.3 586.9h0.55M65.2 583.8h0.55M63.1 583.1h0.55M59.9 587.3h0.55M56.9 597.5h0.55M51.7 590.8h0.55M63.1 584.4h0.55M68.6 588.2h0.55M71.5 583.1h0.55M65.8 593.4h0.55M57.0 590.4h0.55M63.5 582.4h0.55M59.0 586.5h0.55M58.2 574.8h0.55M68.3 584.6h0.55M61.9 588.8h0.55M60.2 593.9h0.55M69.0 572.0h0.55M65.5 581.1h0.55M57.8 587.1h0.55M56.1 584.4h0.55M60.4 597.0h0.55M62.1 588.6h0.55M63.1 587.0h0.55M52.1 590.7h0.55M65.8 587.1h0.55M54.6 590.1h0.55M58.5 593.1h0.55M61.9 585.7h0.55M59.1 590.6h0.55M58.4 584.9h0.55M59.8 583.9h0.55M65.9 584.8h0.55M59.7 591.4h0.55M58.6 584.8h0.55M52.2 586.3h0.55M57.4 592.5h0.55M63.1 580.4h0.55M62.1 587.3h0.55M64.7 585.0h0.55M67.3 584.0h0.55M58.9 591.2h0.55M51.3 596.1h0.55M62.3 588.5h0.55M61.9 590.5h0.55M62.9 579.4h0.55M59.3 589.9h0.55M62.7 585.4h0.55M60.0 580.4h0.55M66.8 587.0h0.55M65.9 583.6h0.55M60.8 589.0h0.55M55.5 583.1h0.55M58.2 589.4h0.55M55.8 586.6h0.55M58.5 587.0h0.55M60.6 586.6h0.55M64.1 589.0h0.55M62.2 587.5h0.55M47.2 584.1h0.55M61.0 590.4h0.55M57.4 586.7h0.55M58.6 594.5h0.55M59.3 589.8h0.55M66.3 583.8h0.55M68.4 577.5h0.55M66.1 584.9h0.55M58.2 589.8h0.55M55.4 586.6h0.55M59.3 583.7h0.55M64.5 578.2h0.55M58.8 589.5h0.55M58.8 589.3h0.55M54.0 585.7h0.55M47.8 593.4h0.55M67.4 582.0h0.55M59.7 585.1h0.55M60.9 588.4h0.55M53.0 590.5h0.55M61.0 594.0h0.55M60.1 594.5h0.55M66.9 596.2h0.55M60.3 587.4h0.55M68.1 583.8h0.55M60.8 580.3h0.55M69.7 586.9h0.55M58.7 586.1h0.55M59.5 594.2h0.55M61.6 585.8h0.55M60.8 596.4h0.55M63.7 583.4h0.55M63.1 578.4h0.55M60.8 580.7h0.55M64.9 580.5h0.55M63.8 580.9h0.55M65.4 588.4h0.55M57.5 590.9h0.55M59.9 592.7h0.55M57.2 588.5h0.55M63.2 590.9h0.55M56.6 591.2h0.55M57.7 586.9h0.55M57.1 589.8h0.55M56.6 582.1h0.55M57.8 582.9h0.55M67.3 593.0h0.55M56.7 590.8h0.55M62.5 590.7h0.55M53.4 584.2h0.55M55.1 594.1h0.55M64.6 588.8h0.55M60.5 591.0h0.55M60.4 594.8h0.55M58.2 585.5h0.55M66.3 590.9h0.55M53.7 587.1h0.55M53.3 588.1h0.55M61.4 588.1h0.55M60.5 588.2h0.55M64.0 581.4h0.55M49.1 586.0h0.55M59.4 584.2h0.55M60.8 589.1h0.55M57.5 580.9h0.55M57.2 591.1h0.55M63.4 590.7h0.55M52.5 583.5h0.55M59.9 577.8h0.55M58.1 592.0h0.55M64.0 598.0h0.55M63.0 587.5h0.55M65.5 594.7h0.55M60.4 582.9h0.55M60.1 577.4h0.55M59.2 590.2h0.55M58.2 583.9h0.55M70.7 584.5h0.55M58.2 591.8h0.55M56.9 588.4h0.55M64.5 583.3h0.55M60.4 587.7h0.55M59.8 595.1h0.55M61.6 593.6h0.55M57.5 587.7h0.55M66.5 581.4h0.55M56.6 588.2h0.55M68.3 589.5h0.55M61.6 583.4h0.55M54.4 589.8h0.55M60.8 588.1h0.55M61.9 593.1h0.55M54.9 589.0h0.55M63.8 586.3h0.55M61.9 591.2h0.55M60.2 597.1h0.55M74.4 583.3h0.55M66.8 591.8h0.55M64.6 590.3h0.55M60.3 588.3h0.55M57.2 580.2h0.55M64.8 592.4h0.55M64.9 584.1h0.55M65.3 589.9h0.55M56.1 580.6h0.55M56.1 590.1h0.55M59.7 585.2h0.55M65.1 591.9h0.55M65.7 584.8h0.55M60.7 587.1h0.55M62.6 586.2h0.55M60.2 592.0h0.55M57.3 590.3h0.55M63.2 564.4h0.55M64.9 571.9h0.55M59.6 570.9h0.55M57.3 580.5h0.55M62.3 585.0h0.55M60.5 576.2h0.55M61.1 566.1h0.55M62.3 574.6h0.55M66.0 570.8h0.55M65.2 578.7h0.55M60.6 570.4h0.55M58.4 582.4h0.55M60.4 577.4h0.55M66.0 570.9h0.55M61.2 573.9h0.55M62.1 563.5h0.55M59.8 573.7h0.55M61.6 583.3h0.55M57.1 574.3h0.55M58.3 578.8h0.55M64.9 573.2h0.55M67.8 570.4h0.55M62.6 565.0h0.55M60.9 572.4h0.55M63.5 580.5h0.55M63.0 567.2h0.55M62.5 569.1h0.55M62.1 569.2h0.55M60.5 571.2h0.55M61.7 570.7h0.55M58.8 572.2h0.55M64.0 576.4h0.55M62.7 564.5h0.55M60.5 563.9h0.55M61.5 569.7h0.55M57.0 575.3h0.55M59.3 566.8h0.55M60.0 576.9h0.55M68.8 570.7h0.55M62.6 569.4h0.55M62.6 570.8h0.55M71.4 566.4h0.55M63.6 566.9h0.55M64.6 568.9h0.55M65.9 565.4h0.55M68.9 574.4h0.55M57.0 575.5h0.55M62.9 564.4h0.55M64.9 568.9h0.55M65.8 568.9h0.55M65.5 573.4h0.55M63.9 573.2h0.55M62.3 569.5h0.55M63.5 576.7h0.55M59.3 585.9h0.55M69.2 565.6h0.55M66.3 572.1h0.55M64.6 567.1h0.55M68.7 567.6h0.55M63.6 567.4h0.55M67.2 580.9h0.55M59.6 568.5h0.55M64.5 569.5h0.55M63.2 565.0h0.55M64.9 565.2h0.55M62.8 587.6h0.55M60.2 582.2h0.55M64.8 568.0h0.55M63.1 565.8h0.55M62.6 576.5h0.55M66.0 570.7h0.55M59.6 570.9h0.55M67.6 574.6h0.55M65.1 558.9h0.55M61.1 575.2h0.55M58.7 580.0h0.55M62.3 566.2h0.55M61.4 571.1h0.55M66.5 569.0h0.55M57.9 570.6h0.55M62.8 582.0h0.55M58.1 580.8h0.55M64.5 575.2h0.55M61.7 566.1h0.55M59.2 577.4h0.55M62.5 578.8h0.55M68.3 573.1h0.55M60.7 584.0h0.55M59.7 568.5h0.55M62.3 569.5h0.55M64.3 566.8h0.55M67.9 564.1h0.55M62.5 561.0h0.55M58.3 575.0h0.55M65.0 571.1h0.55M64.8 576.3h0.55M61.4 571.5h0.55M61.8 584.8h0.55M61.3 574.1h0.55M63.2 579.9h0.55M63.0 579.0h0.55M60.2 569.8h0.55M57.4 570.7h0.55M69.5 574.7h0.55M63.0 573.7h0.55M64.9 563.8h0.55M61.2 570.6h0.55M64.4 566.7h0.55M63.5 567.4h0.55M59.9 567.2h0.55M59.7 576.9h0.55M66.2 576.3h0.55M63.0 568.4h0.55M59.0 567.9h0.55M66.3 580.1h0.55M63.9 570.6h0.55M62.5 574.7h0.55M62.5 574.7h0.55M60.7 571.9h0.55M60.8 578.6h0.55M58.0 579.5h0.55M63.3 568.9h0.55M62.9 572.8h0.55M61.9 574.6h0.55M63.2 561.2h0.55M65.0 572.2h0.55M67.4 575.3h0.55M55.8 578.8h0.55M60.4 575.1h0.55M68.2 580.0h0.55M59.9 570.9h0.55M57.6 575.4h0.55M65.8 565.9h0.55M63.3 578.1h0.55M66.1 568.3h0.55M62.2 564.7h0.55M58.9 573.4h0.55M61.7 580.2h0.55M64.1 570.2h0.55M57.2 581.0h0.55M63.5 571.9h0.55M61.2 565.0h0.55M65.9 566.3h0.55M64.0 576.3h0.55M63.7 561.8h0.55M62.6 581.0h0.55M62.0 563.8h0.55M66.0 573.5h0.55M59.8 579.4h0.55M61.7 574.7h0.55M62.6 567.2h0.55M64.6 566.8h0.55M58.4 567.8h0.55M65.4 579.5h0.55M68.2 579.3h0.55M67.4 574.4h0.55M61.2 574.7h0.55M59.4 576.1h0.55M61.4 573.4h0.55M60.7 570.8h0.55M66.1 571.2h0.55M60.7 573.5h0.55M65.7 571.4h0.55M61.3 561.8h0.55M57.9 578.0h0.55M62.2 575.0h0.55M65.8 574.4h0.55M64.9 569.2h0.55M57.6 575.1h0.55M62.1 575.6h0.55M60.1 570.6h0.55M69.7 567.9h0.55M61.8 580.2h0.55M62.2 572.7h0.55M56.0 575.8h0.55M60.3 579.8h0.55M63.1 569.7h0.55M64.5 570.8h0.55M59.8 581.4h0.55M65.7 573.3h0.55M64.4 577.6h0.55M64.6 572.7h0.55M62.8 574.6h0.55M64.2 574.6h0.55M61.5 571.3h0.55M65.4 566.2h0.55M62.1 576.7h0.55M63.8 570.4h0.55M63.4 569.1h0.55M66.2 570.3h0.55M59.5 563.8h0.55M63.6 573.5h0.55M63.0 563.8h0.55M63.5 566.8h0.55M61.1 571.7h0.55M60.4 573.6h0.55M61.3 568.9h0.55M60.7 581.0h0.55M66.5 578.7h0.55M60.8 571.7h0.55M36.4 593.0h0.55M32.4 590.9h0.55M33.8 592.9h0.55M36.0 589.7h0.55M38.4 590.3h0.55M38.8 590.6h0.55M34.9 595.8h0.55M34.2 589.9h0.55M37.3 590.9h0.55M35.7 587.9h0.55M37.8 593.5h0.55M35.6 592.8h0.55M34.2 589.9h0.55M32.5 592.0h0.55M36.9 593.2h0.55M36.4 592.8h0.55M33.6 587.8h0.55M36.0 591.5h0.55M36.5 590.4h0.55M33.6 592.1h0.55M34.1 587.0h0.55M34.0 588.9h0.55M33.3 589.7h0.55M36.5 596.9h0.55M37.7 590.0h0.55M36.8 590.9h0.55M35.6 589.4h0.55M34.9 586.9h0.55M37.8 589.1h0.55M35.9 589.6h0.55M35.4 588.1h0.55M34.4 593.3h0.55M35.9 586.2h0.55M36.3 587.8h0.55M35.4 592.3h0.55M34.0 590.3h0.55M34.6 592.0h0.55M36.4 594.4h0.55M35.5 596.0h0.55M33.5 595.4h0.55M34.6 592.9h0.55M34.8 591.2h0.55M33.6 592.0h0.55M38.2 591.4h0.55M35.0 591.1h0.55M36.1 590.5h0.55M35.0 591.6h0.55M37.0 593.4h0.55M33.4 589.5h0.55M35.0 593.1h0.55M36.5 590.5h0.55M38.3 590.6h0.55M37.2 594.6h0.55M37.5 591.5h0.55M35.9 587.3h0.55M32.2 589.5h0.55M36.1 593.7h0.55M34.8 593.6h0.55M35.9 594.8h0.55M32.5 589.0h0.55M33.5 588.5h0.55M37.6 588.8h0.55M33.7 590.1h0.55M36.4 589.9h0.55M36.2 592.4h0.55M34.0 585.2h0.55M33.6 588.0h0.55M37.6 589.3h0.55M33.3 592.0h0.55M35.1 588.7h0.55M36.7 593.3h0.55M35.4 589.2h0.55M33.6 586.0h0.55M35.6 592.0h0.55M33.6 591.1h0.55M40.1 588.3h0.55M32.3 592.5h0.55M34.3 589.8h0.55M36.0 590.7h0.55M36.6 592.3h0.55M37.3 589.7h0.55M44.0 597.3h0.55M44.0 595.6h0.55M50.3 591.4h0.55M41.0 586.9h0.55M45.4 588.3h0.55M48.0 590.1h0.55M42.5 591.7h0.55M53.9 585.2h0.55M42.7 582.2h0.55M38.6 582.9h0.55M44.2 595.4h0.55M48.9 597.5h0.55M51.2 591.4h0.55M46.9 582.2h0.55M43.5 586.2h0.55M47.6 583.0h0.55M46.2 588.0h0.55M45.4 588.5h0.55M38.7 593.7h0.55M50.6 591.6h0.55M39.0 591.6h0.55M51.8 597.8h0.55M49.9 582.7h0.55M51.9 592.6h0.55M41.7 596.7h0.55M51.0 596.3h0.55M41.2 591.2h0.55M43.4 586.7h0.55M49.9 591.9h0.55M42.6 590.7h0.55M52.8 591.1h0.55M52.5 591.1h0.55M53.9 582.5h0.55M44.8 590.8h0.55M49.4 597.5h0.55M47.6 589.6h0.55M47.8 590.5h0.55M49.0 597.2h0.55M37.2 587.1h0.55M51.9 583.0h0.55M50.4 582.5h0.55M48.0 594.8h0.55M41.0 588.1h0.55M40.8 593.3h0.55M46.0 591.7h0.55M42.5 591.4h0.55M53.2 594.5h0.55M53.2 586.0h0.55M45.8 588.2h0.55M42.9 594.9h0.55M40.0 590.9h0.55M50.2 597.0h0.55M37.3 586.3h0.55M45.4 597.0h0.55M39.8 595.5h0.55M43.8 590.8h0.55M52.8 583.0h0.55M42.6 584.5h0.55M39.3 586.9h0.55M48.9 591.3h0.55M39.1 594.8h0.55M45.6 584.3h0.55M50.9 595.1h0.55M40.7 597.0h0.55M50.8 585.7h0.55M37.0 595.9h0.55M51.0 583.6h0.55M50.0 594.4h0.55M47.8 595.3h0.55M53.7 587.2h0.55M51.2 596.7h0.55M42.3 592.9h0.55M48.6 595.6h0.55M46.6 586.4h0.55M41.3 590.7h0.55M39.3 595.8h0.55M52.1 585.9h0.55M48.9 592.8h0.55M39.1 594.5h0.55M50.0 586.9h0.55M38.7 586.5h0.55M50.1 589.5h0.55M50.9 584.6h0.55M38.8 587.6h0.55M52.0 584.6h0.55M38.2 594.0h0.55M38.6 592.7h0.55M38.4 585.9h0.55M48.3 596.0h0.55" stroke="#000" stroke-width="0.55" stroke-opacity="0.5" fill="none"/>
<ellipse cx="60.60" cy="586.80" rx="7.60" ry="4.80" transform="rotate(-48 60.60 586.80)" fill="#000" opacity="0.97" filter="url(#bl15)"/>
<ellipse cx="35.00" cy="591.50" rx="1.60" ry="2.80" transform="rotate(0 35.00 591.50)" fill="#000" opacity="0.6" filter="url(#bl05)"/>
<ellipse cx="128.30" cy="588.00" rx="4.50" ry="4.00" transform="rotate(0 128.30 588.00)" fill="#000" opacity="0.25" filter="url(#bl15)"/>
<path d="M125.9 589.5h0.55M130.6 588.5h0.55M128.5 592.6h0.55M127.3 583.6h0.55M124.3 587.2h0.55M130.1 589.8h0.55M127.7 590.0h0.55M128.2 586.2h0.55M127.3 589.9h0.55M130.7 585.2h0.55M125.8 588.3h0.55M133.7 585.1h0.55M125.1 589.0h0.55M129.6 586.5h0.55M128.2 589.2h0.55M123.9 587.9h0.55M129.8 590.3h0.55M131.3 587.8h0.55M124.6 591.3h0.55M130.3 586.4h0.55M130.9 590.6h0.55M127.9 582.1h0.55M127.1 586.1h0.55M126.2 587.8h0.55M125.5 589.0h0.55M133.1 585.0h0.55M131.0 586.7h0.55M129.7 587.7h0.55M131.6 586.2h0.55M130.2 586.1h0.55M128.9 588.0h0.55M131.1 584.1h0.55M124.9 591.5h0.55M129.3 592.2h0.55M125.7 588.5h0.55M129.8 592.4h0.55M128.2 586.9h0.55M130.1 587.7h0.55M126.4 589.9h0.55M123.5 585.5h0.55M131.8 586.8h0.55M127.5 588.9h0.55M131.2 589.3h0.55M125.8 586.6h0.55M131.0 587.7h0.55M126.7 590.2h0.55M131.2 593.4h0.55M125.6 586.2h0.55M126.5 588.9h0.55M127.1 590.8h0.55M121.5 590.4h0.55M126.7 587.3h0.55M129.7 588.5h0.55M125.7 591.7h0.55M129.8 586.8h0.55M128.8 585.2h0.55M125.2 587.3h0.55M129.2 588.3h0.55M126.3 584.5h0.55M124.0 592.0h0.55M129.2 586.0h0.55M131.3 589.3h0.55M127.3 586.5h0.55M131.2 588.8h0.55M132.5 588.9h0.55M126.8 586.5h0.55M126.5 588.6h0.55M128.9 589.5h0.55M129.4 585.4h0.55M127.8 585.7h0.55M129.5 584.7h0.55M126.8 585.9h0.55M126.7 587.4h0.55M132.1 587.4h0.55M124.7 587.2h0.55M130.2 589.4h0.55M128.9 593.0h0.55M131.1 588.2h0.55M131.4 584.7h0.55M127.9 585.8h0.55M128.8 592.0h0.55M127.0 592.0h0.55M125.7 591.6h0.55M124.0 585.9h0.55M130.8 587.8h0.55M128.7 588.0h0.55M128.8 587.6h0.55M125.8 587.3h0.55M128.6 585.8h0.55M129.5 592.4h0.55M124.2 586.6h0.55M127.6 588.0h0.55M128.5 586.2h0.55M128.2 588.0h0.55M128.1 591.8h0.55M128.6 584.3h0.55M124.3 589.5h0.55M127.4 586.5h0.55M124.9 587.2h0.55M128.1 586.3h0.55M105.6 589.8h0.55M101.7 589.8h0.55M113.1 592.4h0.55M103.1 594.0h0.55M102.1 594.3h0.55M102.7 587.1h0.55M104.5 591.7h0.55M104.9 595.7h0.55M116.9 589.1h0.55M113.5 593.7h0.55M110.1 588.8h0.55M117.1 596.5h0.55M100.2 589.6h0.55M105.8 588.2h0.55M107.7 595.9h0.55M100.4 595.2h0.55M105.6 586.1h0.55M116.2 589.0h0.55" stroke="#000" stroke-width="0.55" stroke-opacity="0.45" fill="none"/>
<ellipse cx="128.30" cy="588.00" rx="2.00" ry="1.70" transform="rotate(-30 128.30 588.00)" fill="#000" opacity="0.6" filter="url(#bl05)"/>
<ellipse cx="196.50" cy="588.00" rx="9.00" ry="8.00" transform="rotate(-30 196.50 588.00)" fill="#000" opacity="0.3" filter="url(#bl3)"/>
<path d="M197.9 589.4h0.55M195.9 590.1h0.55M199.1 589.6h0.55M191.7 588.4h0.55M197.2 592.9h0.55M194.3 582.0h0.55M195.4 597.2h0.55M195.3 583.0h0.55M193.3 590.5h0.55M205.0 590.3h0.55M194.5 587.8h0.55M201.9 580.5h0.55M203.1 585.7h0.55M199.3 592.1h0.55M196.7 584.2h0.55M190.8 591.4h0.55M201.1 591.4h0.55M189.2 598.2h0.55M201.8 591.7h0.55M199.9 587.0h0.55M198.9 588.4h0.55M193.9 589.0h0.55M196.1 586.2h0.55M188.2 586.4h0.55M199.4 588.6h0.55M194.7 583.9h0.55M199.0 584.8h0.55M191.7 597.7h0.55M195.2 598.8h0.55M197.7 585.4h0.55M186.3 590.8h0.55M204.7 589.3h0.55M194.2 581.7h0.55M194.5 587.9h0.55M198.0 586.6h0.55M194.7 581.8h0.55M196.8 594.2h0.55M192.8 594.3h0.55M206.5 585.1h0.55M193.6 595.2h0.55M190.1 593.2h0.55M197.3 593.0h0.55M201.3 586.1h0.55M205.2 587.4h0.55M192.8 585.8h0.55M205.0 581.3h0.55M197.8 586.7h0.55M191.6 583.7h0.55M195.7 587.9h0.55M199.2 584.1h0.55M188.5 587.8h0.55M196.8 588.9h0.55M198.5 585.1h0.55M198.8 587.3h0.55M202.8 584.1h0.55M198.1 589.6h0.55M199.3 582.3h0.55M194.2 588.1h0.55M190.9 597.0h0.55M200.6 585.7h0.55M211.7 584.9h0.55M207.2 588.8h0.55M197.2 581.3h0.55M203.1 586.1h0.55M192.1 590.8h0.55M201.3 589.6h0.55M196.2 585.9h0.55M197.9 583.8h0.55M197.7 590.7h0.55M191.8 592.4h0.55M187.3 589.2h0.55M191.7 590.4h0.55M199.1 586.3h0.55M200.1 586.3h0.55M196.7 590.1h0.55M195.9 589.0h0.55M199.3 583.8h0.55M198.7 581.8h0.55M192.3 582.7h0.55M197.6 594.5h0.55M200.3 591.5h0.55M189.0 587.8h0.55M199.9 589.7h0.55M196.4 580.6h0.55M198.3 586.6h0.55M197.9 589.3h0.55M192.2 583.0h0.55M189.7 585.5h0.55M191.3 590.4h0.55M200.1 582.8h0.55M191.4 585.8h0.55M190.1 592.0h0.55M194.2 588.3h0.55M193.8 591.7h0.55M193.0 592.5h0.55M195.5 592.1h0.55M194.0 591.4h0.55M198.0 586.8h0.55M203.0 585.0h0.55M194.5 592.3h0.55M192.3 588.0h0.55M196.9 588.6h0.55M199.6 578.4h0.55M197.7 592.3h0.55M196.5 589.4h0.55M199.9 580.5h0.55M198.2 590.6h0.55M190.9 583.4h0.55M193.1 590.8h0.55M200.8 593.7h0.55M198.6 579.9h0.55M202.2 588.8h0.55M202.4 583.9h0.55M194.7 589.7h0.55M203.6 586.7h0.55M204.5 586.9h0.55M192.3 585.9h0.55M200.6 578.9h0.55M194.6 587.7h0.55M191.9 588.1h0.55M201.1 595.9h0.55M195.2 586.4h0.55M198.8 590.9h0.55M192.6 588.4h0.55M191.2 594.2h0.55M202.0 591.5h0.55M196.2 597.9h0.55M199.3 585.2h0.55M194.4 587.8h0.55M193.4 593.2h0.55M192.8 586.9h0.55M198.7 587.2h0.55M193.8 588.5h0.55M197.2 593.6h0.55M198.9 583.4h0.55M199.0 592.7h0.55M198.9 594.6h0.55M199.5 589.3h0.55M190.3 595.4h0.55M198.9 589.2h0.55M199.3 588.7h0.55M196.3 592.1h0.55M194.7 584.3h0.55M192.9 590.8h0.55M193.5 579.9h0.55M190.7 596.1h0.55M202.0 597.6h0.55M190.2 590.5h0.55M195.3 591.2h0.55M205.0 590.3h0.55M195.1 594.4h0.55M192.5 591.7h0.55M198.4 589.7h0.55M196.1 594.2h0.55M196.2 588.1h0.55M193.4 585.0h0.55M199.9 587.5h0.55M201.8 593.3h0.55M192.7 589.0h0.55M198.2 590.9h0.55M197.6 591.5h0.55M194.8 581.1h0.55M190.0 582.7h0.55M194.6 587.2h0.55M199.1 587.3h0.55M198.7 592.4h0.55M196.4 582.6h0.55M194.5 590.6h0.55M202.6 583.6h0.55M196.4 589.3h0.55M199.3 586.0h0.55M196.8 585.9h0.55M192.9 586.5h0.55M197.9 584.7h0.55M199.4 588.2h0.55M195.0 576.8h0.55M190.5 586.0h0.55M197.4 591.1h0.55M209.1 587.6h0.55M202.4 586.3h0.55M196.1 590.7h0.55M190.0 595.9h0.55M197.7 590.1h0.55M190.5 586.6h0.55M194.0 589.3h0.55M197.1 586.0h0.55M199.2 589.5h0.55M191.9 590.2h0.55M189.5 589.6h0.55M198.6 583.6h0.55M204.6 585.6h0.55M200.1 586.4h0.55M201.9 589.8h0.55M195.9 586.0h0.55M198.2 595.7h0.55M194.9 586.9h0.55M190.5 583.9h0.55M195.2 590.2h0.55M193.2 586.5h0.55M199.0 588.6h0.55M195.4 590.0h0.55M194.5 593.0h0.55M192.1 589.0h0.55M196.2 586.3h0.55M196.2 597.6h0.55M198.9 578.8h0.55M194.5 583.5h0.55M195.2 582.9h0.55M199.7 588.5h0.55M205.4 588.3h0.55M196.6 592.2h0.55M194.5 588.6h0.55M191.2 583.2h0.55M194.8 579.8h0.55M196.6 590.3h0.55M193.9 582.4h0.55M195.4 591.7h0.55M203.8 591.0h0.55M190.5 593.5h0.55M196.2 591.6h0.55M189.8 591.2h0.55M197.9 584.3h0.55M193.2 585.5h0.55M198.2 581.1h0.55M192.4 588.9h0.55M199.4 595.8h0.55M195.9 584.6h0.55M199.4 587.9h0.55M197.4 587.2h0.55M196.0 583.0h0.55M191.1 589.2h0.55M193.7 592.8h0.55M206.3 587.9h0.55M198.9 588.2h0.55M191.4 585.1h0.55M195.7 581.8h0.55M197.4 586.9h0.55M199.5 586.5h0.55M195.8 585.8h0.55M189.3 590.6h0.55M201.2 590.0h0.55M199.8 581.6h0.55M194.3 592.4h0.55M199.8 597.7h0.55M194.7 582.2h0.55M197.4 594.5h0.55M189.8 592.5h0.55M194.3 596.4h0.55M192.8 585.5h0.55M188.6 589.4h0.55M185.8 592.0h0.55M205.0 583.5h0.55M193.2 584.7h0.55M196.9 585.7h0.55M196.0 594.5h0.55M196.4 584.0h0.55M202.0 584.6h0.55M198.7 587.4h0.55M202.2 587.5h0.55M196.6 591.2h0.55M169.6 591.3h0.55M171.6 588.6h0.55M169.0 590.1h0.55M169.5 593.9h0.55M168.4 596.1h0.55M171.5 590.0h0.55M170.2 590.2h0.55M170.7 592.5h0.55M170.7 592.7h0.55M171.9 590.6h0.55M170.7 590.6h0.55M170.0 591.5h0.55M169.9 591.8h0.55M169.2 590.7h0.55M169.4 588.4h0.55M169.3 589.9h0.55M169.9 587.5h0.55M169.7 588.5h0.55M169.2 591.4h0.55M171.1 591.6h0.55M169.5 590.0h0.55M171.3 587.4h0.55M171.1 587.6h0.55M169.4 591.1h0.55M169.8 594.7h0.55M170.5 590.9h0.55M170.9 591.1h0.55M169.2 593.5h0.55M171.5 593.9h0.55M168.9 595.3h0.55M169.6 592.7h0.55M171.2 596.3h0.55M168.4 588.7h0.55M171.2 592.1h0.55M169.7 584.4h0.55M212.5 563.9h0.55M189.9 598.0h0.55M196.4 596.4h0.55M185.1 561.0h0.55M212.8 570.0h0.55M197.4 573.7h0.55M198.1 595.5h0.55M212.9 593.3h0.55M185.3 591.2h0.55M175.7 575.8h0.55M212.8 569.7h0.55M189.7 582.1h0.55M184.5 586.9h0.55M201.1 563.6h0.55M211.8 562.7h0.55M202.9 573.2h0.55M180.7 563.0h0.55M214.9 590.4h0.55M193.4 590.2h0.55M213.8 595.2h0.55M196.3 570.4h0.55M195.7 597.3h0.55M204.2 585.5h0.55M208.7 575.5h0.55M197.4 592.3h0.55M183.0 592.6h0.55M176.0 580.4h0.55M198.0 565.6h0.55M211.9 576.7h0.55M182.4 575.6h0.55" stroke="#000" stroke-width="0.55" stroke-opacity="0.5" fill="none"/>
<ellipse cx="196.50" cy="588.00" rx="6.60" ry="5.60" transform="rotate(-30 196.50 588.00)" fill="#000" opacity="0.97" filter="url(#bl15)"/>
<ellipse cx="170.00" cy="591.00" rx="1.40" ry="2.80" transform="rotate(0 170.00 591.00)" fill="#000" opacity="0.8" filter="url(#bl05)"/>
<ellipse cx="261.00" cy="588.00" rx="10.00" ry="7.50" transform="rotate(-25 261.00 588.00)" fill="#000" opacity="0.3" filter="url(#bl3)"/>
<ellipse cx="245.00" cy="590.00" rx="9.00" ry="3.20" transform="rotate(-5 245.00 590.00)" fill="#000" opacity="0.35" filter="url(#bl15)"/>
<path d="M257.0 587.9h0.55M264.0 587.1h0.55M260.6 586.5h0.55M264.6 594.4h0.55M265.5 579.7h0.55M262.4 588.2h0.55M260.0 583.3h0.55M261.7 588.8h0.55M259.5 590.5h0.55M248.8 588.0h0.55M263.1 589.1h0.55M260.5 586.8h0.55M264.5 591.3h0.55M265.9 585.9h0.55M261.6 592.5h0.55M265.8 589.9h0.55M259.4 585.7h0.55M261.8 585.5h0.55M268.5 588.5h0.55M253.3 594.8h0.55M269.6 588.7h0.55M258.5 586.1h0.55M267.9 589.4h0.55M260.5 584.0h0.55M255.6 592.1h0.55M257.3 587.4h0.55M265.6 590.6h0.55M251.8 590.0h0.55M267.7 585.2h0.55M261.5 590.9h0.55M255.0 586.2h0.55M264.6 593.2h0.55M266.5 585.9h0.55M265.9 584.5h0.55M254.1 584.8h0.55M264.6 590.5h0.55M263.6 587.1h0.55M261.9 592.5h0.55M259.5 583.2h0.55M267.1 583.0h0.55M263.7 587.2h0.55M267.1 586.6h0.55M267.8 586.2h0.55M259.2 587.2h0.55M263.6 583.9h0.55M265.8 585.3h0.55M256.5 587.0h0.55M264.1 594.3h0.55M265.5 586.5h0.55M261.0 596.3h0.55M260.8 588.6h0.55M262.2 593.4h0.55M262.1 586.1h0.55M261.3 584.2h0.55M257.1 589.6h0.55M251.0 597.9h0.55M269.1 580.1h0.55M258.9 583.0h0.55M263.1 588.4h0.55M263.2 582.0h0.55M258.3 587.1h0.55M264.5 596.2h0.55M261.0 588.3h0.55M261.0 591.7h0.55M275.2 586.6h0.55M267.1 581.2h0.55M266.8 585.9h0.55M269.2 589.0h0.55M262.3 581.0h0.55M261.8 586.0h0.55M264.1 587.2h0.55M264.1 580.4h0.55M258.6 589.3h0.55M262.8 586.0h0.55M262.0 588.2h0.55M266.5 585.4h0.55M260.2 581.4h0.55M248.0 588.5h0.55M260.0 579.5h0.55M263.7 586.8h0.55M260.9 585.5h0.55M261.4 591.7h0.55M263.6 587.2h0.55M260.2 589.7h0.55M267.3 585.5h0.55M258.5 584.8h0.55M261.0 584.7h0.55M257.0 593.9h0.55M256.0 582.4h0.55M261.7 595.7h0.55M259.4 583.7h0.55M258.2 592.7h0.55M264.2 587.9h0.55M261.9 590.0h0.55M269.6 586.4h0.55M259.1 583.6h0.55M266.5 592.4h0.55M262.9 582.4h0.55M264.9 592.0h0.55M259.9 591.0h0.55M270.0 591.0h0.55M252.1 585.4h0.55M264.8 589.6h0.55M260.4 588.7h0.55M262.1 592.9h0.55M252.5 593.5h0.55M255.2 588.4h0.55M253.7 588.1h0.55M261.9 588.1h0.55M269.6 583.5h0.55M264.1 588.5h0.55M265.5 592.4h0.55M262.9 588.2h0.55M261.5 588.2h0.55M263.3 591.5h0.55M262.2 588.2h0.55M263.0 590.7h0.55M261.4 592.2h0.55M260.5 591.5h0.55M270.9 584.8h0.55M259.7 584.2h0.55M265.3 586.5h0.55M265.0 583.9h0.55M267.2 593.0h0.55M263.3 586.1h0.55M256.2 590.7h0.55M265.9 588.7h0.55M255.4 586.8h0.55M256.0 586.6h0.55M261.2 589.5h0.55M270.9 584.7h0.55M265.9 579.4h0.55M270.2 587.5h0.55M265.3 589.9h0.55M267.8 593.2h0.55M262.8 580.4h0.55M256.7 597.1h0.55M263.7 592.7h0.55M259.4 586.5h0.55M261.0 589.8h0.55M261.9 585.5h0.55M265.4 589.0h0.55M256.1 586.1h0.55M252.7 591.0h0.55M260.9 585.6h0.55M259.1 588.8h0.55M263.0 589.9h0.55M266.4 587.8h0.55M265.5 582.4h0.55M265.3 588.0h0.55M256.3 587.9h0.55M264.1 587.3h0.55M255.5 588.7h0.55M270.2 587.7h0.55M264.5 592.4h0.55M257.7 589.3h0.55M265.8 584.9h0.55M257.9 592.3h0.55M265.1 576.0h0.55M260.7 583.4h0.55M258.4 583.8h0.55M272.6 580.3h0.55M261.1 585.5h0.55M256.8 588.5h0.55M265.7 593.5h0.55M265.8 592.7h0.55M257.3 590.5h0.55M257.6 583.6h0.55M278.3 579.4h0.55M261.9 584.9h0.55M257.8 585.7h0.55M266.0 584.5h0.55M261.6 588.9h0.55M256.9 591.4h0.55M261.9 589.9h0.55M260.3 588.9h0.55M265.9 590.2h0.55M260.5 592.7h0.55M257.3 589.4h0.55M262.8 588.2h0.55M249.3 589.9h0.55M262.6 591.5h0.55M261.2 594.6h0.55M254.1 592.0h0.55M264.4 586.9h0.55M264.7 590.6h0.55M259.3 591.7h0.55M266.4 585.0h0.55M249.7 588.8h0.55M256.5 586.2h0.55M262.7 584.4h0.55M274.0 584.8h0.55M255.7 589.8h0.55M269.9 587.1h0.55M259.1 593.7h0.55M263.4 596.5h0.55M260.5 591.2h0.55M263.8 585.3h0.55M263.2 592.3h0.55M264.1 586.8h0.55M266.8 593.0h0.55M266.9 587.7h0.55M261.0 582.0h0.55M261.8 586.1h0.55M264.3 584.4h0.55M262.3 583.5h0.55M264.9 583.7h0.55M262.8 590.0h0.55M260.6 588.7h0.55M269.6 591.8h0.55M252.5 588.7h0.55M266.5 589.8h0.55M260.0 589.3h0.55M264.7 596.2h0.55M259.2 584.4h0.55M253.0 586.9h0.55M267.2 584.0h0.55M271.7 586.1h0.55M264.7 589.4h0.55M267.0 589.5h0.55M256.7 588.1h0.55M259.7 589.5h0.55M258.9 584.3h0.55M261.7 595.5h0.55M270.1 580.7h0.55M263.6 587.1h0.55M259.3 592.2h0.55M264.3 593.8h0.55M263.6 586.0h0.55M250.0 593.2h0.55M264.7 583.8h0.55M267.0 588.5h0.55M253.8 591.0h0.55M264.6 589.9h0.55M262.7 587.6h0.55M260.0 587.7h0.55M260.3 584.4h0.55M264.4 585.6h0.55M263.5 585.2h0.55M264.0 587.6h0.55M266.7 587.7h0.55M265.9 585.5h0.55M261.3 587.2h0.55M256.2 590.2h0.55M268.1 588.3h0.55M258.7 590.8h0.55M263.2 581.8h0.55M264.1 588.4h0.55M265.8 587.3h0.55M251.0 584.8h0.55M270.3 582.5h0.55M269.7 589.6h0.55M260.6 583.9h0.55M268.1 585.0h0.55M265.1 588.5h0.55M267.9 589.5h0.55M253.4 586.2h0.55M262.6 587.7h0.55M265.3 585.9h0.55M264.4 595.3h0.55M254.0 592.2h0.55M251.5 587.4h0.55M244.4 589.9h0.55M237.8 588.4h0.55M245.8 586.8h0.55M248.6 590.9h0.55M243.4 589.3h0.55M249.0 590.9h0.55M247.1 586.7h0.55M235.1 596.1h0.55M240.7 589.4h0.55M233.1 589.0h0.55M240.5 592.4h0.55M227.8 587.9h0.55M242.3 589.0h0.55M239.9 589.3h0.55M235.0 591.6h0.55M252.7 589.7h0.55M241.9 593.5h0.55M247.9 587.1h0.55M241.2 588.8h0.55M245.0 593.1h0.55M240.5 590.0h0.55M245.5 586.9h0.55M242.1 591.8h0.55M251.8 584.6h0.55M249.5 588.9h0.55M253.4 590.9h0.55M257.7 589.7h0.55M242.3 588.1h0.55M236.0 592.2h0.55M248.5 591.8h0.55M246.9 586.0h0.55M242.3 589.6h0.55M246.2 591.9h0.55M254.1 589.9h0.55M231.6 588.6h0.55M231.2 589.3h0.55M237.4 591.3h0.55M243.8 593.0h0.55M251.8 588.2h0.55M251.1 589.5h0.55M248.2 593.2h0.55M237.6 590.5h0.55M254.7 587.2h0.55M246.4 590.2h0.55M242.1 586.9h0.55M240.4 587.9h0.55M252.0 590.0h0.55M249.2 586.6h0.55M248.2 590.1h0.55M251.6 587.6h0.55M250.5 593.0h0.55M256.3 586.6h0.55M237.5 586.9h0.55M251.3 591.0h0.55M247.0 587.6h0.55M253.4 593.4h0.55M244.8 589.7h0.55M252.7 590.6h0.55M253.5 588.2h0.55M247.1 589.0h0.55M241.3 589.6h0.55M243.3 591.4h0.55M243.1 590.3h0.55M239.6 587.3h0.55M253.9 586.7h0.55M256.8 591.4h0.55M230.2 589.7h0.55M242.3 590.3h0.55M243.7 588.6h0.55M253.0 589.0h0.55M251.0 587.7h0.55M240.9 593.8h0.55M243.0 587.4h0.55M244.2 592.8h0.55M243.8 588.3h0.55M249.3 592.1h0.55M243.6 589.3h0.55M243.3 597.1h0.55M244.2 594.5h0.55M244.2 591.1h0.55M232.0 591.6h0.55M245.3 589.2h0.55M242.1 586.8h0.55M235.5 591.3h0.55M240.9 590.1h0.55M243.7 588.8h0.55M240.8 595.1h0.55M237.8 589.3h0.55M242.9 587.2h0.55M239.1 592.7h0.55M251.0 589.8h0.55M265.9 590.3h0.55M252.7 587.2h0.55M252.3 593.7h0.55M243.0 594.8h0.55M239.6 587.6h0.55M244.5 588.0h0.55M248.8 586.8h0.55M245.1 585.0h0.55M245.0 592.7h0.55M243.4 590.9h0.55M251.7 586.6h0.55M236.9 590.9h0.55M246.7 589.2h0.55M239.1 593.6h0.55M237.5 590.0h0.55M244.9 591.9h0.55M242.0 588.2h0.55M257.7 586.7h0.55M250.1 589.2h0.55M242.0 590.2h0.55M243.5 590.9h0.55M228.8 591.4h0.55M245.3 587.5h0.55M243.1 596.1h0.55M257.0 590.6h0.55M246.4 589.1h0.55M253.8 588.1h0.55M239.9 592.2h0.55M238.7 588.5h0.55M253.9 585.1h0.55M244.6 590.3h0.55M246.4 586.2h0.55M243.5 589.3h0.55M257.5 591.5h0.55M240.4 592.6h0.55M249.2 589.3h0.55M243.4 589.4h0.55M235.0 589.3h0.55M251.3 593.1h0.55M256.8 588.0h0.55M248.4 583.6h0.55M243.0 587.0h0.55M249.9 585.3h0.55M238.1 587.8h0.55M247.7 591.9h0.55M239.6 595.1h0.55M245.9 587.8h0.55M247.3 589.8h0.55M250.4 590.4h0.55M259.3 591.7h0.55M241.1 592.3h0.55M249.7 587.0h0.55M240.1 588.4h0.55M229.4 593.0h0.55M243.9 593.2h0.55M241.5 590.5h0.55M249.9 592.0h0.55M246.8 587.2h0.55M259.3 591.0h0.55M254.1 593.3h0.55M254.1 590.3h0.55M248.2 591.3h0.55M235.6 592.9h0.55M238.9 591.6h0.55M238.7 592.4h0.55M242.5 596.6h0.55M246.4 591.2h0.55M239.2 589.8h0.55M244.6 589.3h0.55M242.1 588.0h0.55M249.8 588.6h0.55M239.9 591.4h0.55M239.8 590.0h0.55M241.6 587.9h0.55M243.4 588.0h0.55M237.1 591.6h0.55M242.8 586.5h0.55M242.6 590.7h0.55M247.9 590.7h0.55M246.8 591.4h0.55M241.7 588.3h0.55M248.9 588.6h0.55M245.3 591.6h0.55M251.3 592.6h0.55M240.6 589.4h0.55M248.3 586.1h0.55M237.1 592.2h0.55M240.9 588.0h0.55M250.3 590.9h0.55M250.8 588.7h0.55M243.1 589.3h0.55M246.5 584.7h0.55M240.8 592.2h0.55M240.1 590.3h0.55M246.0 591.2h0.55M241.8 587.4h0.55M260.8 586.8h0.55M255.6 584.6h0.55M245.7 589.4h0.55M257.6 594.1h0.55M251.1 586.9h0.55M239.8 588.5h0.55M241.8 590.9h0.55M240.0 589.8h0.55M254.8 592.8h0.55M233.0 588.6h0.55M243.0 593.5h0.55M243.8 594.1h0.55M240.5 589.9h0.55M257.7 582.5h0.55M234.0 586.2h0.55M256.2 593.8h0.55M240.2 579.3h0.55M245.3 593.5h0.55M241.6 589.6h0.55M231.6 576.9h0.55M265.4 586.4h0.55M235.6 585.9h0.55M277.0 584.0h0.55M257.9 584.7h0.55M255.3 576.0h0.55M274.1 588.3h0.55M247.4 581.5h0.55M239.4 596.5h0.55M272.0 583.7h0.55M260.2 587.7h0.55M240.0 575.8h0.55M266.8 578.7h0.55M258.2 575.4h0.55M231.1 578.8h0.55M262.7 589.1h0.55M279.6 590.2h0.55M256.1 575.3h0.55M277.9 586.2h0.55M272.9 576.0h0.55M271.8 585.9h0.55M240.8 584.3h0.55" stroke="#000" stroke-width="0.55" stroke-opacity="0.5" fill="none"/>
<ellipse cx="262.50" cy="588.00" rx="7.20" ry="5.40" transform="rotate(-25 262.50 588.00)" fill="#000" opacity="0.97" filter="url(#bl15)"/>
<ellipse cx="239.00" cy="590.50" rx="3.00" ry="3.20" transform="rotate(0 239.00 590.50)" fill="#000" opacity="0.6" filter="url(#bl1)"/>
<rect x="67.13" y="593.60" width="14.67" height="4.60" fill="#fff"/>
<text x="81.2" y="597.8" font-size="4.6" fill="#2a2a2a" stroke="#2a2a2a" stroke-width="0.12" text-anchor="end" textLength="13.79" lengthAdjust="spacingAndGlyphs">20,058</text>
<rect x="140.83" y="593.60" width="8.27" height="4.60" fill="#fff"/>
<text x="148.5" y="597.8" font-size="4.6" fill="#2a2a2a" stroke="#2a2a2a" stroke-width="0.12" text-anchor="end" textLength="7.52" lengthAdjust="spacingAndGlyphs">465</text>
<rect x="204.99" y="593.60" width="12.11" height="4.60" fill="#fff"/>
<text x="216.5" y="597.8" font-size="4.6" fill="#2a2a2a" stroke="#2a2a2a" stroke-width="0.12" text-anchor="end" textLength="11.28" lengthAdjust="spacingAndGlyphs">7,021</text>
<rect x="270.43" y="593.60" width="14.67" height="4.60" fill="#fff"/>
<text x="284.5" y="597.8" font-size="4.6" fill="#2a2a2a" stroke="#2a2a2a" stroke-width="0.12" text-anchor="end" textLength="13.79" lengthAdjust="spacingAndGlyphs">33,457</text>
<ellipse cx="46.00" cy="645.00" rx="22.00" ry="17.00" transform="rotate(-20 46.00 645.00)" fill="#000" opacity="0.17" filter="url(#bl3)"/>
<ellipse cx="49.00" cy="640.00" rx="10.00" ry="7.50" transform="rotate(-30 49.00 640.00)" fill="#000" opacity="0.55" filter="url(#bl3)"/>
<path d="M68.1 637.5h0.55M64.8 642.9h0.55M66.7 641.5h0.55M53.3 635.2h0.55M64.8 634.7h0.55M57.5 634.4h0.55M67.0 629.8h0.55M59.6 631.6h0.55M63.4 646.4h0.55M72.9 630.8h0.55M58.2 645.6h0.55M54.1 631.9h0.55M61.3 632.4h0.55M55.2 644.4h0.55M55.8 634.5h0.55M61.7 636.2h0.55M67.0 635.5h0.55M70.9 638.8h0.55M71.9 638.3h0.55M62.2 639.3h0.55M59.0 631.1h0.55M56.1 642.4h0.55M47.7 638.5h0.55M54.4 639.4h0.55M56.1 640.2h0.55M59.4 635.8h0.55M53.5 630.1h0.55M59.6 632.1h0.55M60.1 639.3h0.55M67.5 638.1h0.55M66.7 628.9h0.55M66.8 642.2h0.55M61.5 632.2h0.55M62.4 634.5h0.55M59.3 642.7h0.55M58.6 633.2h0.55M60.4 646.3h0.55M57.7 641.5h0.55M63.7 641.5h0.55M58.3 634.1h0.55M56.3 634.4h0.55M74.7 633.2h0.55M61.2 642.8h0.55M64.2 635.3h0.55M64.7 637.2h0.55M69.2 641.7h0.55M59.4 637.7h0.55M61.9 642.4h0.55M64.2 639.6h0.55M64.8 633.1h0.55M63.7 642.5h0.55M67.0 638.7h0.55M59.1 636.4h0.55M56.3 637.8h0.55M58.7 631.8h0.55M66.0 632.1h0.55M63.2 639.2h0.55M55.7 631.2h0.55M66.6 637.1h0.55M61.4 642.2h0.55M64.3 631.9h0.55M58.2 630.5h0.55M61.8 643.3h0.55M58.0 642.1h0.55M52.9 638.9h0.55M68.4 642.3h0.55M64.5 639.4h0.55M66.4 624.5h0.55M55.0 647.9h0.55M74.6 635.0h0.55M61.8 638.2h0.55M60.4 634.8h0.55M60.8 636.8h0.55M65.5 638.7h0.55M67.0 637.8h0.55M58.1 644.6h0.55M47.5 642.7h0.55M62.0 634.6h0.55M69.1 629.5h0.55M54.4 637.5h0.55M64.4 639.6h0.55M62.6 639.7h0.55M56.6 636.2h0.55M59.8 631.8h0.55M61.5 635.4h0.55M63.2 632.0h0.55M57.6 636.0h0.55M57.8 634.0h0.55M57.8 632.5h0.55M64.8 638.9h0.55M60.7 636.6h0.55M55.2 635.2h0.55M58.7 634.1h0.55M55.3 640.1h0.55M60.4 635.7h0.55M56.9 638.6h0.55M56.9 636.9h0.55M63.1 639.8h0.55M64.1 633.5h0.55M65.6 630.5h0.55M62.1 642.7h0.55M73.4 633.4h0.55M58.7 636.5h0.55M54.7 639.0h0.55M57.8 635.1h0.55M66.1 632.0h0.55M70.9 637.4h0.55M63.5 633.8h0.55M55.6 630.4h0.55M62.1 635.7h0.55M62.1 633.9h0.55M61.4 630.5h0.55M50.6 643.2h0.55M62.1 622.9h0.55M67.1 633.5h0.55M58.1 631.5h0.55M57.0 641.9h0.55M57.3 638.5h0.55M63.1 645.4h0.55M63.7 630.5h0.55M57.0 633.7h0.55M53.0 637.2h0.55M66.8 635.4h0.55M64.3 635.5h0.55M59.1 638.4h0.55M63.4 645.0h0.55M70.8 635.4h0.55M61.3 628.4h0.55M63.9 646.9h0.55M58.2 642.0h0.55M66.7 633.5h0.55M59.3 635.9h0.55M65.2 635.9h0.55M70.4 639.2h0.55M64.7 647.5h0.55M58.6 635.5h0.55M58.6 634.3h0.55M58.8 637.8h0.55M63.3 629.4h0.55M52.9 636.8h0.55M60.2 639.6h0.55M59.2 644.7h0.55M58.1 637.4h0.55M63.0 641.8h0.55M62.6 636.8h0.55M58.6 639.0h0.55M62.6 635.2h0.55M58.3 630.1h0.55M60.1 642.9h0.55M68.2 634.4h0.55M52.7 648.5h0.55M63.9 647.7h0.55M60.4 642.0h0.55M59.9 643.8h0.55M65.4 631.0h0.55M71.7 646.1h0.55M58.2 632.9h0.55M61.9 635.2h0.55M52.0 635.9h0.55M60.1 630.8h0.55M67.2 637.1h0.55M62.2 643.1h0.55M57.4 641.7h0.55M53.7 638.5h0.55M63.5 634.0h0.55M61.4 640.1h0.55M70.7 639.6h0.55M63.0 635.4h0.55M56.2 646.7h0.55M67.5 625.3h0.55M65.4 635.5h0.55M65.1 637.2h0.55M60.1 637.6h0.55M62.5 641.9h0.55M59.0 635.6h0.55M65.3 638.6h0.55M63.7 637.6h0.55M70.1 639.0h0.55M61.8 636.1h0.55M61.7 628.7h0.55M57.4 635.5h0.55M61.4 635.5h0.55M74.6 635.6h0.55M66.3 645.4h0.55M60.6 636.0h0.55M68.5 638.3h0.55M67.5 640.3h0.55M58.3 635.3h0.55M57.6 639.0h0.55M64.6 631.3h0.55M56.4 633.0h0.55M72.3 636.8h0.55M60.4 632.1h0.55M54.9 636.6h0.55M59.4 632.2h0.55M61.7 642.5h0.55M61.3 637.6h0.55M50.1 640.1h0.55M59.3 634.8h0.55M53.9 639.6h0.55M55.1 637.0h0.55M52.8 639.9h0.55M64.4 632.3h0.55M60.5 630.7h0.55M64.8 638.4h0.55M60.4 641.5h0.55M56.7 639.1h0.55M69.5 634.1h0.55M57.0 643.9h0.55M63.4 635.2h0.55M49.1 633.2h0.55M55.5 645.9h0.55M61.3 633.4h0.55M69.0 641.0h0.55M57.5 640.7h0.55M53.3 641.8h0.55M68.2 628.4h0.55M60.4 634.7h0.55M60.7 637.8h0.55M63.7 640.3h0.55M65.1 640.5h0.55M67.8 639.8h0.55M58.2 640.1h0.55M57.9 634.6h0.55M71.4 634.8h0.55M58.2 628.9h0.55M61.0 640.8h0.55M59.2 635.5h0.55M68.0 633.3h0.55M59.2 637.5h0.55M61.4 641.9h0.55M63.8 636.0h0.55M58.9 637.1h0.55M69.1 633.0h0.55M62.1 629.8h0.55M63.7 639.4h0.55M67.9 636.2h0.55M64.4 637.5h0.55M69.4 643.4h0.55M60.9 633.7h0.55M63.9 635.8h0.55M65.4 639.2h0.55M61.2 635.3h0.55M60.8 631.8h0.55M61.2 633.3h0.55M63.5 636.9h0.55M58.2 632.9h0.55M60.3 634.5h0.55M61.3 640.3h0.55M64.0 630.4h0.55M67.7 641.0h0.55M67.1 636.3h0.55M63.1 644.3h0.55M57.2 631.8h0.55M61.9 638.3h0.55M54.1 634.4h0.55M71.2 634.1h0.55M64.1 633.5h0.55M53.2 639.4h0.55M66.8 632.2h0.55M36.7 645.9h0.55M47.3 641.1h0.55M41.2 642.4h0.55M48.0 646.5h0.55M52.6 643.8h0.55M42.5 629.3h0.55M37.7 650.2h0.55M57.4 641.0h0.55M43.4 631.2h0.55M47.0 643.9h0.55M57.2 632.9h0.55M43.1 638.2h0.55M58.4 640.5h0.55M40.5 653.1h0.55M38.7 636.0h0.55M36.4 642.4h0.55M71.9 644.0h0.55M38.9 641.3h0.55M51.3 641.5h0.55M41.3 633.7h0.55M44.4 638.1h0.55M37.6 647.5h0.55M34.3 636.8h0.55M61.9 638.9h0.55M59.0 635.0h0.55M46.1 641.1h0.55M42.2 648.9h0.55M50.0 637.4h0.55M36.4 646.5h0.55M64.1 641.1h0.55M53.9 634.8h0.55M51.6 642.2h0.55M53.4 644.5h0.55M37.9 630.7h0.55M30.3 644.6h0.55M41.9 648.6h0.55M56.2 635.8h0.55M52.9 638.3h0.55M48.9 636.9h0.55M49.9 647.5h0.55M47.2 640.8h0.55M59.9 640.4h0.55M47.2 642.7h0.55M42.8 644.5h0.55M51.2 638.7h0.55M51.2 641.2h0.55M29.9 645.5h0.55M48.1 637.2h0.55M42.0 642.4h0.55M59.1 632.6h0.55M43.4 640.0h0.55M42.6 647.0h0.55M45.2 648.4h0.55M56.8 639.4h0.55M55.7 635.5h0.55M37.2 646.4h0.55M48.8 629.7h0.55M44.2 650.2h0.55M55.9 645.1h0.55M53.7 637.7h0.55M54.4 642.6h0.55M48.3 639.0h0.55M50.2 637.2h0.55M62.8 626.8h0.55M35.2 639.2h0.55M54.9 633.9h0.55M49.5 638.3h0.55M46.7 631.5h0.55M48.0 636.7h0.55M58.1 638.9h0.55M37.9 639.9h0.55M56.4 643.8h0.55M53.7 636.2h0.55M49.6 623.7h0.55M42.7 637.1h0.55M43.9 646.8h0.55M51.8 640.3h0.55M50.0 643.6h0.55M52.6 634.0h0.55M52.6 631.6h0.55M57.0 626.5h0.55M44.0 635.6h0.55M53.2 646.5h0.55M49.3 651.9h0.55M59.6 636.5h0.55M47.8 646.8h0.55M27.8 647.1h0.55M55.4 636.0h0.55M63.7 626.9h0.55M39.6 644.0h0.55M58.0 646.4h0.55M37.8 647.6h0.55M55.6 631.6h0.55M42.5 635.5h0.55M56.7 641.2h0.55M53.8 638.9h0.55M55.4 635.5h0.55M56.3 641.3h0.55M59.3 637.5h0.55M51.7 643.2h0.55M33.5 637.0h0.55M60.3 634.4h0.55M40.3 641.1h0.55M48.3 640.9h0.55M46.9 648.0h0.55M45.9 660.8h0.55M46.7 652.6h0.55M48.6 628.8h0.55M41.0 645.0h0.55M49.7 636.7h0.55M49.7 640.7h0.55M41.6 644.7h0.55M62.5 627.8h0.55M44.2 647.3h0.55M61.2 640.0h0.55M44.6 642.0h0.55M49.8 638.1h0.55M55.0 643.9h0.55M52.8 637.8h0.55M53.0 649.9h0.55M46.7 655.0h0.55M54.3 637.5h0.55M49.5 652.2h0.55M60.0 639.9h0.55M57.9 622.6h0.55M48.9 638.0h0.55M44.4 643.2h0.55M54.3 640.5h0.55M44.2 633.7h0.55M54.7 640.9h0.55M66.2 636.4h0.55M45.8 634.0h0.55M65.6 625.8h0.55M52.6 643.0h0.55M56.4 644.8h0.55M40.0 640.5h0.55M46.6 633.0h0.55M49.0 649.4h0.55M50.8 638.3h0.55M45.4 642.4h0.55M45.7 634.6h0.55M50.7 630.3h0.55M56.8 633.2h0.55M28.9 641.0h0.55M48.5 634.4h0.55M65.5 639.9h0.55M66.1 636.2h0.55M56.5 631.5h0.55M56.7 632.6h0.55M44.7 633.1h0.55M50.7 641.8h0.55M45.4 634.5h0.55M58.0 641.1h0.55M50.8 644.3h0.55M52.9 631.0h0.55M43.3 630.5h0.55M43.3 646.2h0.55M44.2 645.4h0.55M45.4 627.9h0.55M50.3 649.7h0.55M49.6 640.5h0.55M39.5 634.5h0.55M46.7 661.1h0.55M45.2 636.2h0.55M44.1 629.5h0.55M63.8 643.2h0.55M44.9 644.6h0.55M45.4 648.0h0.55M42.9 642.6h0.55M59.7 637.5h0.55M42.3 633.4h0.55M41.7 652.5h0.55M52.8 638.2h0.55M58.2 635.7h0.55M43.8 642.3h0.55M48.4 640.3h0.55M68.0 633.0h0.55M50.2 637.6h0.55M41.4 637.5h0.55M34.7 645.1h0.55M33.1 636.4h0.55M36.5 633.2h0.55M62.3 640.9h0.55M48.5 654.4h0.55M46.1 624.2h0.55M46.2 634.7h0.55M36.3 645.6h0.55M58.4 637.7h0.55M37.0 642.4h0.55M47.3 648.9h0.55M45.5 635.3h0.55M36.9 633.4h0.55M45.9 648.0h0.55M36.4 648.6h0.55M50.7 644.6h0.55M43.9 649.3h0.55M66.7 645.6h0.55M37.7 646.3h0.55M48.0 641.4h0.55M44.8 648.4h0.55M69.9 638.4h0.55M40.7 640.8h0.55M54.5 637.7h0.55M47.5 649.4h0.55M55.7 643.2h0.55M51.7 647.3h0.55M42.5 636.0h0.55M44.8 632.7h0.55M60.0 638.8h0.55M37.9 647.6h0.55M53.9 634.7h0.55M50.2 635.3h0.55M48.3 639.8h0.55M49.5 633.0h0.55M42.2 646.2h0.55M47.1 644.7h0.55M41.6 635.2h0.55M55.0 638.4h0.55M53.1 635.3h0.55M50.3 648.0h0.55M42.5 655.8h0.55M52.5 637.6h0.55M51.5 642.8h0.55M44.5 644.5h0.55M36.8 634.2h0.55M50.7 639.7h0.55M55.2 640.3h0.55M56.3 641.3h0.55M45.3 650.6h0.55M66.0 626.3h0.55M42.3 648.6h0.55M58.5 641.6h0.55M55.6 626.6h0.55M53.1 640.9h0.55M55.1 630.3h0.55M48.1 637.9h0.55M47.5 639.9h0.55M42.7 631.4h0.55M49.0 640.5h0.55M35.7 623.0h0.55M42.2 639.4h0.55M47.8 651.8h0.55M54.9 635.3h0.55M63.1 654.7h0.55M43.7 646.4h0.55M49.3 650.1h0.55M56.4 634.9h0.55M50.9 633.4h0.55M40.5 650.8h0.55M59.5 631.8h0.55M40.0 632.8h0.55M60.4 625.1h0.55M41.7 642.9h0.55M57.6 635.4h0.55M49.0 640.2h0.55M54.8 636.4h0.55M49.9 639.0h0.55M45.3 651.5h0.55M40.2 635.9h0.55M46.1 641.9h0.55M52.0 624.1h0.55M28.3 653.7h0.55M47.1 630.6h0.55M30.3 653.0h0.55M37.3 627.6h0.55M39.3 666.3h0.55M34.9 662.4h0.55M29.8 669.8h0.55M66.8 629.4h0.55M38.7 655.7h0.55M30.2 657.7h0.55M64.8 641.5h0.55M50.1 641.5h0.55M57.3 630.5h0.55M69.1 636.3h0.55M34.6 628.4h0.55M40.6 650.0h0.55M57.5 620.3h0.55M41.4 638.0h0.55M28.6 651.4h0.55M38.5 658.8h0.55M52.2 638.4h0.55M43.9 633.5h0.55M27.7 642.3h0.55M41.8 635.8h0.55M36.4 637.6h0.55M44.8 631.0h0.55M46.1 646.2h0.55M57.0 631.6h0.55M23.3 634.3h0.55M54.5 634.0h0.55M60.0 638.9h0.55M34.4 625.6h0.55M39.4 657.4h0.55M39.9 655.8h0.55M26.3 665.1h0.55M45.6 629.4h0.55M35.7 640.4h0.55M40.5 621.3h0.55M36.7 658.5h0.55M51.2 652.6h0.55M53.7 627.6h0.55M28.3 657.3h0.55M46.8 645.7h0.55M38.3 660.7h0.55M57.9 655.2h0.55M43.7 654.6h0.55M41.3 634.8h0.55M38.1 626.8h0.55M44.1 647.9h0.55M51.8 629.5h0.55M23.7 643.8h0.55M32.2 641.4h0.55M66.9 622.6h0.55M44.0 644.7h0.55M32.4 640.8h0.55M70.7 654.0h0.55M44.8 654.4h0.55M53.1 643.8h0.55M49.0 659.4h0.55M53.3 639.5h0.55M46.4 656.7h0.55M34.5 640.1h0.55M40.0 640.9h0.55M65.8 642.3h0.55M42.6 639.5h0.55M68.3 642.5h0.55M80.0 644.2h0.55M40.6 640.0h0.55M42.6 648.5h0.55M59.5 646.3h0.55M62.6 619.6h0.55M40.6 628.9h0.55M28.6 643.7h0.55M32.6 637.6h0.55M28.6 665.8h0.55M45.3 657.5h0.55M41.0 658.0h0.55M39.5 652.4h0.55M36.1 666.3h0.55M56.6 654.5h0.55M47.2 660.8h0.55M45.0 639.1h0.55M36.9 649.0h0.55M27.9 636.4h0.55M50.8 652.3h0.55M45.2 656.0h0.55M63.8 622.4h0.55M45.8 632.8h0.55M37.4 650.4h0.55M60.4 646.6h0.55M62.8 661.9h0.55M45.1 659.2h0.55M69.0 642.9h0.55M35.1 628.4h0.55M48.2 653.8h0.55M41.5 644.3h0.55M64.8 630.3h0.55M32.5 650.4h0.55M64.7 645.7h0.55M45.0 639.1h0.55M67.5 648.4h0.55M22.2 657.9h0.55M52.3 634.7h0.55M26.0 648.4h0.55M22.9 660.6h0.55M31.4 627.9h0.55M50.5 658.4h0.55M26.1 647.7h0.55M73.1 637.5h0.55M38.7 650.0h0.55M53.2 629.6h0.55M37.9 627.2h0.55M59.5 644.0h0.55M61.6 654.8h0.55M47.6 647.4h0.55M53.8 648.1h0.55M29.4 647.5h0.55M43.9 646.2h0.55M34.6 647.5h0.55M50.9 645.6h0.55M57.9 651.1h0.55M58.0 652.9h0.55M63.9 656.2h0.55M52.6 634.7h0.55M67.1 646.6h0.55M42.0 631.9h0.55M50.9 638.7h0.55M31.5 623.2h0.55M63.7 623.7h0.55M31.9 656.0h0.55M51.0 633.1h0.55M46.9 647.9h0.55M50.4 650.1h0.55M55.7 636.8h0.55M36.4 635.9h0.55M59.3 647.6h0.55M46.6 674.6h0.55M46.7 648.7h0.55M49.7 640.7h0.55M45.3 628.7h0.55M47.7 667.8h0.55M57.1 635.8h0.55M31.5 631.2h0.55M43.5 643.6h0.55M30.3 630.9h0.55M50.0 648.9h0.55M64.6 644.7h0.55M72.9 650.4h0.55M40.2 633.8h0.55M56.2 653.5h0.55M53.7 635.1h0.55M68.0 639.7h0.55M32.6 633.0h0.55M47.6 622.5h0.55M21.7 637.2h0.55M77.7 655.1h0.55M41.2 641.9h0.55M61.2 655.3h0.55M43.2 674.0h0.55M47.6 658.8h0.55M44.0 671.0h0.55M37.7 631.8h0.55M71.5 627.0h0.55M40.8 631.0h0.55M56.6 643.6h0.55M40.1 642.0h0.55M34.7 639.9h0.55M30.5 666.0h0.55M53.3 624.7h0.55M30.7 655.7h0.55M78.0 630.7h0.55M40.4 643.8h0.55M48.9 641.7h0.55M65.7 650.3h0.55M60.4 659.7h0.55M40.4 640.0h0.55M46.8 631.1h0.55M52.8 615.8h0.55M42.4 641.3h0.55M34.9 663.2h0.55M42.0 652.2h0.55M38.9 649.5h0.55M39.8 648.2h0.55M41.7 637.9h0.55M51.6 640.6h0.55M27.6 638.3h0.55M57.8 657.6h0.55M25.2 647.2h0.55M56.8 654.3h0.55M51.5 627.9h0.55M50.2 654.9h0.55M48.5 641.2h0.55M29.5 653.1h0.55M45.2 645.7h0.55M72.7 650.4h0.55M35.4 651.8h0.55M41.9 647.7h0.55M73.5 646.6h0.55M43.9 637.4h0.55M45.1 649.9h0.55M43.2 660.0h0.55M41.5 631.6h0.55M41.6 645.1h0.55M64.9 652.3h0.55M73.5 654.8h0.55M51.1 644.6h0.55M60.7 639.3h0.55M25.8 646.6h0.55M58.1 648.3h0.55M34.8 664.3h0.55M44.3 626.5h0.55M56.9 653.8h0.55M52.5 638.7h0.55M38.9 661.8h0.55M49.2 643.7h0.55M36.0 635.5h0.55M65.2 647.7h0.55M42.3 665.7h0.55M38.6 634.9h0.55M65.9 655.4h0.55M35.3 633.3h0.55M35.1 618.1h0.55M53.0 661.8h0.55M47.0 635.3h0.55M54.3 635.7h0.55M62.9 634.3h0.55M74.2 630.3h0.55M44.9 633.4h0.55M28.8 655.6h0.55M47.1 632.2h0.55M52.5 637.4h0.55M37.7 647.1h0.55M54.7 651.1h0.55M65.5 642.7h0.55M32.6 641.2h0.55M46.5 629.6h0.55M41.9 641.6h0.55M45.3 647.6h0.55M67.8 657.9h0.55M63.0 651.7h0.55M34.7 662.3h0.55M59.3 623.0h0.55M80.4 625.3h0.55M43.7 635.7h0.55M42.0 660.0h0.55M48.2 639.4h0.55M58.9 628.4h0.55M31.4 643.2h0.55M37.9 656.7h0.55M38.4 634.4h0.55M31.2 625.2h0.55M48.8 645.3h0.55M53.9 639.1h0.55M48.0 632.4h0.55M47.0 646.6h0.55M30.7 658.0h0.55M48.3 644.8h0.55M47.2 670.0h0.55M42.9 636.4h0.55M42.8 664.5h0.55M59.3 662.0h0.55M40.2 666.2h0.55M33.8 664.7h0.55M61.4 666.2h0.55M24.0 663.2h0.55M51.8 660.9h0.55M41.9 667.2h0.55M40.7 660.0h0.55M68.2 657.8h0.55M69.9 658.3h0.55M50.9 667.0h0.55M43.1 668.5h0.55M68.7 662.6h0.55M24.2 660.3h0.55M68.4 668.0h0.55M61.7 664.0h0.55M38.5 669.8h0.55M51.7 674.0h0.55M29.7 663.1h0.55M58.3 673.9h0.55M46.2 671.6h0.55M26.9 668.8h0.55M38.8 669.8h0.55M37.1 660.1h0.55M35.5 670.4h0.55M59.5 674.0h0.55M43.3 657.8h0.55M64.7 661.4h0.55M59.8 665.9h0.55M45.0 657.1h0.55M33.3 670.9h0.55M45.8 673.4h0.55M64.6 666.7h0.55M74.1 656.5h0.55M42.6 666.7h0.55M23.9 673.2h0.55M29.1 667.6h0.55M35.6 663.8h0.55M46.1 662.1h0.55M30.2 669.3h0.55M54.8 658.0h0.55M73.5 658.5h0.55M33.0 661.9h0.55M40.7 665.9h0.55M69.8 658.4h0.55M52.0 668.5h0.55M34.9 663.3h0.55M45.0 673.5h0.55M62.9 665.7h0.55M24.7 663.4h0.55M65.1 664.8h0.55M42.1 668.8h0.55M23.2 668.9h0.55M58.0 658.7h0.55M43.5 672.9h0.55M35.2 666.7h0.55M39.7 667.1h0.55M42.1 663.1h0.55M70.9 669.8h0.55M74.9 662.9h0.55M46.2 663.5h0.55M67.8 663.6h0.55M57.7 659.9h0.55M50.3 661.7h0.55M70.3 663.5h0.55M72.5 667.4h0.55M39.4 667.1h0.55M71.3 669.8h0.55M65.5 667.4h0.55M54.4 659.2h0.55M65.9 668.8h0.55M56.0 662.3h0.55M62.2 666.6h0.55M38.3 675.5h0.55M62.7 669.5h0.55M66.4 669.9h0.55M41.8 674.8h0.55M69.9 669.4h0.55M44.5 666.1h0.55M23.5 673.6h0.55M65.9 667.9h0.55M46.2 671.9h0.55M22.2 664.2h0.55M34.5 668.2h0.55M40.1 668.2h0.55M69.5 664.4h0.55M27.2 656.8h0.55M66.1 665.5h0.55M44.8 657.1h0.55M26.6 656.5h0.55M69.4 657.4h0.55M38.4 665.6h0.55M52.0 660.8h0.55M55.9 668.8h0.55M74.2 658.3h0.55M37.0 658.5h0.55M36.6 660.6h0.55M22.6 672.0h0.55M35.9 670.8h0.55M64.9 671.8h0.55M22.3 667.8h0.55M67.0 668.6h0.55M53.6 664.7h0.55M65.4 666.7h0.55M40.0 666.0h0.55M46.5 660.1h0.55M57.3 672.5h0.55M56.3 656.7h0.55M42.9 671.2h0.55" stroke="#000" stroke-width="0.55" stroke-opacity="0.45" fill="none"/>
<ellipse cx="61.00" cy="637.30" rx="7.00" ry="5.40" transform="rotate(-20 61.00 637.30)" fill="#000" opacity="0.96" filter="url(#bl15)"/>
<ellipse cx="186.00" cy="642.00" rx="22.00" ry="13.00" transform="rotate(-20 186.00 642.00)" fill="#000" opacity="0.1" filter="url(#bl3)"/>
<ellipse cx="186.00" cy="641.00" rx="10.00" ry="5.00" transform="rotate(-30 186.00 641.00)" fill="#000" opacity="0.25" filter="url(#bl3)"/>
<path d="M204.1 640.0h0.55M195.2 634.1h0.55M198.7 638.6h0.55M197.5 635.8h0.55M193.1 636.4h0.55M198.1 636.1h0.55M207.3 634.4h0.55M200.9 635.4h0.55M197.1 634.4h0.55M195.0 632.8h0.55M189.6 645.8h0.55M194.0 640.9h0.55M197.8 635.8h0.55M202.2 634.7h0.55M200.9 635.8h0.55M205.0 640.1h0.55M200.4 641.9h0.55M203.2 643.0h0.55M196.8 632.1h0.55M200.3 638.4h0.55M196.9 637.5h0.55M196.3 633.4h0.55M207.1 632.5h0.55M191.9 633.3h0.55M194.6 638.8h0.55M207.2 638.0h0.55M194.0 634.1h0.55M193.1 639.0h0.55M203.0 634.8h0.55M209.2 642.9h0.55M197.6 629.4h0.55M204.5 635.9h0.55M203.4 640.6h0.55M193.9 639.4h0.55M199.1 634.7h0.55M202.4 636.3h0.55M198.8 645.5h0.55M201.5 643.7h0.55M199.2 641.9h0.55M195.3 639.4h0.55M202.3 628.1h0.55M201.5 636.0h0.55M204.8 637.0h0.55M197.3 633.1h0.55M213.3 631.0h0.55M196.6 635.5h0.55M197.6 639.0h0.55M193.2 643.6h0.55M198.2 640.4h0.55M187.6 638.7h0.55M197.1 636.7h0.55M195.9 639.9h0.55M200.1 633.5h0.55M189.6 643.3h0.55M198.4 642.3h0.55M203.4 636.2h0.55M191.3 638.4h0.55M196.5 643.5h0.55M191.2 643.6h0.55M190.5 637.8h0.55M191.0 637.1h0.55M197.1 639.8h0.55M196.6 641.2h0.55M208.1 636.0h0.55M192.9 638.7h0.55M198.1 636.6h0.55M206.0 640.6h0.55M209.8 637.0h0.55M185.2 641.0h0.55M201.6 633.8h0.55M196.8 642.1h0.55M198.6 633.3h0.55M192.9 626.9h0.55M197.7 633.2h0.55M197.5 633.4h0.55M193.7 637.1h0.55M212.0 629.5h0.55M192.3 637.4h0.55M205.2 639.4h0.55M202.2 635.6h0.55M198.8 634.7h0.55M197.2 635.0h0.55M190.5 636.0h0.55M209.3 636.6h0.55M195.0 638.4h0.55M197.9 643.0h0.55M198.2 635.4h0.55M202.8 638.1h0.55M194.7 635.8h0.55M198.0 631.4h0.55M195.3 642.9h0.55M204.5 640.8h0.55M196.1 636.2h0.55M197.1 636.4h0.55M205.3 635.2h0.55M205.2 633.3h0.55M202.5 643.4h0.55M194.5 636.3h0.55M194.2 632.5h0.55M196.8 635.8h0.55M209.8 633.0h0.55M189.0 644.3h0.55M203.8 636.4h0.55M201.1 640.1h0.55M196.1 638.7h0.55M201.4 643.9h0.55M206.3 636.5h0.55M193.0 643.0h0.55M199.8 642.3h0.55M199.4 638.4h0.55M201.6 634.1h0.55M197.9 647.4h0.55M195.4 642.5h0.55M203.3 640.0h0.55M204.6 630.9h0.55M201.7 628.7h0.55M199.5 639.0h0.55M205.3 640.5h0.55M193.9 638.0h0.55M197.4 635.4h0.55M194.1 636.4h0.55M206.2 641.4h0.55M204.5 643.1h0.55M198.3 633.6h0.55M195.8 639.5h0.55M205.4 641.0h0.55M195.3 642.7h0.55M196.8 640.8h0.55M205.1 642.2h0.55M196.5 639.4h0.55M200.7 635.6h0.55M200.0 639.9h0.55M189.9 637.6h0.55M211.2 636.4h0.55M194.2 631.6h0.55M194.6 641.1h0.55M202.9 638.6h0.55M201.3 634.7h0.55M205.9 631.4h0.55M201.3 636.1h0.55M191.1 643.6h0.55M198.2 640.9h0.55M205.6 636.7h0.55M195.3 637.9h0.55M200.0 643.4h0.55M204.9 642.6h0.55M202.0 633.9h0.55M204.7 640.2h0.55M198.8 639.7h0.55M196.0 633.5h0.55M199.2 640.8h0.55M194.8 629.8h0.55M195.9 643.0h0.55M201.2 641.8h0.55M194.6 637.3h0.55M193.0 636.2h0.55M201.7 637.6h0.55M196.8 639.6h0.55M191.9 638.1h0.55M189.7 634.2h0.55M190.9 635.5h0.55M208.4 640.9h0.55M204.8 633.9h0.55M201.0 632.7h0.55M196.4 639.5h0.55M191.0 640.8h0.55M200.0 629.1h0.55M186.1 640.1h0.55M198.4 638.5h0.55M193.7 641.5h0.55M198.8 634.9h0.55M207.6 636.6h0.55M204.6 643.8h0.55M196.2 637.7h0.55M189.8 639.3h0.55M203.7 646.7h0.55M202.0 637.8h0.55M191.6 636.3h0.55M188.1 635.1h0.55M199.8 638.8h0.55M194.0 638.2h0.55M195.4 641.3h0.55M201.6 634.8h0.55M195.3 633.8h0.55M198.8 646.8h0.55M199.7 641.1h0.55M203.4 642.6h0.55M196.3 634.8h0.55M205.2 639.9h0.55M196.6 642.9h0.55M198.8 637.7h0.55M208.9 637.3h0.55M200.2 636.2h0.55M201.0 641.6h0.55M200.5 634.3h0.55M201.1 636.8h0.55M200.3 636.7h0.55M186.1 634.7h0.55M194.7 629.9h0.55M193.3 647.6h0.55M202.0 635.1h0.55M198.3 628.8h0.55M201.2 641.2h0.55M198.5 632.6h0.55M203.3 634.5h0.55M196.2 639.4h0.55M199.4 646.0h0.55M200.4 646.2h0.55M200.0 632.5h0.55M199.0 638.0h0.55M207.6 640.7h0.55M211.3 631.8h0.55M199.1 647.3h0.55M194.7 640.4h0.55M206.1 631.7h0.55M196.4 635.4h0.55M202.0 638.6h0.55M199.4 640.4h0.55M194.5 637.5h0.55M203.4 644.9h0.55M185.7 641.4h0.55M194.9 636.2h0.55M195.2 636.8h0.55M194.1 637.2h0.55M178.0 641.7h0.55M192.5 645.9h0.55M197.9 632.7h0.55M200.6 627.5h0.55M182.0 647.6h0.55M177.4 650.2h0.55M189.7 641.8h0.55M178.5 647.1h0.55M192.2 637.2h0.55M192.9 637.1h0.55M187.6 638.6h0.55M176.4 645.8h0.55M187.8 636.5h0.55M169.6 643.4h0.55M194.4 635.1h0.55M183.2 648.3h0.55M181.7 636.6h0.55M181.1 639.7h0.55M182.8 638.6h0.55M187.3 642.4h0.55M181.6 642.6h0.55M186.5 644.5h0.55M182.5 646.5h0.55M194.0 635.5h0.55M178.7 643.8h0.55M172.8 646.1h0.55M177.4 645.2h0.55M184.4 644.3h0.55M187.5 642.1h0.55M186.1 642.2h0.55M179.5 647.8h0.55M197.0 639.8h0.55M177.6 647.8h0.55M176.4 650.1h0.55M183.6 640.3h0.55M180.3 643.2h0.55M183.9 637.7h0.55M186.8 641.7h0.55M189.4 638.8h0.55M190.5 649.1h0.55M193.4 638.2h0.55M177.7 648.7h0.55M184.5 629.6h0.55M185.5 643.0h0.55M186.3 641.3h0.55M187.6 646.5h0.55M187.9 638.6h0.55M188.5 649.2h0.55M179.0 642.6h0.55M188.4 640.3h0.55M190.7 644.6h0.55M194.5 638.0h0.55M186.1 640.7h0.55M186.3 645.4h0.55M175.2 642.4h0.55M180.9 639.5h0.55M183.3 648.1h0.55M171.7 651.9h0.55M176.5 645.4h0.55M180.0 639.9h0.55M175.9 647.1h0.55M161.5 645.4h0.55M185.4 646.4h0.55M198.0 632.7h0.55M179.9 643.2h0.55M191.0 642.4h0.55M180.4 646.5h0.55M188.0 645.1h0.55M182.7 641.9h0.55M177.4 639.8h0.55M189.2 642.4h0.55M194.1 637.5h0.55M180.9 639.7h0.55M176.5 643.1h0.55M188.4 640.0h0.55M170.1 649.7h0.55M181.9 638.6h0.55M186.8 643.0h0.55M176.1 640.4h0.55M184.2 643.2h0.55M187.3 647.4h0.55M184.9 637.0h0.55M189.9 635.7h0.55M190.8 638.7h0.55M192.4 632.7h0.55M191.7 639.7h0.55M181.1 647.1h0.55M202.2 633.3h0.55M180.4 643.5h0.55M195.4 636.8h0.55M194.8 632.9h0.55M191.7 630.4h0.55M184.2 640.7h0.55M185.0 647.2h0.55M182.5 644.6h0.55M200.3 636.6h0.55M181.6 640.1h0.55M172.9 650.3h0.55M194.2 641.4h0.55M191.9 647.5h0.55M186.6 630.0h0.55M181.5 647.3h0.55M184.9 645.5h0.55M202.0 628.2h0.55M201.0 632.0h0.55M176.0 647.2h0.55M191.0 635.4h0.55M195.1 631.7h0.55M186.5 645.0h0.55M183.4 639.9h0.55M187.1 643.4h0.55M200.6 638.9h0.55M198.8 633.5h0.55M174.5 647.5h0.55M181.1 639.2h0.55M182.3 642.8h0.55M188.2 644.0h0.55M182.0 648.6h0.55M187.7 643.4h0.55M192.1 631.8h0.55M195.5 632.2h0.55M190.9 643.2h0.55M189.2 631.9h0.55M189.4 644.3h0.55M185.0 641.2h0.55M189.7 646.4h0.55M180.3 639.9h0.55M177.3 643.6h0.55M185.0 643.2h0.55M182.0 635.4h0.55M176.5 649.6h0.55M188.3 633.4h0.55M187.6 628.9h0.55M203.2 633.8h0.55M175.5 649.4h0.55M184.8 639.6h0.55M183.0 641.7h0.55M183.5 638.3h0.55M183.2 645.2h0.55M187.0 634.3h0.55M185.7 648.4h0.55M194.2 643.9h0.55M174.6 642.8h0.55M167.1 642.9h0.55M181.3 638.9h0.55M177.1 642.9h0.55M186.4 644.6h0.55M186.3 632.7h0.55M195.6 633.9h0.55M179.0 644.9h0.55M180.4 637.8h0.55M195.6 632.8h0.55M182.9 645.3h0.55M198.6 636.0h0.55M180.6 646.1h0.55M194.4 637.9h0.55M189.5 636.7h0.55M182.1 635.4h0.55M178.7 639.9h0.55M189.0 646.2h0.55M167.8 645.4h0.55M179.4 644.4h0.55M192.5 633.7h0.55M183.0 648.4h0.55M189.6 641.3h0.55M190.3 635.1h0.55M186.2 637.8h0.55M181.3 644.4h0.55M186.5 634.8h0.55M181.9 646.2h0.55M188.5 642.6h0.55M182.2 639.5h0.55M192.6 640.0h0.55M168.0 655.4h0.55M182.0 646.4h0.55M196.3 633.7h0.55M179.8 645.8h0.55M187.8 642.6h0.55M176.7 647.5h0.55M193.6 639.9h0.55M192.8 642.6h0.55M182.7 648.6h0.55M185.5 636.7h0.55M184.5 643.1h0.55M191.0 644.4h0.55M186.3 638.5h0.55M200.5 631.1h0.55M182.1 647.5h0.55M181.5 639.9h0.55M181.0 649.4h0.55M178.8 645.6h0.55M182.4 642.2h0.55M180.6 644.8h0.55M192.3 642.2h0.55M181.2 638.4h0.55M175.7 647.0h0.55M171.4 655.6h0.55M186.5 641.3h0.55M175.0 644.4h0.55M182.2 646.3h0.55M184.4 644.8h0.55M185.7 632.3h0.55M186.9 646.3h0.55M182.7 643.5h0.55M182.7 637.3h0.55M200.9 631.8h0.55M189.5 636.9h0.55M198.1 639.4h0.55M196.1 639.6h0.55M193.7 643.0h0.55M189.1 639.9h0.55M189.9 634.7h0.55M170.0 654.0h0.55M185.7 638.0h0.55M182.2 638.8h0.55M180.5 645.1h0.55M190.4 648.5h0.55M186.7 648.0h0.55M193.8 632.4h0.55M159.4 645.1h0.55M180.7 638.8h0.55M216.0 624.5h0.55M190.5 633.0h0.55M192.1 627.6h0.55M200.4 638.6h0.55M176.5 634.0h0.55M208.5 628.3h0.55M174.2 663.9h0.55M212.0 632.8h0.55M202.4 642.0h0.55M181.2 645.1h0.55M165.2 636.7h0.55M190.1 647.7h0.55M184.5 630.8h0.55M198.6 638.4h0.55M196.0 635.6h0.55M185.4 652.5h0.55M202.2 624.6h0.55M173.0 656.2h0.55M191.4 640.6h0.55M174.9 655.9h0.55M189.4 643.0h0.55M190.0 635.6h0.55M192.2 641.1h0.55M197.7 641.5h0.55M165.2 642.8h0.55M185.8 653.4h0.55M180.1 655.2h0.55M204.4 643.9h0.55M194.5 650.8h0.55M195.0 648.4h0.55M188.5 654.9h0.55M185.2 623.9h0.55M201.2 634.7h0.55M172.3 644.2h0.55M185.5 653.4h0.55M190.7 639.8h0.55M183.0 634.5h0.55M175.3 641.5h0.55M179.1 633.4h0.55M183.3 652.8h0.55M192.6 639.7h0.55M190.3 638.2h0.55M171.6 655.9h0.55M203.6 659.5h0.55M170.1 653.0h0.55M180.2 641.6h0.55M161.7 650.2h0.55M186.9 626.4h0.55M181.3 639.1h0.55M173.5 652.8h0.55M211.2 637.0h0.55M203.3 643.2h0.55M186.9 647.4h0.55M204.0 631.5h0.55M179.6 631.2h0.55M156.5 645.0h0.55M200.2 640.5h0.55M193.9 651.9h0.55M164.7 663.2h0.55M189.7 648.3h0.55M203.6 627.9h0.55M174.7 650.2h0.55M183.4 637.5h0.55M182.0 636.6h0.55M186.8 638.1h0.55M207.5 624.3h0.55M194.7 639.7h0.55M206.0 625.5h0.55M184.6 659.3h0.55M175.3 642.4h0.55M177.3 635.9h0.55M208.5 648.5h0.55M181.5 636.5h0.55M168.4 654.9h0.55M180.0 649.6h0.55M196.4 642.3h0.55M187.9 641.3h0.55M179.7 640.2h0.55M189.7 645.7h0.55M198.9 635.3h0.55M200.9 627.7h0.55M216.8 640.2h0.55M188.6 667.6h0.55M211.9 647.9h0.55M168.3 647.5h0.55M196.1 648.5h0.55M183.1 630.7h0.55M203.3 634.2h0.55M191.4 637.1h0.55M180.2 631.1h0.55M193.8 633.3h0.55M161.5 655.0h0.55M188.5 650.4h0.55M194.2 627.5h0.55M183.5 643.0h0.55M184.1 632.7h0.55M190.2 650.0h0.55M208.6 647.9h0.55M189.3 616.7h0.55M180.4 638.9h0.55M199.3 637.2h0.55M192.8 644.3h0.55M187.1 654.9h0.55M215.1 639.4h0.55M178.7 647.2h0.55M202.5 643.0h0.55M179.0 653.8h0.55M198.4 643.2h0.55M179.9 644.1h0.55M158.2 651.9h0.55M178.7 641.9h0.55M181.0 640.9h0.55M187.6 642.5h0.55M176.7 644.2h0.55M186.2 646.7h0.55M191.3 636.7h0.55M169.0 632.6h0.55M169.1 652.2h0.55M177.6 660.5h0.55M182.6 639.7h0.55M182.1 638.3h0.55M177.1 646.0h0.55M165.4 650.9h0.55M181.9 634.9h0.55M202.1 639.7h0.55M199.7 630.7h0.55M164.4 638.6h0.55M157.4 634.4h0.55M207.3 629.8h0.55M187.2 636.5h0.55M188.8 656.2h0.55M157.8 642.9h0.55M185.2 633.7h0.55M200.1 649.4h0.55M201.3 643.7h0.55M186.8 651.4h0.55M170.7 636.3h0.55M181.5 641.3h0.55M200.8 627.3h0.55M200.3 629.5h0.55M162.5 634.4h0.55M181.1 630.1h0.55M189.3 641.3h0.55M174.3 627.9h0.55M179.9 648.6h0.55M162.2 657.3h0.55M184.6 637.4h0.55M191.0 646.5h0.55M183.3 635.6h0.55M195.3 632.2h0.55M194.3 648.4h0.55M209.9 648.6h0.55M201.3 637.9h0.55M183.7 644.7h0.55M202.9 664.5h0.55M193.0 631.6h0.55M203.2 620.6h0.55M196.7 626.0h0.55M168.7 643.6h0.55M177.8 632.2h0.55M194.7 637.8h0.55M202.4 626.4h0.55M161.9 657.4h0.55M185.8 651.5h0.55M193.3 658.1h0.55M162.3 632.5h0.55M183.8 656.4h0.55M204.8 622.2h0.55M171.5 629.7h0.55M170.8 638.4h0.55M195.7 649.4h0.55M198.6 639.6h0.55M193.8 657.7h0.55M201.0 651.5h0.55M193.1 647.8h0.55M193.1 638.6h0.55M174.7 642.3h0.55M185.0 638.7h0.55M178.9 637.9h0.55M197.7 635.4h0.55M183.6 640.8h0.55M203.4 630.6h0.55M203.9 627.3h0.55M210.1 639.1h0.55M180.3 648.5h0.55M199.6 628.0h0.55M183.7 645.9h0.55M182.1 640.7h0.55M187.3 644.6h0.55M201.8 650.4h0.55M190.4 668.6h0.55M186.8 658.8h0.55M179.7 630.4h0.55M178.7 641.4h0.55M195.3 619.3h0.55M176.5 644.3h0.55M196.8 641.9h0.55M198.0 636.2h0.55M186.4 653.5h0.55M212.1 636.2h0.55M185.7 634.0h0.55M217.7 634.3h0.55M190.1 625.2h0.55M202.3 659.4h0.55M183.1 641.2h0.55M207.7 632.4h0.55M204.2 654.0h0.55M166.6 641.2h0.55M196.3 639.4h0.55M186.1 640.4h0.55M189.0 644.4h0.55M178.3 642.2h0.55M186.1 631.6h0.55M185.7 621.1h0.55M194.9 637.6h0.55M176.0 671.7h0.55M174.3 674.5h0.55M174.5 668.5h0.55M170.1 670.4h0.55M171.6 664.6h0.55M195.3 672.4h0.55M163.9 659.8h0.55M167.7 671.2h0.55M192.7 670.3h0.55M199.9 661.0h0.55M183.1 656.6h0.55M175.3 668.0h0.55M170.4 671.8h0.55M167.8 665.0h0.55M193.2 660.8h0.55M192.1 664.2h0.55M158.9 658.5h0.55M191.5 672.3h0.55M193.0 673.1h0.55M192.2 671.4h0.55M201.6 667.9h0.55M185.0 659.6h0.55M169.1 658.1h0.55M162.3 664.0h0.55M172.1 667.3h0.55" stroke="#000" stroke-width="0.55" stroke-opacity="0.45" fill="none"/>
<ellipse cx="199.00" cy="637.80" rx="6.80" ry="5.00" transform="rotate(-15 199.00 637.80)" fill="#000" opacity="0.96" filter="url(#bl15)"/>
<ellipse cx="250.00" cy="646.00" rx="20.00" ry="16.00" transform="rotate(-20 250.00 646.00)" fill="#000" opacity="0.15" filter="url(#bl3)"/>
<ellipse cx="253.00" cy="642.00" rx="9.00" ry="7.00" transform="rotate(-30 253.00 642.00)" fill="#000" opacity="0.48" filter="url(#bl3)"/>
<path d="M265.6 634.8h0.55M271.4 630.6h0.55M269.0 642.2h0.55M265.7 639.4h0.55M266.2 640.6h0.55M265.8 637.9h0.55M265.9 629.5h0.55M265.5 636.6h0.55M276.1 635.4h0.55M261.7 642.2h0.55M260.7 634.5h0.55M263.7 640.8h0.55M272.8 639.9h0.55M265.6 637.2h0.55M267.4 642.6h0.55M265.5 643.1h0.55M260.0 639.9h0.55M269.9 639.4h0.55M264.9 635.9h0.55M253.8 640.3h0.55M259.2 638.5h0.55M272.4 632.1h0.55M269.3 636.5h0.55M258.4 641.0h0.55M267.1 632.2h0.55M257.4 639.2h0.55M267.8 634.5h0.55M267.6 639.2h0.55M265.2 640.0h0.55M271.4 635.0h0.55M264.9 633.5h0.55M260.3 639.4h0.55M268.2 634.0h0.55M258.0 644.7h0.55M274.3 623.5h0.55M258.7 641.0h0.55M265.9 633.6h0.55M268.0 641.9h0.55M264.0 641.7h0.55M263.9 634.4h0.55M260.2 637.2h0.55M273.6 640.0h0.55M263.7 631.8h0.55M261.2 637.8h0.55M253.7 642.2h0.55M264.3 632.6h0.55M261.5 637.4h0.55M275.8 637.1h0.55M269.0 637.1h0.55M258.6 644.5h0.55M258.0 632.3h0.55M268.1 635.5h0.55M265.2 640.3h0.55M263.8 640.4h0.55M271.3 634.4h0.55M262.6 639.1h0.55M267.6 635.4h0.55M264.0 635.5h0.55M264.9 640.6h0.55M259.7 639.3h0.55M255.4 638.6h0.55M265.7 640.2h0.55M258.6 640.0h0.55M259.8 641.4h0.55M266.6 639.5h0.55M261.3 633.2h0.55M259.5 634.3h0.55M260.7 639.5h0.55M269.6 633.6h0.55M260.5 640.7h0.55M255.8 650.2h0.55M257.4 645.3h0.55M271.3 640.0h0.55M265.0 641.3h0.55M264.0 642.7h0.55M259.7 636.5h0.55M266.0 635.8h0.55M267.1 633.6h0.55M264.6 634.0h0.55M267.0 646.8h0.55M256.8 635.7h0.55M255.3 640.7h0.55M272.9 633.3h0.55M269.4 635.7h0.55M263.8 647.3h0.55M267.9 629.0h0.55M259.7 641.9h0.55M267.8 636.1h0.55M267.0 639.7h0.55M264.0 642.8h0.55M260.9 642.9h0.55M269.9 637.2h0.55M262.6 638.9h0.55M252.5 643.8h0.55M253.8 633.4h0.55M267.5 633.2h0.55M266.6 637.8h0.55M253.5 638.4h0.55M263.7 640.7h0.55M263.1 633.3h0.55M261.7 639.8h0.55M256.8 639.2h0.55M258.5 631.2h0.55M275.3 638.2h0.55M263.3 642.9h0.55M260.9 646.3h0.55M262.6 639.6h0.55M261.4 639.8h0.55M266.4 637.8h0.55M261.0 642.9h0.55M267.6 637.2h0.55M269.3 633.3h0.55M271.4 635.1h0.55M272.3 633.5h0.55M263.4 639.6h0.55M272.6 641.6h0.55M261.0 636.4h0.55M270.5 641.5h0.55M267.9 635.6h0.55M271.5 635.6h0.55M266.3 640.4h0.55M258.2 630.7h0.55M266.7 640.6h0.55M267.7 639.5h0.55M266.9 642.0h0.55M267.2 643.8h0.55M265.9 641.3h0.55M261.9 640.6h0.55M267.1 638.0h0.55M273.1 635.4h0.55M271.2 637.4h0.55M269.3 632.6h0.55M263.8 642.7h0.55M260.5 641.5h0.55M267.9 637.9h0.55M267.7 639.5h0.55M263.8 640.4h0.55M261.0 637.6h0.55M255.6 641.1h0.55M255.2 641.8h0.55M264.1 633.7h0.55M265.3 639.3h0.55M261.3 635.5h0.55M264.5 640.1h0.55M272.3 643.9h0.55M254.1 643.6h0.55M266.0 635.0h0.55M269.2 645.7h0.55M267.1 643.3h0.55M269.8 634.5h0.55M253.3 647.4h0.55M270.6 628.4h0.55M262.4 636.0h0.55M265.7 638.1h0.55M270.0 633.7h0.55M272.8 627.8h0.55M269.5 648.2h0.55M264.8 640.9h0.55M266.5 652.0h0.55M269.0 635.2h0.55M254.2 643.0h0.55M265.7 629.0h0.55M262.6 641.4h0.55M251.0 642.4h0.55M253.8 636.3h0.55M268.4 641.9h0.55M270.0 633.4h0.55M264.8 630.4h0.55M257.1 643.4h0.55M260.9 635.2h0.55M253.8 641.2h0.55M274.0 626.0h0.55M260.3 644.7h0.55M253.0 639.8h0.55M266.5 642.5h0.55M266.7 645.5h0.55M264.2 637.9h0.55M267.4 638.8h0.55M254.9 637.7h0.55M263.7 640.1h0.55M256.7 638.0h0.55M260.9 641.1h0.55M263.0 641.5h0.55M265.4 634.0h0.55M261.1 634.1h0.55M266.2 641.2h0.55M256.5 633.4h0.55M267.0 636.1h0.55M265.0 640.1h0.55M267.9 641.1h0.55M258.9 630.7h0.55M261.4 638.1h0.55M262.8 640.7h0.55M264.9 643.8h0.55M261.0 639.6h0.55M265.5 647.2h0.55M257.8 636.3h0.55M263.5 642.0h0.55M264.3 637.6h0.55M253.5 633.2h0.55M263.0 637.8h0.55M274.8 636.2h0.55M268.2 641.2h0.55M257.8 635.3h0.55M264.6 644.8h0.55M269.2 634.0h0.55M258.9 644.4h0.55M269.0 631.8h0.55M272.4 632.0h0.55M268.4 636.0h0.55M261.8 636.6h0.55M269.2 639.3h0.55M268.6 635.6h0.55M262.8 648.4h0.55M273.8 634.1h0.55M260.2 646.4h0.55M265.3 638.3h0.55M269.8 637.9h0.55M267.9 645.8h0.55M254.9 644.6h0.55M259.1 640.6h0.55M263.9 639.7h0.55M252.0 645.9h0.55M276.9 632.0h0.55M270.4 638.9h0.55M265.5 635.7h0.55M268.4 638.1h0.55M273.8 638.6h0.55M256.4 628.4h0.55M273.6 637.1h0.55M264.6 635.6h0.55M280.4 638.4h0.55M264.5 636.7h0.55M269.6 642.4h0.55M268.8 640.9h0.55M266.5 639.2h0.55M257.6 641.4h0.55M264.7 637.9h0.55M263.6 640.0h0.55M261.0 638.7h0.55M251.4 657.8h0.55M244.2 639.3h0.55M248.5 641.9h0.55M239.6 634.0h0.55M265.9 641.1h0.55M252.2 646.0h0.55M241.6 638.1h0.55M256.7 643.6h0.55M248.8 644.4h0.55M233.7 652.3h0.55M260.0 639.1h0.55M255.7 644.2h0.55M236.6 643.2h0.55M245.8 647.7h0.55M243.9 635.1h0.55M258.0 637.9h0.55M264.7 648.2h0.55M239.2 641.7h0.55M263.6 645.0h0.55M256.4 642.3h0.55M259.1 642.7h0.55M247.2 650.1h0.55M258.0 636.5h0.55M246.0 642.9h0.55M250.8 646.6h0.55M257.9 639.4h0.55M246.2 634.5h0.55M247.6 638.7h0.55M250.5 645.6h0.55M263.8 658.3h0.55M246.1 642.5h0.55M245.2 644.9h0.55M254.0 647.9h0.55M243.5 653.4h0.55M255.5 637.2h0.55M249.3 645.4h0.55M255.8 639.4h0.55M252.1 642.6h0.55M247.0 647.2h0.55M256.7 640.2h0.55M245.9 646.1h0.55M253.2 643.9h0.55M252.7 647.5h0.55M262.0 642.1h0.55M257.8 647.0h0.55M252.3 641.4h0.55M244.2 647.2h0.55M257.9 633.1h0.55M254.3 633.1h0.55M259.9 649.7h0.55M250.0 636.2h0.55M254.4 640.3h0.55M256.5 636.7h0.55M240.9 645.9h0.55M259.5 644.8h0.55M254.8 641.2h0.55M256.7 638.6h0.55M250.8 644.7h0.55M258.4 635.7h0.55M254.3 637.2h0.55M248.9 645.5h0.55M242.4 642.7h0.55M243.9 643.4h0.55M253.7 656.4h0.55M256.9 640.2h0.55M238.2 635.5h0.55M254.0 637.5h0.55M258.4 636.4h0.55M243.1 643.7h0.55M239.6 640.8h0.55M255.9 637.0h0.55M255.7 636.9h0.55M250.0 640.3h0.55M247.8 640.9h0.55M262.1 636.4h0.55M245.5 657.1h0.55M263.8 642.9h0.55M251.9 641.7h0.55M250.3 644.3h0.55M255.9 640.3h0.55M245.2 640.4h0.55M267.9 644.1h0.55M243.5 643.5h0.55M254.3 645.0h0.55M252.9 643.6h0.55M258.3 646.1h0.55M247.9 651.9h0.55M257.1 643.0h0.55M243.0 646.4h0.55M253.1 646.0h0.55M259.1 642.8h0.55M248.4 652.6h0.55M255.9 646.2h0.55M251.0 638.8h0.55M271.0 635.8h0.55M256.4 637.1h0.55M254.6 648.1h0.55M260.5 648.7h0.55M257.5 632.7h0.55M246.5 653.0h0.55M256.0 638.7h0.55M249.6 640.5h0.55M263.6 634.9h0.55M246.8 651.3h0.55M253.4 644.0h0.55M250.4 643.3h0.55M242.7 651.3h0.55M247.6 642.7h0.55M258.4 646.9h0.55M239.2 649.2h0.55M259.1 644.9h0.55M248.1 646.8h0.55M257.9 645.0h0.55M248.6 643.4h0.55M252.8 649.2h0.55M258.5 636.1h0.55M252.7 643.6h0.55M247.0 644.8h0.55M260.4 642.6h0.55M246.9 641.5h0.55M248.2 635.6h0.55M255.2 641.5h0.55M244.0 645.8h0.55M248.1 643.2h0.55M251.2 651.6h0.55M249.0 649.1h0.55M258.1 648.1h0.55M252.6 642.3h0.55M248.3 633.1h0.55M267.3 632.5h0.55M247.9 638.0h0.55M256.4 650.1h0.55M249.4 646.9h0.55M261.9 642.8h0.55M245.7 635.5h0.55M257.0 643.3h0.55M249.7 641.3h0.55M259.6 628.5h0.55M248.1 641.1h0.55M241.4 644.5h0.55M251.3 650.7h0.55M238.4 642.0h0.55M250.4 634.0h0.55M238.8 646.4h0.55M242.8 641.9h0.55M253.1 644.8h0.55M248.2 643.2h0.55M257.0 638.8h0.55M255.9 636.8h0.55M259.4 646.3h0.55M252.3 660.9h0.55M250.0 641.7h0.55M253.1 644.8h0.55M245.5 646.6h0.55M253.1 650.8h0.55M243.9 651.3h0.55M249.0 639.8h0.55M253.1 640.5h0.55M253.8 643.1h0.55M259.3 635.9h0.55M256.1 623.7h0.55M267.5 641.2h0.55M263.2 637.4h0.55M252.0 636.4h0.55M258.2 632.0h0.55M248.0 645.0h0.55M255.3 642.9h0.55M244.8 644.7h0.55M259.1 645.8h0.55M258.8 641.3h0.55M249.9 640.6h0.55M249.5 643.5h0.55M254.9 637.9h0.55M263.1 630.1h0.55M257.5 638.3h0.55M251.0 640.9h0.55M261.7 635.3h0.55M256.7 640.7h0.55M259.1 642.1h0.55M261.3 632.8h0.55M252.3 652.9h0.55M261.0 637.9h0.55M251.8 644.3h0.55M259.0 633.9h0.55M261.8 636.7h0.55M249.6 641.6h0.55M240.8 651.1h0.55M243.3 644.3h0.55M248.0 646.4h0.55M257.5 639.7h0.55M255.2 643.3h0.55M264.4 639.0h0.55M262.5 636.2h0.55M253.4 637.9h0.55M254.4 636.1h0.55M254.2 637.5h0.55M254.0 649.0h0.55M255.9 645.2h0.55M246.5 634.5h0.55M261.6 636.0h0.55M251.4 648.8h0.55M243.9 642.8h0.55M258.2 634.8h0.55M259.1 636.7h0.55M251.8 643.2h0.55M252.7 648.8h0.55M259.9 638.5h0.55M258.1 642.4h0.55M259.2 628.9h0.55M261.7 642.6h0.55M251.0 643.3h0.55M254.0 649.0h0.55M247.4 649.0h0.55M262.4 640.2h0.55M248.7 641.8h0.55M237.1 645.0h0.55M257.2 633.9h0.55M242.1 646.9h0.55M244.9 649.6h0.55M250.0 649.6h0.55M248.5 636.1h0.55M246.4 642.0h0.55M251.0 650.8h0.55M247.7 647.4h0.55M250.9 646.9h0.55M239.9 640.1h0.55M259.9 646.8h0.55M243.5 645.7h0.55M247.3 639.7h0.55M259.1 638.9h0.55M243.8 646.1h0.55M259.4 634.1h0.55M247.6 640.2h0.55M252.5 639.0h0.55M256.3 635.2h0.55M245.1 649.4h0.55M230.7 649.2h0.55M255.3 642.3h0.55M248.2 642.2h0.55M266.0 657.3h0.55M238.6 648.3h0.55M245.9 653.9h0.55M252.0 651.7h0.55M270.3 635.8h0.55M247.4 651.4h0.55M276.1 632.7h0.55M276.3 649.9h0.55M238.4 654.9h0.55M267.5 640.5h0.55M259.8 667.0h0.55M262.3 665.9h0.55M244.1 666.9h0.55M234.5 624.6h0.55M237.3 645.5h0.55M252.0 654.0h0.55M260.8 648.1h0.55M246.5 667.5h0.55M265.7 640.9h0.55M242.2 648.5h0.55M244.4 640.4h0.55M247.3 639.7h0.55M255.9 636.7h0.55M257.5 647.1h0.55M253.9 650.6h0.55M243.4 656.8h0.55M248.6 641.8h0.55M276.7 648.9h0.55M248.3 653.2h0.55M264.6 658.7h0.55M262.6 639.7h0.55M242.4 635.9h0.55M256.5 653.6h0.55M247.2 654.7h0.55M249.9 641.0h0.55M237.9 663.1h0.55M285.2 639.5h0.55M232.0 641.1h0.55M255.6 651.5h0.55M261.1 615.0h0.55M274.8 639.0h0.55M253.1 649.4h0.55M244.2 645.1h0.55M257.5 623.9h0.55M250.4 652.3h0.55M227.7 652.5h0.55M271.4 642.6h0.55M261.8 649.9h0.55M254.1 648.7h0.55M238.5 648.0h0.55M269.8 625.1h0.55M243.1 634.4h0.55M240.1 641.1h0.55M234.7 654.5h0.55M239.4 656.0h0.55M240.1 626.1h0.55M249.7 650.5h0.55M257.1 657.2h0.55M245.8 628.2h0.55M266.3 629.5h0.55M249.9 649.9h0.55M238.7 651.3h0.55M263.5 622.2h0.55M226.4 649.7h0.55M243.1 634.2h0.55M250.3 631.1h0.55M257.3 642.8h0.55M247.2 632.1h0.55M248.8 652.0h0.55M270.0 661.5h0.55M258.4 642.3h0.55M234.2 647.3h0.55M248.3 651.8h0.55M255.6 672.2h0.55M259.4 617.8h0.55M234.6 651.7h0.55M264.4 645.5h0.55M269.9 645.6h0.55M286.6 641.9h0.55M261.6 659.3h0.55M242.1 642.8h0.55M237.6 653.5h0.55M259.2 653.4h0.55M271.3 645.5h0.55M265.3 637.7h0.55M240.0 658.1h0.55M268.2 654.7h0.55M246.1 642.2h0.55M246.5 651.5h0.55M248.7 644.5h0.55M252.3 642.0h0.55M252.2 638.5h0.55M228.5 650.4h0.55M271.9 628.9h0.55M267.0 655.3h0.55M243.8 651.3h0.55M271.0 640.6h0.55M240.6 650.8h0.55M252.3 640.6h0.55M242.9 639.4h0.55M258.3 645.4h0.55M252.7 639.4h0.55M255.4 640.7h0.55M253.3 643.1h0.55M237.2 638.2h0.55M225.4 645.8h0.55M243.0 635.3h0.55M263.2 665.2h0.55M262.1 628.4h0.55M246.3 640.2h0.55M254.7 627.7h0.55M254.9 646.8h0.55M259.0 647.7h0.55M245.5 627.4h0.55M242.3 638.1h0.55M256.1 641.2h0.55M256.1 656.5h0.55M254.8 663.7h0.55M255.6 627.0h0.55M246.8 661.2h0.55M247.8 660.6h0.55M242.1 647.5h0.55M257.7 625.2h0.55M249.3 641.1h0.55M258.6 662.6h0.55M251.5 630.0h0.55M261.0 636.9h0.55M256.5 657.0h0.55M249.5 657.3h0.55M249.0 636.0h0.55M240.9 633.8h0.55M266.2 642.0h0.55M258.6 630.1h0.55M256.8 629.9h0.55M253.7 644.6h0.55M243.4 652.0h0.55M247.3 637.1h0.55M235.4 636.3h0.55M268.6 641.0h0.55M247.8 654.8h0.55M234.4 638.3h0.55M260.6 660.4h0.55M254.5 646.2h0.55M267.3 621.9h0.55M286.2 620.2h0.55M244.1 632.7h0.55M233.1 649.4h0.55M278.7 624.7h0.55M242.9 651.7h0.55M235.6 648.3h0.55M252.7 619.9h0.55M244.9 644.5h0.55M242.8 647.3h0.55M224.7 650.2h0.55M239.3 638.0h0.55M274.1 660.3h0.55M257.3 633.4h0.55M270.6 644.3h0.55M241.5 656.1h0.55M244.5 654.6h0.55M266.4 653.4h0.55M235.7 649.8h0.55M245.5 633.5h0.55M258.0 651.1h0.55M229.8 647.0h0.55M230.7 638.3h0.55M241.1 665.1h0.55M239.8 645.2h0.55M266.8 651.7h0.55M260.8 618.1h0.55M253.4 624.5h0.55M240.1 644.8h0.55M249.8 668.8h0.55M252.2 658.8h0.55M247.4 646.3h0.55M258.4 648.1h0.55M250.1 625.9h0.55M257.9 646.8h0.55M257.7 642.6h0.55M250.6 630.7h0.55M260.4 628.2h0.55M272.2 649.6h0.55M248.1 643.3h0.55M259.1 639.2h0.55M235.4 654.5h0.55M232.2 647.2h0.55M276.6 645.7h0.55M243.8 647.5h0.55M241.4 649.0h0.55M233.5 659.9h0.55M247.9 639.7h0.55M251.7 675.8h0.55M242.4 643.3h0.55M240.5 643.7h0.55M269.7 646.7h0.55M256.9 647.7h0.55M226.1 626.8h0.55M272.5 646.1h0.55M253.9 647.8h0.55M252.7 645.3h0.55M238.3 624.5h0.55M257.7 643.8h0.55M264.0 644.5h0.55M248.5 653.5h0.55M250.8 640.6h0.55M243.5 643.5h0.55M244.4 642.9h0.55M273.8 671.2h0.55M252.7 658.0h0.55M243.2 646.7h0.55M235.2 635.6h0.55M236.9 644.8h0.55M250.8 641.8h0.55M232.8 648.0h0.55M266.6 629.7h0.55M254.6 656.0h0.55M237.3 644.0h0.55M243.7 650.2h0.55M251.9 647.0h0.55M255.0 640.7h0.55M246.9 631.3h0.55M251.3 662.9h0.55M250.7 638.1h0.55M255.7 656.1h0.55M239.6 644.7h0.55M246.7 640.5h0.55M251.7 646.4h0.55M232.3 645.2h0.55M234.8 654.9h0.55M255.9 651.4h0.55M236.5 644.7h0.55M230.0 657.3h0.55M265.8 645.4h0.55M259.1 645.3h0.55M258.4 653.8h0.55M274.1 660.6h0.55M249.6 655.8h0.55M263.0 646.2h0.55M248.8 631.8h0.55M261.0 631.8h0.55M238.2 640.4h0.55M269.4 665.1h0.55M231.8 660.8h0.55M267.4 657.6h0.55M234.0 668.5h0.55M261.1 665.4h0.55M259.5 664.6h0.55M256.1 657.2h0.55M246.6 675.2h0.55M255.4 663.0h0.55M258.0 675.2h0.55M249.4 664.5h0.55M268.7 672.8h0.55M236.5 669.3h0.55M240.4 663.3h0.55M267.7 663.5h0.55M273.7 665.8h0.55M271.1 659.0h0.55M246.1 657.1h0.55M270.6 673.6h0.55M250.5 665.4h0.55M276.7 663.9h0.55M240.8 659.1h0.55M273.9 671.9h0.55M252.8 670.5h0.55M269.4 669.3h0.55M230.2 669.0h0.55M271.4 665.6h0.55M247.4 668.9h0.55M234.6 660.8h0.55M261.0 675.6h0.55M230.4 669.3h0.55M251.5 657.2h0.55M233.0 662.4h0.55M261.7 659.0h0.55M244.5 668.4h0.55M265.1 675.6h0.55M269.5 660.2h0.55M254.5 668.1h0.55M254.1 668.0h0.55M245.0 661.1h0.55M260.3 673.3h0.55M261.1 669.1h0.55M276.0 661.4h0.55M255.3 672.4h0.55M259.5 656.5h0.55M251.9 672.2h0.55M235.2 664.1h0.55M277.4 665.2h0.55M253.6 668.0h0.55M270.2 665.2h0.55M272.8 670.0h0.55M246.0 668.3h0.55M240.5 657.5h0.55M250.5 657.4h0.55M240.4 672.7h0.55M276.7 660.3h0.55M233.3 663.3h0.55M248.6 659.2h0.55M267.9 659.5h0.55M253.4 661.7h0.55M259.2 658.7h0.55M251.0 672.8h0.55M225.2 660.2h0.55M228.2 672.6h0.55M260.5 661.1h0.55M272.9 659.8h0.55M250.7 670.5h0.55M256.8 657.8h0.55M226.8 660.0h0.55M275.4 673.8h0.55M240.5 657.4h0.55M258.6 660.3h0.55M272.5 674.1h0.55M266.5 671.4h0.55M266.3 672.5h0.55M244.8 670.4h0.55M225.0 669.8h0.55M248.3 675.4h0.55M266.7 665.2h0.55M262.5 667.7h0.55" stroke="#000" stroke-width="0.55" stroke-opacity="0.45" fill="none"/>
<ellipse cx="264.50" cy="638.30" rx="7.60" ry="5.20" transform="rotate(-20 264.50 638.30)" fill="#000" opacity="0.96" filter="url(#bl15)"/>
<path d="M120.1 644.7h0.55M123.7 649.7h0.55M111.1 632.7h0.55M109.3 640.2h0.55M117.2 643.2h0.55M123.8 653.8h0.55M118.7 638.1h0.55M116.7 640.3h0.55M120.5 649.3h0.55M114.1 652.5h0.55M137.9 649.8h0.55M133.4 641.1h0.55M115.5 661.4h0.55M121.1 646.6h0.55M116.2 640.0h0.55M122.4 634.4h0.55M112.0 652.2h0.55M116.2 640.7h0.55M128.0 652.7h0.55M118.6 644.9h0.55M127.4 649.4h0.55M130.3 646.5h0.55M117.2 650.2h0.55M117.1 634.2h0.55M131.6 645.3h0.55M131.1 640.9h0.55M126.3 642.6h0.55M124.3 650.3h0.55M122.8 648.7h0.55M123.6 652.8h0.55M122.1 632.7h0.55M134.4 643.3h0.55M115.7 642.4h0.55M136.1 640.1h0.55M126.2 647.4h0.55M120.6 657.7h0.55M134.9 634.3h0.55M125.7 631.6h0.55M118.6 646.3h0.55M122.7 648.5h0.55M124.9 646.3h0.55M120.7 647.3h0.55M121.4 658.9h0.55M124.3 652.7h0.55M121.4 643.8h0.55M116.7 637.3h0.55M137.5 642.0h0.55M120.9 641.7h0.55M129.8 639.4h0.55M116.3 642.8h0.55M133.2 642.8h0.55M118.4 641.3h0.55M131.3 643.3h0.55M120.6 651.5h0.55M125.3 636.4h0.55M132.1 648.8h0.55M116.2 637.3h0.55M128.4 639.9h0.55M118.8 643.7h0.55M120.9 651.0h0.55M114.1 651.3h0.55M132.1 648.5h0.55M127.0 644.7h0.55M119.3 644.8h0.55M118.3 657.9h0.55M117.8 639.0h0.55M130.7 652.2h0.55M122.4 642.2h0.55M114.2 652.1h0.55M117.7 641.5h0.55M122.6 635.3h0.55M121.0 627.7h0.55M113.2 637.7h0.55M121.1 650.7h0.55M114.5 657.1h0.55M114.9 643.8h0.55M126.8 637.7h0.55M131.4 639.8h0.55M118.2 639.2h0.55M129.4 641.5h0.55M115.3 640.4h0.55M116.1 646.1h0.55M117.6 651.9h0.55M119.4 641.2h0.55M127.7 652.7h0.55M106.5 652.8h0.55M129.4 642.9h0.55M123.7 633.1h0.55M117.8 653.3h0.55M120.5 645.6h0.55M126.6 645.6h0.55M123.3 640.7h0.55M121.9 654.0h0.55M114.2 637.3h0.55M120.5 651.5h0.55M134.7 641.1h0.55M117.9 650.4h0.55M126.0 651.5h0.55M126.6 648.3h0.55M125.8 646.2h0.55M114.0 646.4h0.55M135.9 649.0h0.55M129.1 644.8h0.55M121.1 647.4h0.55M121.2 652.6h0.55M117.1 641.1h0.55M112.8 659.0h0.55M113.6 641.6h0.55M128.2 655.1h0.55M125.3 641.1h0.55M123.4 638.3h0.55M119.4 645.8h0.55M123.0 649.8h0.55M129.4 655.3h0.55M126.6 641.0h0.55M121.1 639.0h0.55M115.9 644.5h0.55M127.1 638.0h0.55M107.4 642.8h0.55M112.0 647.0h0.55M116.3 638.5h0.55M114.4 644.5h0.55M125.5 647.7h0.55M130.3 639.8h0.55M126.0 643.7h0.55M111.8 643.9h0.55M136.9 638.1h0.55M135.2 645.7h0.55M133.0 639.3h0.55M127.4 640.6h0.55M110.5 640.6h0.55M120.8 633.7h0.55M122.0 638.5h0.55M120.7 635.5h0.55M126.9 641.2h0.55M106.8 640.0h0.55M118.0 634.6h0.55M124.8 647.1h0.55M119.6 655.3h0.55M132.5 643.0h0.55M125.7 646.6h0.55M122.3 653.8h0.55M111.7 630.7h0.55M122.4 647.6h0.55M124.8 635.9h0.55M129.6 636.1h0.55M127.5 647.8h0.55M125.1 651.5h0.55M122.3 659.0h0.55M123.9 641.0h0.55M140.2 638.0h0.55M112.7 658.0h0.55M131.2 637.2h0.55M116.7 654.5h0.55M119.6 638.8h0.55M118.0 646.6h0.55M132.0 652.0h0.55M120.3 656.1h0.55M111.9 653.3h0.55M121.3 648.0h0.55M116.5 641.6h0.55M125.9 651.2h0.55M105.3 651.1h0.55M116.0 639.3h0.55M112.7 651.7h0.55M126.8 647.4h0.55M103.4 640.7h0.55M115.9 643.8h0.55M133.3 637.8h0.55M124.5 650.8h0.55M134.3 642.8h0.55M128.2 656.0h0.55M114.3 634.8h0.55M115.1 644.9h0.55M131.6 643.4h0.55M130.3 642.4h0.55M120.3 641.2h0.55M113.5 651.3h0.55M125.2 647.5h0.55M116.5 643.7h0.55M125.4 647.7h0.55M133.8 634.2h0.55M130.5 647.8h0.55M119.7 646.5h0.55M124.4 654.6h0.55M140.6 640.2h0.55M121.6 651.5h0.55M124.5 642.4h0.55M128.8 648.3h0.55M120.4 651.2h0.55M102.1 642.8h0.55M119.4 646.7h0.55M114.1 658.0h0.55M118.9 646.8h0.55M122.7 649.7h0.55M118.8 651.1h0.55M111.9 637.9h0.55M125.4 644.5h0.55M123.3 630.5h0.55M120.7 640.6h0.55M119.1 642.9h0.55M117.1 641.7h0.55M124.8 631.5h0.55M110.0 651.5h0.55M134.2 634.8h0.55M112.1 640.0h0.55M116.7 655.4h0.55M128.3 648.7h0.55M124.4 645.4h0.55M114.9 640.4h0.55M131.5 658.7h0.55M121.5 653.8h0.55M116.3 647.0h0.55M133.5 639.9h0.55M124.7 639.7h0.55M132.2 632.2h0.55M124.9 641.9h0.55M123.6 646.6h0.55M132.9 646.9h0.55M129.8 644.4h0.55M116.6 656.1h0.55M133.6 643.8h0.55M126.6 641.3h0.55M113.1 654.9h0.55M120.4 658.8h0.55M126.3 643.0h0.55M117.1 647.2h0.55M113.1 645.2h0.55M132.3 638.8h0.55M134.5 639.4h0.55M122.2 638.0h0.55M118.1 642.9h0.55M115.6 660.7h0.55M125.4 642.8h0.55M113.4 648.0h0.55M111.4 641.6h0.55M124.9 658.9h0.55M109.9 653.0h0.55M110.7 628.2h0.55M110.7 647.8h0.55M120.0 640.0h0.55M135.4 643.6h0.55M113.0 636.3h0.55M121.0 640.2h0.55M126.4 635.7h0.55M129.0 638.9h0.55M122.1 642.7h0.55M128.5 650.4h0.55M115.3 640.7h0.55M137.3 645.9h0.55M137.4 645.8h0.55M126.0 654.8h0.55M115.4 644.0h0.55M119.9 650.3h0.55M114.7 646.1h0.55M114.6 645.7h0.55M132.0 648.9h0.55M125.5 661.5h0.55M117.2 649.6h0.55M112.7 632.3h0.55M111.0 663.7h0.55M108.6 675.7h0.55M106.6 631.7h0.55M88.2 655.0h0.55M126.7 643.2h0.55M113.7 648.8h0.55M110.5 638.7h0.55M121.8 660.7h0.55M89.7 670.5h0.55M104.1 651.9h0.55M101.5 661.0h0.55M113.2 656.7h0.55M113.3 653.4h0.55M93.4 675.2h0.55M114.4 645.2h0.55M140.5 643.5h0.55M137.0 649.5h0.55M95.2 656.4h0.55M105.4 639.3h0.55M149.4 673.1h0.55M117.2 667.1h0.55M129.5 643.9h0.55M96.0 656.7h0.55M99.8 664.7h0.55M124.9 640.1h0.55M136.2 674.5h0.55M117.8 674.6h0.55M115.9 630.8h0.55M116.7 646.2h0.55M144.9 654.0h0.55M147.6 637.5h0.55M111.8 630.7h0.55M91.2 662.7h0.55M90.0 640.2h0.55M114.9 672.4h0.55M102.6 630.2h0.55M131.5 662.0h0.55M96.6 672.7h0.55M141.6 673.1h0.55M139.1 655.1h0.55M131.5 635.7h0.55M127.9 646.3h0.55M108.8 644.4h0.55M93.0 667.3h0.55M135.4 630.4h0.55M119.8 631.1h0.55M121.8 637.7h0.55M147.6 644.7h0.55M120.5 642.1h0.55M144.0 630.4h0.55M106.8 640.4h0.55M134.3 647.1h0.55M141.4 645.1h0.55M95.8 650.9h0.55M93.3 637.0h0.55M120.4 656.4h0.55M101.2 638.3h0.55M120.3 650.5h0.55M117.9 660.9h0.55M96.7 630.5h0.55M92.0 666.6h0.55M131.6 637.1h0.55M108.5 644.2h0.55M145.2 649.0h0.55M132.3 634.0h0.55M90.6 640.4h0.55M127.8 650.6h0.55M142.1 667.8h0.55M129.2 675.9h0.55M147.5 670.6h0.55M93.5 648.4h0.55M97.0 658.2h0.55M119.3 634.2h0.55M92.9 651.4h0.55M126.7 648.7h0.55M117.3 659.2h0.55M131.3 662.6h0.55M113.7 637.9h0.55M141.9 631.9h0.55M100.8 638.8h0.55M124.8 658.6h0.55M94.2 653.7h0.55M123.6 661.6h0.55M92.6 663.4h0.55M104.8 647.7h0.55M95.7 668.7h0.55M126.3 667.4h0.55M119.9 635.1h0.55M112.9 633.6h0.55M94.1 667.1h0.55M88.0 647.9h0.55M90.6 665.2h0.55M149.4 631.5h0.55M110.6 674.9h0.55M103.6 644.3h0.55M149.2 672.4h0.55M112.0 660.8h0.55M137.2 646.3h0.55M88.1 647.2h0.55M130.9 674.4h0.55M115.4 648.9h0.55M111.6 657.9h0.55M89.4 672.0h0.55M147.2 631.4h0.55M88.4 644.4h0.55M97.0 665.4h0.55M141.9 655.1h0.55M146.5 640.5h0.55M100.2 647.6h0.55M116.0 639.1h0.55" stroke="#000" stroke-width="0.55" stroke-opacity="0.45" fill="none"/>
<text x="22.0" y="619" font-size="4.6" fill="#2a2a2a" stroke="#2a2a2a" stroke-width="0.12" textLength="8.41" lengthAdjust="spacingAndGlyphs">3.75</text>
<text x="80.89999999999999" y="619" font-size="4.6" fill="#a82c44" stroke="#a82c44" stroke-width="0.12" text-anchor="end" textLength="8.41" lengthAdjust="spacingAndGlyphs">82.7</text>
<text x="22.0" y="675" font-size="4.6" fill="#2a2a2a" stroke="#2a2a2a" stroke-width="0.12" textLength="8.41" lengthAdjust="spacingAndGlyphs">5.31</text>
<text x="80.89999999999999" y="675" font-size="4.6" fill="#2a2a2a" stroke="#2a2a2a" stroke-width="0.12" text-anchor="end" textLength="8.41" lengthAdjust="spacingAndGlyphs">8.22</text>
<text x="89.3" y="619" font-size="4.6" fill="#2a2a2a" stroke="#2a2a2a" stroke-width="0.12" textLength="8.41" lengthAdjust="spacingAndGlyphs">9.46</text>
<text x="148.7" y="619" font-size="4.6" fill="#a82c44" stroke="#a82c44" stroke-width="0.12" text-anchor="end" textLength="8.41" lengthAdjust="spacingAndGlyphs">66.2</text>
<text x="89.3" y="675" font-size="4.6" fill="#2a2a2a" stroke="#2a2a2a" stroke-width="0.12" textLength="8.41" lengthAdjust="spacingAndGlyphs">7.74</text>
<text x="148.7" y="675" font-size="4.6" fill="#2a2a2a" stroke="#2a2a2a" stroke-width="0.12" text-anchor="end" textLength="8.41" lengthAdjust="spacingAndGlyphs">16.6</text>
<text x="157.2" y="619" font-size="4.6" fill="#2a2a2a" stroke="#2a2a2a" stroke-width="0.12" textLength="8.41" lengthAdjust="spacingAndGlyphs">2.59</text>
<text x="216.29999999999998" y="619" font-size="4.6" fill="#a82c44" stroke="#a82c44" stroke-width="0.12" text-anchor="end" textLength="8.41" lengthAdjust="spacingAndGlyphs">96.9</text>
<text x="157.2" y="675" font-size="4.6" fill="#2a2a2a" stroke="#2a2a2a" stroke-width="0.12" textLength="8.41" lengthAdjust="spacingAndGlyphs">0.26</text>
<text x="216.29999999999998" y="675" font-size="4.6" fill="#2a2a2a" stroke="#2a2a2a" stroke-width="0.12" text-anchor="end" textLength="8.41" lengthAdjust="spacingAndGlyphs">0.30</text>
<text x="225.2" y="619" font-size="4.6" fill="#2a2a2a" stroke="#2a2a2a" stroke-width="0.12" textLength="8.41" lengthAdjust="spacingAndGlyphs">2.74</text>
<text x="284.3" y="619" font-size="4.6" fill="#a82c44" stroke="#a82c44" stroke-width="0.12" text-anchor="end" textLength="8.41" lengthAdjust="spacingAndGlyphs">95.1</text>
<text x="225.2" y="675" font-size="4.6" fill="#2a2a2a" stroke="#2a2a2a" stroke-width="0.12" textLength="8.41" lengthAdjust="spacingAndGlyphs">0.70</text>
<text x="284.3" y="675" font-size="4.6" fill="#2a2a2a" stroke="#2a2a2a" stroke-width="0.12" text-anchor="end" textLength="8.41" lengthAdjust="spacingAndGlyphs">1.44</text>
<line x1="61.5" y1="600.5" x2="61.5" y2="610.5" stroke="#3d5a8a" stroke-width="0.6"/>
<path d="M59.9 609.5 L63.1 609.5 L61.5 613.3 Z" fill="#3d5a8a"/>
<line x1="129" y1="600.5" x2="129" y2="610.5" stroke="#3d5a8a" stroke-width="0.6"/>
<path d="M127.4 609.5 L130.6 609.5 L129 613.3 Z" fill="#3d5a8a"/>
<line x1="196.7" y1="600.5" x2="196.7" y2="610.5" stroke="#3d5a8a" stroke-width="0.6"/>
<path d="M195.1 609.5 L198.29999999999998 609.5 L196.7 613.3 Z" fill="#3d5a8a"/>
<line x1="264.8" y1="600.5" x2="264.8" y2="610.5" stroke="#3d5a8a" stroke-width="0.6"/>
<path d="M263.2 609.5 L266.40000000000003 609.5 L264.8 613.3 Z" fill="#3d5a8a"/>
<text x="16" y="567" font-size="8.2" fill="#231f20" stroke="#231f20" stroke-width="0.12" text-anchor="middle" textLength="19.2" lengthAdjust="spacingAndGlyphs" transform="rotate(-90 16 567)">CD56</text>
<text x="25" y="609.6" font-size="7.9" fill="#231f20" stroke="#231f20" stroke-width="0.12" textLength="18.8" lengthAdjust="spacingAndGlyphs">CD45</text>
<line x1="43.8" y1="606.6" x2="278" y2="606.6" stroke="#231f20" stroke-width="0.9"/>
<path d="M284.5 606.6 L276 604 L278 606.6 L276 609.2 Z" fill="#111"/>
<text x="16" y="646" font-size="8.2" fill="#231f20" stroke="#231f20" stroke-width="0.12" text-anchor="middle" textLength="11.1" lengthAdjust="spacingAndGlyphs" transform="rotate(-90 16 646)">CD4</text>
<text x="27" y="686.7" font-size="7.9" fill="#231f20" stroke="#231f20" stroke-width="0.12" textLength="14.3" lengthAdjust="spacingAndGlyphs">CD8</text>
<line x1="43.8" y1="684.2" x2="278" y2="684.2" stroke="#231f20" stroke-width="0.9"/>
<path d="M284.5 684.2 L276 681.6 L278 684.2 L276 686.8 Z" fill="#111"/>
<rect x="7.90" y="501.00" width="2.20" height="7.80" fill="#4a4a4a"/>
<text x="124.6" y="514.0" font-size="7.2" fill="#4f6894" stroke="#4f6894" stroke-width="0.1" textLength="56.4" lengthAdjust="spacingAndGlyphs">T Cell Progenitors</text>
<text x="51.2" y="531.8" font-size="6.4" fill="#231f20" stroke="#231f20" stroke-width="0.12" text-anchor="middle">WT</text>
<text x="119.6" y="532" font-size="6.4" fill="#231f20" stroke="#231f20" stroke-width="0.12" text-anchor="middle" textLength="44.7" lengthAdjust="spacingAndGlyphs">DKC1_A353V_LP</text>
<text x="187.2" y="524.5" font-size="6.4" fill="#231f20" stroke="#231f20" stroke-width="0.12" text-anchor="middle" textLength="35.2" lengthAdjust="spacingAndGlyphs">DKC1_A353V</text>
<text x="187.2" y="532.3" font-size="6.4" fill="#231f20" stroke="#231f20" stroke-width="0.12" text-anchor="middle" textLength="37" lengthAdjust="spacingAndGlyphs">shEXOSC3_LP</text>
<text x="254.8" y="524.5" font-size="6.4" fill="#231f20" stroke="#231f20" stroke-width="0.12" text-anchor="middle" textLength="35.6" lengthAdjust="spacingAndGlyphs">DKC1_A353V</text>
<text x="255.2" y="532.3" font-size="6.4" fill="#231f20" stroke="#231f20" stroke-width="0.12" text-anchor="middle" textLength="33" lengthAdjust="spacingAndGlyphs">shPAPD5_LP</text>
<text x="8.8" y="178.75" font-size="10.5" fill="#231f20" stroke="#231f20" stroke-width="0.05">C</text>
<text x="7.5" y="341.25" font-size="10.5" fill="#231f20" stroke="#231f20" stroke-width="0.05">F</text>
<path d="M0 0H520V695H0Z M1.1 1.2V693.5H519V1.2Z" fill="#000" fill-rule="evenodd"/></svg></body></html>
